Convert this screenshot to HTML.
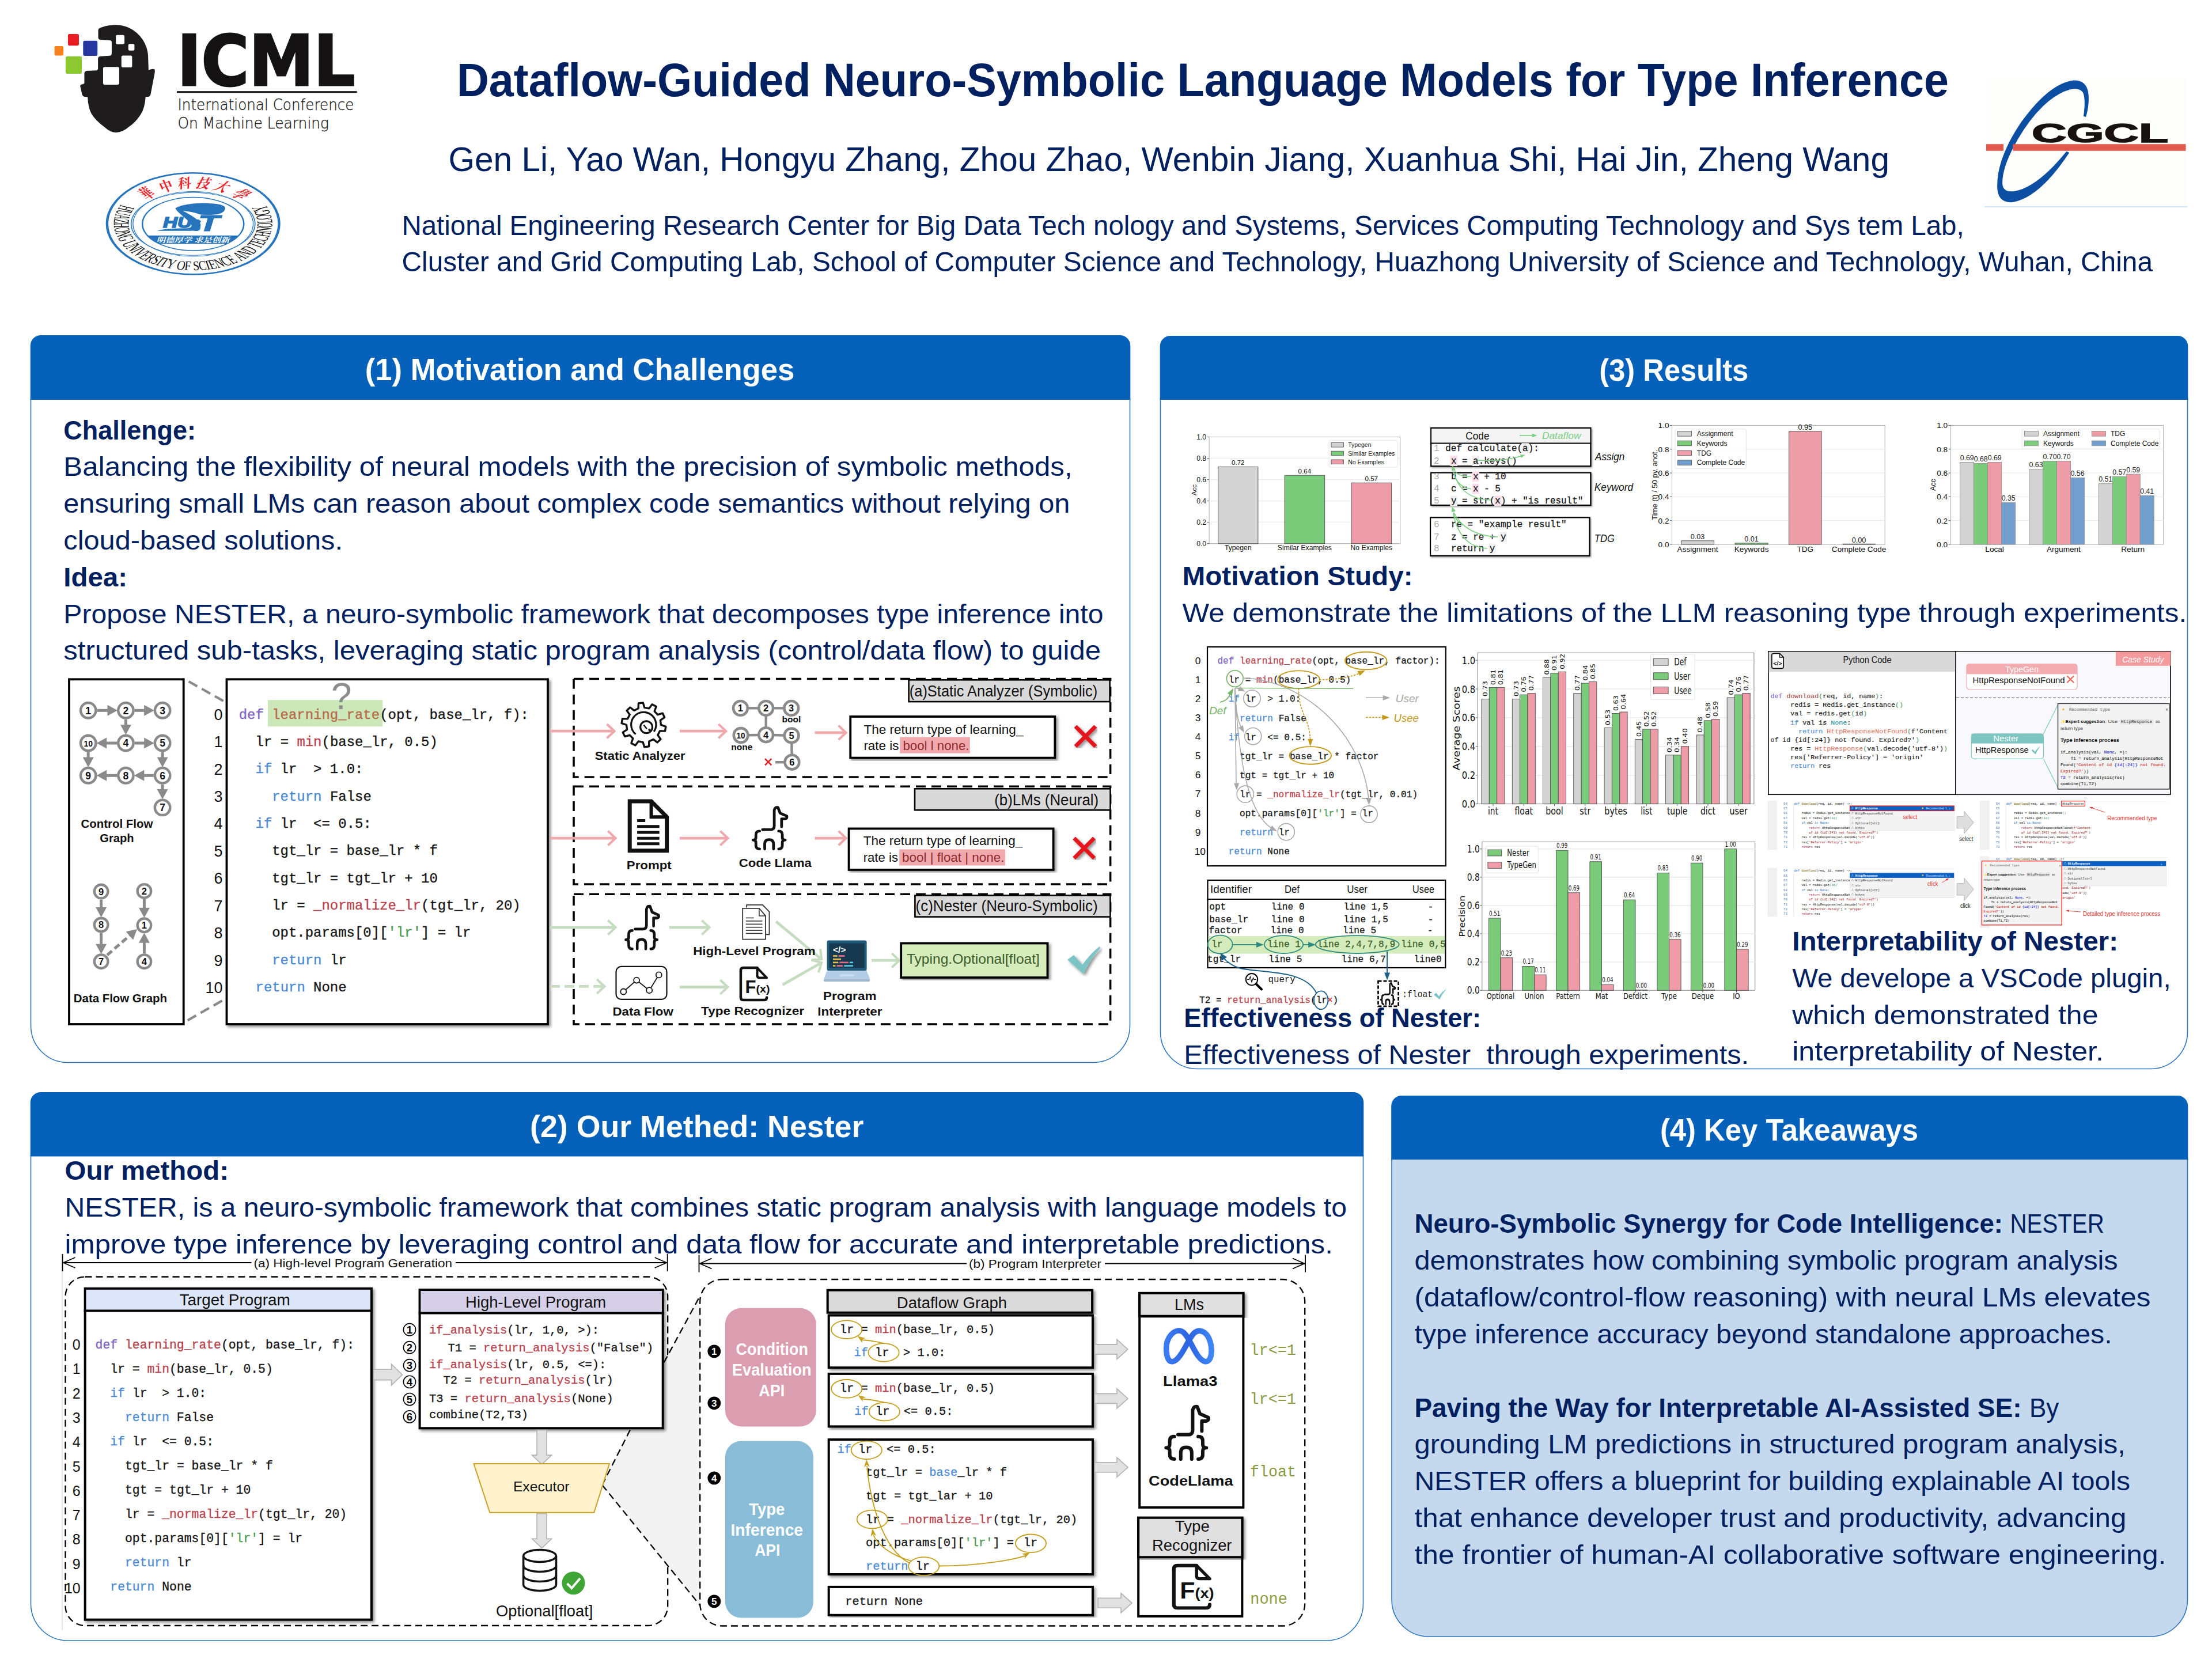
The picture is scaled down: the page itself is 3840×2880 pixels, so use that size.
<!DOCTYPE html>
<html lang="en">
<head>
<meta charset="utf-8">
<title>Dataflow-Guided Neuro-Symbolic Language Models for Type Inference</title>
<style>
html,body{margin:0;padding:0;background:#fff;}
body{width:3840px;height:2880px;overflow:hidden;}
svg{display:block;}
text{white-space:pre;}
.fs{font-family:"Liberation Sans",sans-serif;}
.fm{font-family:"Liberation Mono",monospace;}
.fr{font-family:"Liberation Serif","Noto Serif CJK SC",serif;}
.fd{font-family:"DejaVu Sans","Liberation Sans",sans-serif;}
.fdm{font-family:"DejaVu Sans Mono","Liberation Mono",monospace;}
</style>
</head>
<body>
<svg width="3840" height="2880" viewBox="0 0 3840 2880">
<defs>
<filter id="sh" x="-5%" y="-5%" width="112%" height="112%"><feDropShadow dx="3" dy="3" stdDeviation="2.5" flood-color="#000" flood-opacity="0.45"/></filter>
</defs>
<path d="M53.5,692 V1780.5 A64,64 0 0 0 117.5,1844.5 H1897.5 A64,64 0 0 0 1961.5,1780.5 V692 Z" fill="#fff" stroke="#2E75C0" stroke-width="1.6" />
<path d="M52.7,694 V600 A18,18 0 0 1 70.7,582 H1944.3 A18,18 0 0 1 1962.3,600 V694 Z" fill="#0561B9" />
<path d="M2014.5,692 V1791.5 A64,64 0 0 0 2078.5,1855.5 H3733.5 A64,64 0 0 0 3797.5,1791.5 V692 Z" fill="#fff" stroke="#2E75C0" stroke-width="1.6" />
<path d="M2013.7,694 V601 A18,18 0 0 1 2031.7,583 H3780.3 A18,18 0 0 1 3798.3,601 V694 Z" fill="#0561B9" />
<path d="M53.5,2005.5 V2784 A64,64 0 0 0 117.5,2848 H2302.5 A64,64 0 0 0 2366.5,2784 V2005.5 Z" fill="#fff" stroke="#2E75C0" stroke-width="1.6" />
<path d="M52.7,2007.5 V1914 A18,18 0 0 1 70.7,1896 H2349.3 A18,18 0 0 1 2367.3,1914 V2007.5 Z" fill="#0561B9" />
<path d="M2416,2011 V2777 A64,64 0 0 0 2480,2841 H3733.5 A64,64 0 0 0 3797.5,2777 V2011 Z" fill="#C4D9ED" stroke="#2E75C0" stroke-width="1.6" />
<path d="M2415.2,2013 V1920 A18,18 0 0 1 2433.2,1902 H3780.3 A18,18 0 0 1 3798.3,1920 V2013 Z" fill="#0561B9" />
<text class="fs" x="633.7" y="659.5" font-size="53" textLength="745.6" lengthAdjust="spacingAndGlyphs" font-weight="bold" fill="#fff">(1) Motivation and Challenges</text>
<text class="fs" x="2776.3" y="661.0" font-size="53" textLength="259.0" lengthAdjust="spacingAndGlyphs" font-weight="bold" fill="#fff">(3) Results</text>
<text class="fs" x="920.0" y="1974.4" font-size="53" textLength="579.4" lengthAdjust="spacingAndGlyphs" font-weight="bold" fill="#fff">(2) Our Methed: Nester</text>
<text class="fs" x="2881.9" y="1980.2" font-size="53" textLength="448.1" lengthAdjust="spacingAndGlyphs" font-weight="bold" fill="#fff">(4) Key Takeaways</text>
<text class="fs" x="793.0" y="166.8" font-size="82" textLength="2590.0" lengthAdjust="spacingAndGlyphs" font-weight="bold" fill="#002060">Dataflow-Guided Neuro-Symbolic Language Models for Type Inference</text>
<text class="fs" x="778.5" y="297.0" font-size="60" textLength="2501.5" lengthAdjust="spacingAndGlyphs" fill="#002060">Gen Li, Yao Wan, Hongyu Zhang, Zhou Zhao, Wenbin Jiang, Xuanhua Shi, Hai Jin, Zheng Wang</text>
<text class="fs" x="697.5" y="407.5" font-size="48.5" textLength="2712.1" lengthAdjust="spacingAndGlyphs" fill="#002060">National Engineering Research Center for Big Data Tech nology and Systems, Services Computing Technology and Sys tem Lab,</text>
<text class="fs" x="697.5" y="470.8" font-size="48.5" textLength="3039.5" lengthAdjust="spacingAndGlyphs" fill="#002060">Cluster and Grid Computing Lab, School of Computer Science and Technology, Huazhong University of Science and Technology, Wuhan, China</text>
<text class="fs" x="110.3" y="762.6" font-size="47" textLength="229.7" lengthAdjust="spacingAndGlyphs" font-weight="bold" fill="#002060">Challenge:</text>
<text class="fs" x="110.3" y="826.4" font-size="47" textLength="1751.5" lengthAdjust="spacingAndGlyphs" fill="#002060">Balancing the flexibility of neural models with the precision of symbolic methods,</text>
<text class="fs" x="110.3" y="890.2" font-size="47" textLength="1747.0" lengthAdjust="spacingAndGlyphs" fill="#002060">ensuring small LMs can reason about complex code semantics without relying on</text>
<text class="fs" x="110.3" y="954.0" font-size="47" textLength="484.7" lengthAdjust="spacingAndGlyphs" fill="#002060">cloud-based solutions.</text>
<text class="fs" x="110.3" y="1017.8" font-size="47" textLength="110.7" lengthAdjust="spacingAndGlyphs" font-weight="bold" fill="#002060">Idea:</text>
<text class="fs" x="110.3" y="1081.6" font-size="47" textLength="1805.2" lengthAdjust="spacingAndGlyphs" fill="#002060">Propose NESTER, a neuro-symbolic framework that decomposes type inference into</text>
<text class="fs" x="110.3" y="1145.4" font-size="47" textLength="1800.7" lengthAdjust="spacingAndGlyphs" fill="#002060">structured sub-tasks, leveraging static program analysis (control/data flow) to guide</text>
<text class="fs" x="2052.5" y="1015.5" font-size="47" textLength="400.1" lengthAdjust="spacingAndGlyphs" font-weight="bold" fill="#002060">Motivation Study:</text>
<text class="fs" x="2052.5" y="1080.3" font-size="47" textLength="1743.8" lengthAdjust="spacingAndGlyphs" fill="#002060">We demonstrate the limitations of the LLM reasoning type through experiments.</text>
<text class="fs" x="112.5" y="2048.1" font-size="47" textLength="284.5" lengthAdjust="spacingAndGlyphs" font-weight="bold" fill="#002060">Our method:</text>
<text class="fs" x="112.5" y="2111.9" font-size="47" textLength="2225.5" lengthAdjust="spacingAndGlyphs" fill="#002060">NESTER, is a neuro-symbolic framework that combines static program analysis with language models to</text>
<text class="fs" x="112.5" y="2175.9" font-size="47" textLength="2201.5" lengthAdjust="spacingAndGlyphs" fill="#002060">improve type inference by leveraging control and data flow for accurate and interpretable predictions.</text>
<text class="fs" x="2455.5" y="2140.0" font-size="47" textLength="1021.5" lengthAdjust="spacingAndGlyphs" font-weight="bold" fill="#002060">Neuro-Symbolic Synergy for Code Intelligence:</text>
<text class="fs" x="3489.5" y="2140.0" font-size="47" textLength="163.2" lengthAdjust="spacingAndGlyphs" fill="#002060">NESTER</text>
<text class="fs" x="2455.5" y="2204.2" font-size="47" textLength="1221.2" lengthAdjust="spacingAndGlyphs" fill="#002060">demonstrates how combining symbolic program analysis</text>
<text class="fs" x="2455.5" y="2268.0" font-size="47" textLength="1278.1" lengthAdjust="spacingAndGlyphs" fill="#002060">(dataflow/control-flow reasoning) with neural LMs elevates</text>
<text class="fs" x="2455.5" y="2331.8" font-size="47" textLength="1211.2" lengthAdjust="spacingAndGlyphs" fill="#002060">type inference accuracy beyond standalone approaches.</text>
<text class="fs" x="2455.5" y="2459.6" font-size="47" textLength="1054.0" lengthAdjust="spacingAndGlyphs" font-weight="bold" fill="#002060">Paving the Way for Interpretable AI-Assisted SE:</text>
<text class="fs" x="3523.0" y="2459.6" font-size="47" textLength="51.4" lengthAdjust="spacingAndGlyphs" fill="#002060">By</text>
<text class="fs" x="2455.5" y="2523.4" font-size="47" textLength="1234.5" lengthAdjust="spacingAndGlyphs" fill="#002060">grounding LM predictions in structured program analysis,</text>
<text class="fs" x="2455.5" y="2587.2" font-size="47" textLength="1242.5" lengthAdjust="spacingAndGlyphs" fill="#002060">NESTER offers a blueprint for building explainable AI tools</text>
<text class="fs" x="2455.5" y="2651.0" font-size="47" textLength="1236.0" lengthAdjust="spacingAndGlyphs" fill="#002060">that enhance developer trust and productivity, advancing</text>
<text class="fs" x="2455.5" y="2714.8" font-size="47" textLength="1304.9" lengthAdjust="spacingAndGlyphs" fill="#002060">the frontier of human-AI collaborative software engineering.</text>
<g transform="translate(80,30) scale(0.12658)">
<path d="M715,180 Q715,150 760,138 Q860,105 950,105 Q1150,105 1290,260 Q1400,390 1400,560 L1405,722 Q1460,705 1485,712 Q1495,720 1490,760 L1435,1050 Q1428,1088 1395,1090 L1365,1090 Q1355,1240 1300,1330 Q1230,1440 1140,1500 Q1050,1580 960,1580 Q880,1580 800,1505 Q680,1420 620,1320 Q575,1230 570,1092 L530,1090 Q500,1085 492,1050 L468,945 Q465,925 490,920 L515,915 Q525,912 525,895 L525,775 Q525,738 560,735 L690,728 Q712,726 712,700 L712,570 Q712,538 745,535 L870,528 Q900,525 900,495 L900,345 Q900,318 870,316 L745,308 Q715,305 715,275 Z" fill="#1E1C1C" />
<rect x="300.0" y="230.0" width="150.0" height="160.0" fill="#EC1C24" rx="22"/>
<rect x="115.0" y="395.0" width="123.0" height="130.0" fill="#F5821F" rx="20"/>
<rect x="508.0" y="322.0" width="197.0" height="208.0" fill="#2638A0" rx="24"/>
<rect x="268.0" y="535.0" width="222.0" height="240.0" fill="#8CC82F" rx="24"/>
<rect x="957.0" y="243.0" width="118.0" height="127.0" fill="#fff" rx="20"/>
<rect x="1128.0" y="365.0" width="84.0" height="92.0" fill="#fff" rx="18"/>
<rect x="1033.0" y="525.0" width="147.0" height="163.0" fill="#fff" rx="20"/>
<rect x="782.0" y="682.0" width="221.0" height="243.0" fill="#fff" rx="22"/>
</g>
<text class="fd" x="307.5" y="148.1" font-size="121" textLength="309.0" lengthAdjust="spacingAndGlyphs" font-weight="bold" fill="#141212" stroke="#141212" stroke-width="3">ICML</text>
<rect x="307.0" y="158.2" width="312.7" height="3.0" fill="#141212"/>
<text class="fd" x="308.5" y="190.7" font-size="26.5" textLength="306.0" lengthAdjust="spacingAndGlyphs" font-weight="200" fill="#1a1a1a" stroke="#1a1a1a" stroke-width="0.35">International Conference</text>
<text class="fd" x="308.5" y="222.5" font-size="26.5" textLength="262.5" lengthAdjust="spacingAndGlyphs" font-weight="200" fill="#1a1a1a" stroke="#1a1a1a" stroke-width="0.35">On Machine Learning</text>
<g transform="translate(335.2,388.3) scale(1.697,1)">
<circle cx="0.0" cy="0.0" r="88.0" fill="#fff" stroke="#2574BC" stroke-width="2.6" />
<ellipse cx="0.0" cy="0.5" rx="63.4" ry="54.5" fill="none" stroke="#2574BC" stroke-width="1.0" />
<ellipse cx="0.0" cy="0.5" rx="61.5" ry="56.3" fill="none" stroke="#2574BC" stroke-width="0.8" />
<ellipse cx="0.0" cy="0.5" rx="51.9" ry="46.2" fill="none" stroke="#2574BC" stroke-width="1.5" />
<clipPath id="hcl"><ellipse cx="0" cy="0.5" rx="51.9" ry="46.2"/></clipPath>
<rect x="-56.0" y="20.5" width="112.0" height="14.4" fill="#2574BC" clip-path="url(#hcl)"/>
<text class="fr" font-size="23" fill="#151515" text-anchor="middle" transform="translate(-75.62,-29.02) rotate(111.0) scale(0.512,1)">H</text>
<text class="fr" font-size="23" fill="#151515" text-anchor="middle" transform="translate(-78.25,-20.93) rotate(105.0) scale(0.512,1)">U</text>
<text class="fr" font-size="23" fill="#151515" text-anchor="middle" transform="translate(-80.01,-12.61) rotate(99.0) scale(0.512,1)">A</text>
<text class="fr" font-size="23" fill="#151515" text-anchor="middle" transform="translate(-80.86,-4.80) rotate(93.4) scale(0.512,1)">Z</text>
<text class="fr" font-size="23" fill="#151515" text-anchor="middle" transform="translate(-80.94,3.04) rotate(87.8) scale(0.512,1)">H</text>
<text class="fr" font-size="23" fill="#151515" text-anchor="middle" transform="translate(-80.18,11.51) rotate(81.8) scale(0.512,1)">O</text>
<text class="fr" font-size="23" fill="#151515" text-anchor="middle" transform="translate(-78.53,19.86) rotate(75.8) scale(0.512,1)">N</text>
<text class="fr" font-size="23" fill="#151515" text-anchor="middle" transform="translate(-76.01,27.98) rotate(69.8) scale(0.512,1)">G</text>
<text class="fr" font-size="23" fill="#151515" text-anchor="middle" transform="translate(-71.31,38.41) rotate(61.7) scale(0.512,1)">U</text>
<text class="fr" font-size="23" fill="#151515" text-anchor="middle" transform="translate(-66.89,45.68) rotate(55.7) scale(0.512,1)">N</text>
<text class="fr" font-size="23" fill="#151515" text-anchor="middle" transform="translate(-63.19,50.67) rotate(51.3) scale(0.512,1)">I</text>
<text class="fr" font-size="23" fill="#151515" text-anchor="middle" transform="translate(-59.12,55.37) rotate(46.9) scale(0.512,1)">V</text>
<text class="fr" font-size="23" fill="#151515" text-anchor="middle" transform="translate(-53.49,60.83) rotate(41.3) scale(0.512,1)">E</text>
<text class="fr" font-size="23" fill="#151515" text-anchor="middle" transform="translate(-47.61,65.53) rotate(36.0) scale(0.512,1)">R</text>
<text class="fr" font-size="23" fill="#151515" text-anchor="middle" transform="translate(-41.60,69.50) rotate(30.9) scale(0.512,1)">S</text>
<text class="fr" font-size="23" fill="#151515" text-anchor="middle" transform="translate(-37.02,72.04) rotate(27.2) scale(0.512,1)">I</text>
<text class="fr" font-size="23" fill="#151515" text-anchor="middle" transform="translate(-32.00,74.41) rotate(23.3) scale(0.512,1)">T</text>
<text class="fr" font-size="23" fill="#151515" text-anchor="middle" transform="translate(-24.64,77.16) rotate(17.7) scale(0.512,1)">Y</text>
<text class="fr" font-size="23" fill="#151515" text-anchor="middle" transform="translate(-13.52,79.86) rotate(9.6) scale(0.512,1)">O</text>
<text class="fr" font-size="23" fill="#151515" text-anchor="middle" transform="translate(-6.05,80.77) rotate(4.3) scale(0.512,1)">F</text>
<text class="fr" font-size="23" fill="#151515" text-anchor="middle" transform="translate(3.44,80.93) rotate(-2.4) scale(0.512,1)">S</text>
<text class="fr" font-size="23" fill="#151515" text-anchor="middle" transform="translate(10.61,80.30) rotate(-7.5) scale(0.512,1)">C</text>
<text class="fr" font-size="23" fill="#151515" text-anchor="middle" transform="translate(16.42,79.32) rotate(-11.7) scale(0.512,1)">I</text>
<text class="fr" font-size="23" fill="#151515" text-anchor="middle" transform="translate(21.82,78.01) rotate(-15.6) scale(0.512,1)">E</text>
<text class="fr" font-size="23" fill="#151515" text-anchor="middle" transform="translate(29.27,75.53) rotate(-21.2) scale(0.512,1)">N</text>
<text class="fr" font-size="23" fill="#151515" text-anchor="middle" transform="translate(36.74,72.19) rotate(-27.0) scale(0.512,1)">C</text>
<text class="fr" font-size="23" fill="#151515" text-anchor="middle" transform="translate(43.28,68.47) rotate(-32.3) scale(0.512,1)">E</text>
<text class="fr" font-size="23" fill="#151515" text-anchor="middle" transform="translate(51.99,62.11) rotate(-39.9) scale(0.512,1)">A</text>
<text class="fr" font-size="23" fill="#151515" text-anchor="middle" transform="translate(58.22,56.32) rotate(-46.0) scale(0.512,1)">N</text>
<text class="fr" font-size="23" fill="#151515" text-anchor="middle" transform="translate(63.80,49.90) rotate(-52.0) scale(0.512,1)">D</text>
<text class="fr" font-size="23" fill="#151515" text-anchor="middle" transform="translate(69.87,40.98) rotate(-59.6) scale(0.512,1)">T</text>
<text class="fr" font-size="23" fill="#151515" text-anchor="middle" transform="translate(73.23,34.62) rotate(-64.7) scale(0.512,1)">E</text>
<text class="fr" font-size="23" fill="#151515" text-anchor="middle" transform="translate(76.13,27.68) rotate(-70.0) scale(0.512,1)">C</text>
<text class="fr" font-size="23" fill="#151515" text-anchor="middle" transform="translate(78.53,19.86) rotate(-75.8) scale(0.512,1)">H</text>
<text class="fr" font-size="23" fill="#151515" text-anchor="middle" transform="translate(80.18,11.51) rotate(-81.8) scale(0.512,1)">N</text>
<text class="fr" font-size="23" fill="#151515" text-anchor="middle" transform="translate(80.94,3.04) rotate(-87.8) scale(0.512,1)">O</text>
<text class="fr" font-size="23" fill="#151515" text-anchor="middle" transform="translate(80.86,-4.80) rotate(-93.4) scale(0.512,1)">L</text>
<text class="fr" font-size="23" fill="#151515" text-anchor="middle" transform="translate(80.01,-12.61) rotate(-99.0) scale(0.512,1)">O</text>
<text class="fr" font-size="23" fill="#151515" text-anchor="middle" transform="translate(78.25,-20.93) rotate(-105.0) scale(0.512,1)">G</text>
<text class="fr" font-size="23" fill="#151515" text-anchor="middle" transform="translate(75.62,-29.02) rotate(-111.0) scale(0.512,1)">Y</text>
<text class="fr" font-size="23" font-weight="bold" font-style="italic" fill="#E8252B" text-anchor="middle" transform="translate(-42.62,-45.71) rotate(317.0) scale(0.6,1)">華</text>
<text class="fr" font-size="23" font-weight="bold" font-style="italic" fill="#E8252B" text-anchor="middle" transform="translate(-25.42,-57.10) rotate(336.0) scale(0.6,1)">中</text>
<text class="fr" font-size="23" font-weight="bold" font-style="italic" fill="#E8252B" text-anchor="middle" transform="translate(-8.70,-61.89) rotate(352.0) scale(0.6,1)">科</text>
<text class="fr" font-size="23" font-weight="bold" font-style="italic" fill="#E8252B" text-anchor="middle" transform="translate(8.70,-61.89) rotate(368.0) scale(0.6,1)">技</text>
<text class="fr" font-size="23" font-weight="bold" font-style="italic" fill="#E8252B" text-anchor="middle" transform="translate(25.42,-57.10) rotate(384.0) scale(0.6,1)">大</text>
<text class="fr" font-size="23" font-weight="bold" font-style="italic" fill="#E8252B" text-anchor="middle" transform="translate(42.62,-45.71) rotate(403.0) scale(0.6,1)">學</text>
</g>
<text class="fr" x="271.5" y="420.6" font-size="12.5" textLength="127.0" lengthAdjust="spacingAndGlyphs" font-weight="bold" fill="#fff" font-style="italic">明德厚学 求是创新</text>
<g transform="translate(170,285) scale(0.14919)">
<path d="M900,515 C960,470 1150,445 1300,455 C1420,460 1490,480 1480,520 C1470,570 1400,592 1290,590 L1200,588 C1120,560 1040,545 990,545 C1080,590 1180,650 1195,700 C1200,750 1150,774 1080,776 L690,776 C760,755 850,750 950,748 L1040,745 C1090,740 1100,715 1080,690 C1030,630 930,570 900,515 Z" fill="#2574BC" />
</g>
<text class="fs" x="283.0" y="395.3" font-size="25" textLength="50.0" lengthAdjust="spacingAndGlyphs" font-weight="bold" fill="#2574BC" font-style="italic" stroke="#2574BC" stroke-width="1.6">HU</text>
<text class="fs" x="333.0" y="400.6" font-size="30" textLength="16.0" lengthAdjust="spacingAndGlyphs" font-weight="bold" fill="#2574BC" font-style="italic">S</text>
<text class="fs" x="344.0" y="400.6" font-size="38.5" textLength="37.0" lengthAdjust="spacingAndGlyphs" font-weight="bold" fill="#2574BC" font-style="italic" stroke="#2574BC" stroke-width="1.2">T</text>
<rect x="3445.0" y="135.0" width="352.5" height="224.0" fill="#FEFEFC"/>
<line x1="3445.0" y1="359.0" x2="3797.5" y2="359.0" stroke="#BBD6F2" stroke-width="1.4" />
<g transform="translate(3440,100) scale(0.18083)">
<path d="M978,562 Q1000,420 978,345 Q950,285 850,305 Q620,370 400,700 Q195,1020 200,1210 Q205,1300 320,1282 Q540,1240 815,900 L842,912 Q560,1340 300,1388 Q148,1400 150,1230 Q150,960 380,620 Q650,245 885,218 Q1012,215 1026,350 Q1036,450 1002,570 Z" fill="#0B4EA2" />
</g>
<rect x="3448.0" y="250.2" width="30.0" height="11.6" fill="#E0584C"/>
<rect x="3494.5" y="250.2" width="300.0" height="11.6" fill="#E0584C"/>
<text class="fs" x="3527.0" y="247.4" font-size="46" textLength="237.0" lengthAdjust="spacingAndGlyphs" font-weight="bold" fill="#17110f" stroke="#17110f" stroke-width="1.5">CGCL</text>
<g id="fig1">
<rect x="120.0" y="1179.3" width="198.7" height="598.7" fill="#fff" stroke="#000" stroke-width="3.8"/>
<line x1="168.6" y1="1233.3" x2="187.5" y2="1233.3" stroke="#8a8a8a" stroke-width="5" />
<polygon points="204.0,1233.3 186.5,1242.8 186.5,1223.8" fill="#8a8a8a"/>
<line x1="233.8" y1="1233.3" x2="251.2" y2="1233.3" stroke="#8a8a8a" stroke-width="5" />
<polygon points="267.7,1233.3 250.2,1242.8 250.2,1223.8" fill="#8a8a8a"/>
<line x1="218.4" y1="1248.7" x2="218.4" y2="1259.1" stroke="#8a8a8a" stroke-width="5" />
<polygon points="218.4,1275.6 208.9,1258.1 227.9,1258.1" fill="#8a8a8a"/>
<line x1="203.0" y1="1290.0" x2="184.1" y2="1290.0" stroke="#8a8a8a" stroke-width="5" />
<polygon points="167.6,1290.0 185.1,1280.5 185.1,1299.5" fill="#8a8a8a"/>
<line x1="233.8" y1="1290.0" x2="251.2" y2="1290.0" stroke="#8a8a8a" stroke-width="5" />
<polygon points="267.7,1290.0 250.2,1299.5 250.2,1280.5" fill="#8a8a8a"/>
<line x1="153.2" y1="1305.4" x2="153.2" y2="1315.4" stroke="#8a8a8a" stroke-width="5" />
<polygon points="153.2,1331.9 143.7,1314.4 162.7,1314.4" fill="#8a8a8a"/>
<line x1="282.1" y1="1305.4" x2="282.1" y2="1315.4" stroke="#8a8a8a" stroke-width="5" />
<polygon points="282.1,1331.9 272.6,1314.4 291.6,1314.4" fill="#8a8a8a"/>
<line x1="266.7" y1="1346.3" x2="249.3" y2="1346.3" stroke="#8a8a8a" stroke-width="5" />
<polygon points="232.8,1346.3 250.3,1336.8 250.3,1355.8" fill="#8a8a8a"/>
<line x1="203.0" y1="1346.3" x2="184.1" y2="1346.3" stroke="#8a8a8a" stroke-width="5" />
<polygon points="167.6,1346.3 185.1,1336.8 185.1,1355.8" fill="#8a8a8a"/>
<line x1="282.1" y1="1361.7" x2="282.1" y2="1371.0" stroke="#8a8a8a" stroke-width="5" />
<polygon points="282.1,1387.5 272.6,1370.0 291.6,1370.0" fill="#8a8a8a"/>
<circle cx="153.2" cy="1233.3" r="13.2" fill="#fff" stroke="#8a8a8a" stroke-width="4.5" />
<text class="fs" x="153.2" y="1239.6" font-size="17.5" font-weight="bold" fill="#111" text-anchor="middle">1</text>
<circle cx="218.4" cy="1233.3" r="13.2" fill="#fff" stroke="#8a8a8a" stroke-width="4.5" />
<text class="fs" x="218.4" y="1239.6" font-size="17.5" font-weight="bold" fill="#111" text-anchor="middle">2</text>
<circle cx="282.1" cy="1233.3" r="13.2" fill="#fff" stroke="#8a8a8a" stroke-width="4.5" />
<text class="fs" x="282.1" y="1239.6" font-size="17.5" font-weight="bold" fill="#111" text-anchor="middle">3</text>
<circle cx="153.2" cy="1290.0" r="13.2" fill="#fff" stroke="#8a8a8a" stroke-width="4.5" />
<text class="fs" x="153.2" y="1295.6" font-size="15.5" font-weight="bold" fill="#111" text-anchor="middle" textLength="15.5" lengthAdjust="spacingAndGlyphs">10</text>
<circle cx="218.4" cy="1290.0" r="13.2" fill="#fff" stroke="#8a8a8a" stroke-width="4.5" />
<text class="fs" x="218.4" y="1296.3" font-size="17.5" font-weight="bold" fill="#111" text-anchor="middle">4</text>
<circle cx="282.1" cy="1290.0" r="13.2" fill="#fff" stroke="#8a8a8a" stroke-width="4.5" />
<text class="fs" x="282.1" y="1296.3" font-size="17.5" font-weight="bold" fill="#111" text-anchor="middle">5</text>
<circle cx="153.2" cy="1346.3" r="13.2" fill="#fff" stroke="#8a8a8a" stroke-width="4.5" />
<text class="fs" x="153.2" y="1352.6" font-size="17.5" font-weight="bold" fill="#111" text-anchor="middle">9</text>
<circle cx="218.4" cy="1346.3" r="13.2" fill="#fff" stroke="#8a8a8a" stroke-width="4.5" />
<text class="fs" x="218.4" y="1352.6" font-size="17.5" font-weight="bold" fill="#111" text-anchor="middle">8</text>
<circle cx="282.1" cy="1346.3" r="13.2" fill="#fff" stroke="#8a8a8a" stroke-width="4.5" />
<text class="fs" x="282.1" y="1352.6" font-size="17.5" font-weight="bold" fill="#111" text-anchor="middle">6</text>
<circle cx="282.1" cy="1401.9" r="13.2" fill="#fff" stroke="#8a8a8a" stroke-width="4.5" />
<text class="fs" x="282.1" y="1408.2" font-size="17.5" font-weight="bold" fill="#111" text-anchor="middle">7</text>
<text class="fs" x="140.5" y="1437.0" font-size="19.6" textLength="124.8" lengthAdjust="spacingAndGlyphs" font-weight="bold" fill="#111">Control Flow</text>
<text class="fs" x="173.3" y="1462.0" font-size="19.6" textLength="59.2" lengthAdjust="spacingAndGlyphs" font-weight="bold" fill="#111">Graph</text>
<line x1="175.6" y1="1561.6" x2="175.6" y2="1576.0" stroke="#8a8a8a" stroke-width="5" />
<polygon points="175.6,1592.5 166.1,1575.0 185.1,1575.0" fill="#8a8a8a"/>
<line x1="175.6" y1="1619.5" x2="175.6" y2="1639.7" stroke="#8a8a8a" stroke-width="5" />
<polygon points="175.6,1656.2 166.1,1638.7 185.1,1638.7" fill="#8a8a8a"/>
<line x1="250.4" y1="1560.9" x2="250.4" y2="1576.8" stroke="#8a8a8a" stroke-width="5" />
<polygon points="250.4,1593.3 240.9,1575.8 259.9,1575.8" fill="#8a8a8a"/>
<line x1="250.4" y1="1655.2" x2="250.4" y2="1635.8" stroke="#8a8a8a" stroke-width="5" />
<polygon points="250.4,1619.3 259.9,1636.8 240.9,1636.8" fill="#8a8a8a"/>
<line x1="186.0" y1="1658.0" x2="225.5" y2="1623.8" stroke="#8a8a8a" stroke-width="5" stroke-dasharray="11 6"/>
<polygon points="238.0,1613.0 231.0,1631.6 218.6,1617.3" fill="#8a8a8a"/>
<circle cx="175.6" cy="1547.6" r="11.8" fill="#fff" stroke="#8a8a8a" stroke-width="4.4" />
<text class="fs" x="175.6" y="1553.5" font-size="16.5" font-weight="bold" fill="#111" text-anchor="middle">9</text>
<circle cx="175.6" cy="1605.5" r="11.8" fill="#fff" stroke="#8a8a8a" stroke-width="4.4" />
<text class="fs" x="175.6" y="1611.4" font-size="16.5" font-weight="bold" fill="#111" text-anchor="middle">8</text>
<circle cx="175.6" cy="1669.2" r="11.8" fill="#fff" stroke="#8a8a8a" stroke-width="4.4" />
<text class="fs" x="175.6" y="1675.1" font-size="16.5" font-weight="bold" fill="#111" text-anchor="middle">7</text>
<circle cx="250.4" cy="1546.9" r="11.8" fill="#fff" stroke="#8a8a8a" stroke-width="4.4" />
<text class="fs" x="250.4" y="1552.8" font-size="16.5" font-weight="bold" fill="#111" text-anchor="middle">2</text>
<circle cx="250.4" cy="1606.3" r="11.8" fill="#fff" stroke="#8a8a8a" stroke-width="4.4" />
<text class="fs" x="250.4" y="1612.2" font-size="16.5" font-weight="bold" fill="#111" text-anchor="middle">1</text>
<circle cx="250.4" cy="1669.2" r="11.8" fill="#fff" stroke="#8a8a8a" stroke-width="4.4" />
<text class="fs" x="250.4" y="1675.1" font-size="16.5" font-weight="bold" fill="#111" text-anchor="middle">4</text>
<text class="fs" x="127.8" y="1739.8" font-size="19.6" textLength="162.2" lengthAdjust="spacingAndGlyphs" font-weight="bold" fill="#111">Data Flow Graph</text>
<line x1="327.6" y1="1183.0" x2="393.0" y2="1219.8" stroke="#8a8a8a" stroke-width="4.3" stroke-dasharray="17 9"/>
<line x1="325.7" y1="1771.4" x2="393.0" y2="1732.8" stroke="#8a8a8a" stroke-width="4.3" stroke-dasharray="17 9"/>
<rect x="393.5" y="1179.3" width="557.4" height="598.7" fill="#fff" stroke="#000" stroke-width="3.8" filter="url(#sh)"/>
<text class="fs" x="386.5" y="1249.5" font-size="27" fill="#111" text-anchor="end">0</text>
<text class="fs" x="386.5" y="1297.0" font-size="27" fill="#111" text-anchor="end">1</text>
<text class="fs" x="386.5" y="1344.5" font-size="27" fill="#111" text-anchor="end">2</text>
<text class="fs" x="386.5" y="1391.9" font-size="27" fill="#111" text-anchor="end">3</text>
<text class="fs" x="386.5" y="1439.4" font-size="27" fill="#111" text-anchor="end">4</text>
<text class="fs" x="386.5" y="1486.9" font-size="27" fill="#111" text-anchor="end">5</text>
<text class="fs" x="386.5" y="1534.4" font-size="27" fill="#111" text-anchor="end">6</text>
<text class="fs" x="386.5" y="1581.9" font-size="27" fill="#111" text-anchor="end">7</text>
<text class="fs" x="386.5" y="1629.3" font-size="27" fill="#111" text-anchor="end">8</text>
<text class="fs" x="386.5" y="1676.8" font-size="27" fill="#111" text-anchor="end">9</text>
<text class="fs" x="386.5" y="1724.3" font-size="27" fill="#111" text-anchor="end">10</text>
<rect x="464.9" y="1215.2" width="199.4" height="45.9" fill="#CCE8B8"/>
<text class="fs" x="592.9" y="1231.0" font-size="64" fill="#8c8c8c" text-anchor="middle">?</text>
<text class="fm" x="414.7" y="1247.8" font-size="24" textLength="43.1" lengthAdjust="spacingAndGlyphs" fill="#7E62C4" stroke="#7E62C4" stroke-width="0.38">def</text>
<text class="fm" x="472.2" y="1247.8" font-size="24" textLength="186.9" lengthAdjust="spacingAndGlyphs" fill="#B8694A" stroke="#B8694A" stroke-width="0.38">learning_rate</text>
<text class="fm" x="659.2" y="1247.8" font-size="24" textLength="258.8" lengthAdjust="spacingAndGlyphs" fill="#161616" stroke="#161616" stroke-width="0.38">(opt, base_lr, f):</text>
<text class="fm" x="443.5" y="1295.1" font-size="24" textLength="57.5" lengthAdjust="spacingAndGlyphs" fill="#161616" stroke="#161616" stroke-width="0.38">lr =</text>
<text class="fm" x="515.4" y="1295.1" font-size="24" textLength="43.1" lengthAdjust="spacingAndGlyphs" fill="#B8434E" stroke="#B8434E" stroke-width="0.38">min</text>
<text class="fm" x="558.5" y="1295.1" font-size="24" textLength="201.3" lengthAdjust="spacingAndGlyphs" fill="#161616" stroke="#161616" stroke-width="0.38">(base_lr, 0.5)</text>
<text class="fm" x="443.5" y="1342.4" font-size="24" textLength="28.8" lengthAdjust="spacingAndGlyphs" fill="#4B8BD4" stroke="#4B8BD4" stroke-width="0.38">if</text>
<text class="fm" x="486.6" y="1342.4" font-size="24" textLength="143.8" lengthAdjust="spacingAndGlyphs" fill="#161616" stroke="#161616" stroke-width="0.38">lr  &gt; 1.0:</text>
<text class="fm" x="472.2" y="1389.7" font-size="24" textLength="86.3" lengthAdjust="spacingAndGlyphs" fill="#4B8BD4" stroke="#4B8BD4" stroke-width="0.38">return</text>
<text class="fm" x="572.9" y="1389.7" font-size="24" textLength="71.9" lengthAdjust="spacingAndGlyphs" fill="#161616" stroke="#161616" stroke-width="0.38">False</text>
<text class="fm" x="443.5" y="1437.0" font-size="24" textLength="28.8" lengthAdjust="spacingAndGlyphs" fill="#4B8BD4" stroke="#4B8BD4" stroke-width="0.38">if</text>
<text class="fm" x="486.6" y="1437.0" font-size="24" textLength="158.2" lengthAdjust="spacingAndGlyphs" fill="#161616" stroke="#161616" stroke-width="0.38">lr  &lt;= 0.5:</text>
<text class="fm" x="472.2" y="1484.3" font-size="24" textLength="287.6" lengthAdjust="spacingAndGlyphs" fill="#161616" stroke="#161616" stroke-width="0.38">tgt_lr = base_lr * f</text>
<text class="fm" x="472.2" y="1531.6" font-size="24" textLength="287.6" lengthAdjust="spacingAndGlyphs" fill="#161616" stroke="#161616" stroke-width="0.38">tgt_lr = tgt_lr + 10</text>
<text class="fm" x="472.2" y="1578.9" font-size="24" textLength="57.5" lengthAdjust="spacingAndGlyphs" fill="#161616" stroke="#161616" stroke-width="0.38">lr =</text>
<text class="fm" x="544.1" y="1578.9" font-size="24" textLength="186.9" lengthAdjust="spacingAndGlyphs" fill="#B8434E" stroke="#B8434E" stroke-width="0.38">_normalize_lr</text>
<text class="fm" x="731.1" y="1578.9" font-size="24" textLength="172.6" lengthAdjust="spacingAndGlyphs" fill="#161616" stroke="#161616" stroke-width="0.38">(tgt_lr, 20)</text>
<text class="fm" x="472.2" y="1626.2" font-size="24" textLength="201.3" lengthAdjust="spacingAndGlyphs" fill="#161616" stroke="#161616" stroke-width="0.38">opt.params[0][</text>
<text class="fm" x="673.5" y="1626.2" font-size="24" textLength="57.5" lengthAdjust="spacingAndGlyphs" fill="#4A9A50" stroke="#4A9A50" stroke-width="0.38">'lr'</text>
<text class="fm" x="731.1" y="1626.2" font-size="24" textLength="86.3" lengthAdjust="spacingAndGlyphs" fill="#161616" stroke="#161616" stroke-width="0.38">] = lr</text>
<text class="fm" x="472.2" y="1673.5" font-size="24" textLength="86.3" lengthAdjust="spacingAndGlyphs" fill="#4B8BD4" stroke="#4B8BD4" stroke-width="0.38">return</text>
<text class="fm" x="572.9" y="1673.5" font-size="24" textLength="28.8" lengthAdjust="spacingAndGlyphs" fill="#161616" stroke="#161616" stroke-width="0.38">lr</text>
<text class="fm" x="443.5" y="1720.8" font-size="24" textLength="86.3" lengthAdjust="spacingAndGlyphs" fill="#4B8BD4" stroke="#4B8BD4" stroke-width="0.38">return</text>
<text class="fm" x="544.1" y="1720.8" font-size="24" textLength="57.5" lengthAdjust="spacingAndGlyphs" fill="#161616" stroke="#161616" stroke-width="0.38">None</text>
<rect x="996.0" y="1178.5" width="931.6" height="170.5" fill="none" stroke="#000" stroke-width="3.6" stroke-dasharray="17 10"/>
<rect x="996.0" y="1365.2" width="931.6" height="169.8" fill="none" stroke="#000" stroke-width="3.6" stroke-dasharray="17 10"/>
<rect x="996.0" y="1552.3" width="931.6" height="225.7" fill="none" stroke="#000" stroke-width="3.6" stroke-dasharray="17 10"/>
<line x1="955.0" y1="1269.2" x2="1063.7" y2="1269.2" stroke="#EFA9AC" stroke-width="4.8" />
<polyline points="1053.6,1281.5 1066.6,1269.2 1053.6,1256.9" fill="none" stroke="#EFA9AC" stroke-width="4.1" stroke-linejoin="miter"/>
<line x1="955.0" y1="1455.1" x2="1065.6" y2="1455.1" stroke="#EFA9AC" stroke-width="4.8" />
<polyline points="1055.5,1467.4 1068.5,1455.1 1055.5,1442.8" fill="none" stroke="#EFA9AC" stroke-width="4.1" stroke-linejoin="miter"/>
<line x1="955.0" y1="1610.1" x2="1065.6" y2="1610.1" stroke="#C6DCC0" stroke-width="4.8" />
<polyline points="1055.5,1622.4 1068.5,1610.1 1055.5,1597.8" fill="none" stroke="#C6DCC0" stroke-width="4.1" stroke-linejoin="miter"/>
<line x1="955.0" y1="1712.4" x2="1046.4" y2="1712.4" stroke="#C6DCC0" stroke-width="4.8" stroke-dasharray="17 8"/>
<polyline points="1036.3,1724.8 1049.3,1712.4 1036.3,1700.1" fill="none" stroke="#C6DCC0" stroke-width="4.1" stroke-linejoin="miter"/>
<line x1="1180.0" y1="1269.2" x2="1257.4" y2="1269.2" stroke="#EFA9AC" stroke-width="4.8" />
<polyline points="1247.3,1281.5 1260.3,1269.2 1247.3,1256.9" fill="none" stroke="#EFA9AC" stroke-width="4.1" stroke-linejoin="miter"/>
<line x1="1414.6" y1="1271.9" x2="1465.7" y2="1271.9" stroke="#EFA9AC" stroke-width="4.8" />
<polyline points="1455.6,1284.2 1468.6,1271.9 1455.6,1259.6" fill="none" stroke="#EFA9AC" stroke-width="4.1" stroke-linejoin="miter"/>
<line x1="1180.0" y1="1455.1" x2="1260.5" y2="1455.1" stroke="#EFA9AC" stroke-width="4.8" />
<polyline points="1250.4,1467.4 1263.4,1455.1 1250.4,1442.8" fill="none" stroke="#EFA9AC" stroke-width="4.1" stroke-linejoin="miter"/>
<line x1="1414.6" y1="1455.1" x2="1465.7" y2="1455.1" stroke="#EFA9AC" stroke-width="4.8" />
<polyline points="1455.6,1467.4 1468.6,1455.1 1455.6,1442.8" fill="none" stroke="#EFA9AC" stroke-width="4.1" stroke-linejoin="miter"/>
<line x1="1162.0" y1="1610.1" x2="1228.5" y2="1610.1" stroke="#C6DCC0" stroke-width="4.8" />
<polyline points="1218.4,1622.4 1231.4,1610.1 1218.4,1597.8" fill="none" stroke="#C6DCC0" stroke-width="4.1" stroke-linejoin="miter"/>
<line x1="1180.0" y1="1713.5" x2="1260.5" y2="1713.5" stroke="#C6DCC0" stroke-width="4.8" />
<polyline points="1250.4,1725.8 1263.4,1713.5 1250.4,1701.2" fill="none" stroke="#C6DCC0" stroke-width="4.1" stroke-linejoin="miter"/>
<line x1="1347.1" y1="1599.7" x2="1424.0" y2="1663.5" stroke="#C6DCC0" stroke-width="4.8" />
<polyline points="1408.3,1666.5 1426.2,1665.3 1424.1,1647.5" fill="none" stroke="#C6DCC0" stroke-width="4.1" stroke-linejoin="miter"/>
<line x1="1358.6" y1="1709.7" x2="1423.7" y2="1672.5" stroke="#C6DCC0" stroke-width="4.8" />
<polyline points="1421.0,1688.3 1426.2,1671.1 1408.8,1666.8" fill="none" stroke="#C6DCC0" stroke-width="4.1" stroke-linejoin="miter"/>
<line x1="1512.9" y1="1667.2" x2="1558.3" y2="1667.2" stroke="#C6DCC0" stroke-width="4.8" />
<polyline points="1548.2,1679.5 1561.2,1667.2 1548.2,1654.9" fill="none" stroke="#C6DCC0" stroke-width="4.1" stroke-linejoin="miter"/>
<rect x="1577.6" y="1180.3" width="349.0" height="37.8" fill="#D9D9D9" stroke="#000" stroke-width="2.6"/>
<text class="fs" x="1578.8" y="1209.4" font-size="27" textLength="326.4" lengthAdjust="spacingAndGlyphs" fill="#111">(a)Static Analyzer (Symbolic)</text>
<rect x="1588.0" y="1369.3" width="339.5" height="37.0" fill="#D9D9D9" stroke="#000" stroke-width="2.6"/>
<text class="fs" x="1726.2" y="1398.0" font-size="27" textLength="181.0" lengthAdjust="spacingAndGlyphs" fill="#111">(b)LMs (Neural)</text>
<rect x="1588.4" y="1554.4" width="339.0" height="37.2" fill="#D9D9D9" stroke="#000" stroke-width="2.6"/>
<text class="fs" x="1589.6" y="1582.4" font-size="27" textLength="316.0" lengthAdjust="spacingAndGlyphs" fill="#111">(c)Nester (Neuro-Symbolic)</text>
<polygon points="1147.5,1258.4 1155.9,1261.3 1154.5,1269.1 1145.6,1268.9 1141.8,1276.1 1146.9,1283.3 1141.1,1288.8 1134.1,1283.4 1126.8,1287.0 1126.6,1295.8 1118.7,1296.9 1116.2,1288.4 1108.2,1287.0 1102.9,1294.0 1095.9,1290.2 1098.8,1281.9 1093.2,1276.1 1084.7,1278.6 1081.3,1271.4 1088.6,1266.4 1087.5,1258.4 1079.1,1255.5 1080.5,1247.7 1089.4,1247.9 1093.2,1240.7 1088.1,1233.5 1093.9,1228.0 1100.9,1233.4 1108.2,1229.8 1108.4,1221.0 1116.3,1219.9 1118.8,1228.4 1126.8,1229.8 1132.1,1222.8 1139.1,1226.6 1136.2,1234.9 1141.8,1240.7 1150.3,1238.2 1153.7,1245.4 1146.4,1250.4" fill="#fff" stroke="#111" stroke-width="3.4" stroke-linejoin="round"/>
<path d="M1103.6,1274.6 A21.6,21.6 0 1 1 1135.2,1270.0" fill="none" stroke="#111" stroke-width="3.2" />
<circle cx="1122.1" cy="1262.2" r="10.4" fill="#fff" stroke="#111" stroke-width="3.2" />
<line x1="1117.5" y1="1258.4" x2="1122.9" y2="1265.3" stroke="#111" stroke-width="2.4" />
<circle cx="1127.5" cy="1266.9" r="2.2" fill="#111" />
<text class="fs" x="1032.7" y="1318.9" font-size="20" textLength="156.8" lengthAdjust="spacingAndGlyphs" font-weight="bold" fill="#111">Static Analyzer</text>
<line x1="1285.4" y1="1229.4" x2="1329.7" y2="1229.4" stroke="#8a8a8a" stroke-width="4.4" />
<line x1="1329.7" y1="1229.4" x2="1373.7" y2="1229.4" stroke="#8a8a8a" stroke-width="4.4" />
<line x1="1329.7" y1="1229.4" x2="1329.7" y2="1275.7" stroke="#8a8a8a" stroke-width="4.4" />
<line x1="1286.1" y1="1276.5" x2="1329.7" y2="1275.7" stroke="#8a8a8a" stroke-width="4.4" />
<line x1="1329.7" y1="1275.7" x2="1374.1" y2="1276.9" stroke="#8a8a8a" stroke-width="4.4" />
<line x1="1374.1" y1="1276.9" x2="1374.9" y2="1323.2" stroke="#8a8a8a" stroke-width="4.4" />
<line x1="1346.0" y1="1323.2" x2="1374.9" y2="1323.2" stroke="#8a8a8a" stroke-width="4.4" />
<circle cx="1285.4" cy="1229.4" r="12.4" fill="#fff" stroke="#8a8a8a" stroke-width="4.6" />
<text class="fs" x="1285.4" y="1235.3" font-size="16.5" font-weight="bold" fill="#111" text-anchor="middle">1</text>
<circle cx="1329.7" cy="1229.4" r="12.4" fill="#fff" stroke="#8a8a8a" stroke-width="4.6" />
<text class="fs" x="1329.7" y="1235.3" font-size="16.5" font-weight="bold" fill="#111" text-anchor="middle">2</text>
<circle cx="1373.7" cy="1229.4" r="12.4" fill="#fff" stroke="#8a8a8a" stroke-width="4.6" />
<text class="fs" x="1373.7" y="1235.3" font-size="16.5" font-weight="bold" fill="#111" text-anchor="middle">3</text>
<circle cx="1286.1" cy="1276.5" r="12.4" fill="#fff" stroke="#8a8a8a" stroke-width="4.6" />
<text class="fs" x="1286.1" y="1281.9" font-size="15" font-weight="bold" fill="#111" text-anchor="middle" textLength="15.0" lengthAdjust="spacingAndGlyphs">10</text>
<circle cx="1329.7" cy="1275.7" r="12.4" fill="#fff" stroke="#8a8a8a" stroke-width="4.6" />
<text class="fs" x="1329.7" y="1281.6" font-size="16.5" font-weight="bold" fill="#111" text-anchor="middle">4</text>
<circle cx="1374.1" cy="1276.9" r="12.4" fill="#fff" stroke="#8a8a8a" stroke-width="4.6" />
<text class="fs" x="1374.1" y="1282.8" font-size="16.5" font-weight="bold" fill="#111" text-anchor="middle">5</text>
<circle cx="1374.9" cy="1323.2" r="12.4" fill="#fff" stroke="#8a8a8a" stroke-width="4.6" />
<text class="fs" x="1374.9" y="1329.1" font-size="16.5" font-weight="bold" fill="#111" text-anchor="middle">6</text>
<text class="fs" x="1357.5" y="1253.7" font-size="14.5" textLength="32.8" lengthAdjust="spacingAndGlyphs" font-weight="bold" fill="#111">bool</text>
<text class="fs" x="1269.2" y="1302.0" font-size="14.5" textLength="37.4" lengthAdjust="spacingAndGlyphs" font-weight="bold" fill="#111">none</text>
<path d="M1328.0,1317.2 L1339.2,1328.4 M1339.2,1317.2 L1328.0,1328.4" fill="none" stroke="#E01B22" stroke-width="2.6" />
<rect x="1476.3" y="1244.0" width="355.0" height="71.6" fill="#fff" stroke="#000" stroke-width="3.8" filter="url(#sh)"/>
<text class="fs" x="1499.4" y="1273.8" font-size="21.6" textLength="277.0" lengthAdjust="spacingAndGlyphs" fill="#111">The return type of learning_</text>
<rect x="1562.3" y="1279.6" width="121.5" height="28.1" fill="#F2A9AE"/>
<text class="fs" x="1499.4" y="1301.6" font-size="21.6" textLength="61.1" lengthAdjust="spacingAndGlyphs" fill="#111">rate is</text>
<text class="fs" x="1567.5" y="1301.6" font-size="21.6" textLength="115.0" lengthAdjust="spacingAndGlyphs" fill="#8E2A2C">bool l none.</text>
<path d="M1866.9,1260.9 L1901.9,1295.9 M1901.9,1260.9 L1866.9,1295.9" fill="none" stroke="#E2191F" stroke-width="7" filter="url(#sh)"/>
<path d="M1093.2,1391.1 H1130.5520000000001 L1157.6000000000001,1418.148 V1476.6999999999998 H1093.2 Z" fill="#fff" stroke="#111" stroke-width="7" stroke-linejoin="miter"/>
<path d="M1130.5520000000001,1391.1 V1418.148 H1157.6000000000001" fill="none" stroke="#111" stroke-width="6" />
<line x1="1106.1" y1="1424.5" x2="1120.2" y2="1424.5" stroke="#111" stroke-width="5" />
<line x1="1106.1" y1="1434.8" x2="1144.7" y2="1434.8" stroke="#111" stroke-width="5" />
<line x1="1106.1" y1="1445.0" x2="1144.7" y2="1445.0" stroke="#111" stroke-width="5" />
<line x1="1106.1" y1="1455.3" x2="1144.7" y2="1455.3" stroke="#111" stroke-width="5" />
<line x1="1106.1" y1="1464.7" x2="1144.7" y2="1464.7" stroke="#111" stroke-width="5" />
<text class="fs" x="1087.8" y="1509.0" font-size="20" textLength="77.9" lengthAdjust="spacingAndGlyphs" font-weight="bold" fill="#111">Prompt</text>
<g transform="translate(1304.6,1399.2) scale(0.6370,0.6218)" fill="none" stroke="#111" stroke-width="7.5" stroke-linecap="round" stroke-linejoin="round">
<path d="M30,66 H52 Q62,66 62,56 V12 Q64,2 72,4 L78,20 L96,28 Q98,34 92,36 L82,36 V58"/>
<path d="M22,70 Q12,70 12,80 V88 Q12,95 4,95 Q12,95 12,102 V110 Q12,120 22,120"/>
<path d="M74,70 Q84,70 84,80 V88 Q84,95 92,95 Q84,95 84,102 V110 Q84,120 74,120"/>
<path d="M36,120 V106 Q36,94 48,94 Q60,94 60,106 V120"/>
</g>
<text class="fs" x="1282.7" y="1505.2" font-size="20" textLength="126.1" lengthAdjust="spacingAndGlyphs" font-weight="bold" fill="#111">Code Llama</text>
<rect x="1473.6" y="1438.5" width="355.0" height="71.4" fill="#fff" stroke="#000" stroke-width="3.8" filter="url(#sh)"/>
<text class="fs" x="1498.7" y="1467.4" font-size="21.6" textLength="276.5" lengthAdjust="spacingAndGlyphs" fill="#111">The return type of learning_</text>
<rect x="1561.2" y="1474.4" width="183.9" height="28.1" fill="#F2A9AE"/>
<text class="fs" x="1498.7" y="1495.6" font-size="21.6" textLength="60.3" lengthAdjust="spacingAndGlyphs" fill="#111">rate is</text>
<text class="fs" x="1566.0" y="1495.6" font-size="21.6" textLength="177.5" lengthAdjust="spacingAndGlyphs" fill="#8E2A2C">bool | float | none.</text>
<path d="M1864.6,1454.9 L1899.6,1489.9 M1899.6,1454.9 L1864.6,1489.9" fill="none" stroke="#E2191F" stroke-width="7" filter="url(#sh)"/>
<g transform="translate(1084.0,1570.8) scale(0.6170,0.6379)" fill="none" stroke="#111" stroke-width="7.5" stroke-linecap="round" stroke-linejoin="round">
<path d="M30,66 H52 Q62,66 62,56 V12 Q64,2 72,4 L78,20 L96,28 Q98,34 92,36 L82,36 V58"/>
<path d="M22,70 Q12,70 12,80 V88 Q12,95 4,95 Q12,95 12,102 V110 Q12,120 22,120"/>
<path d="M74,70 Q84,70 84,80 V88 Q84,95 92,95 Q84,95 84,102 V110 Q84,120 74,120"/>
<path d="M36,120 V106 Q36,94 48,94 Q60,94 60,106 V120"/>
</g>
<rect x="1069.5" y="1677.9" width="88.0" height="57.0" fill="#fff" stroke="#111" stroke-width="2.2" rx="9"/>
<line x1="1082.3" y1="1721.5" x2="1105.1" y2="1701.6" stroke="#111" stroke-width="1.8" />
<line x1="1105.1" y1="1701.6" x2="1127.2" y2="1719.2" stroke="#111" stroke-width="1.8" />
<line x1="1127.2" y1="1719.2" x2="1143.8" y2="1692.4" stroke="#111" stroke-width="1.8" />
<circle cx="1082.3" cy="1721.5" r="5.0" fill="#fff" stroke="#111" stroke-width="1.8" />
<circle cx="1105.1" cy="1701.6" r="5.0" fill="#fff" stroke="#111" stroke-width="1.8" />
<circle cx="1127.2" cy="1719.2" r="5.0" fill="#fff" stroke="#111" stroke-width="1.8" />
<circle cx="1143.8" cy="1692.4" r="5.0" fill="#fff" stroke="#111" stroke-width="1.8" />
<text class="fs" x="1063.5" y="1762.9" font-size="20" textLength="105.3" lengthAdjust="spacingAndGlyphs" font-weight="bold" fill="#111">Data Flow</text>
<path d="M1296.145,1575.584 V1570.8 H1323.925 L1335.5,1582.76 V1622.228 H1329.018" fill="#fff" stroke="#333" stroke-width="1.8" />
<path d="M1289.2,1576.78 H1317.906 L1329.018,1589.936 V1630.6 H1289.2 Z" fill="#fff" stroke="#333" stroke-width="1.8" />
<path d="M1317.906,1576.78 V1589.936 H1329.018" fill="none" stroke="#333" stroke-width="1.6" />
<line x1="1294.8" y1="1593.5" x2="1308.6" y2="1593.5" stroke="#333" stroke-width="1.6" />
<line x1="1294.8" y1="1598.9" x2="1323.5" y2="1598.9" stroke="#333" stroke-width="1.6" />
<line x1="1294.8" y1="1604.3" x2="1323.5" y2="1604.3" stroke="#333" stroke-width="1.6" />
<line x1="1294.8" y1="1609.7" x2="1323.5" y2="1609.7" stroke="#333" stroke-width="1.6" />
<line x1="1294.8" y1="1615.1" x2="1323.5" y2="1615.1" stroke="#333" stroke-width="1.6" />
<line x1="1294.8" y1="1620.4" x2="1323.5" y2="1620.4" stroke="#333" stroke-width="1.6" />
<text class="fs" x="1203.2" y="1658.4" font-size="20" textLength="212.5" lengthAdjust="spacingAndGlyphs" font-weight="bold" fill="#111">High-Level Program</text>
<g transform="translate(1283.4,1677.6) scale(0.5020,0.5000)">
<path d="M62,5 H14 Q5,5 5,14 V108 Q5,117 14,117 H86 Q95,117 95,108" fill="none" stroke="#111" stroke-width="9" stroke-linecap="round" stroke-linejoin="round"/>
<path d="M62,5 L95,40 H70 Q62,40 62,32 Z" fill="#fff" stroke="#111" stroke-width="8" stroke-linejoin="round"/>
<text class="fs" x="20" y="92" font-size="62" font-weight="bold" fill="#111">F</text>
<text class="fs" x="58" y="90" font-size="36" font-weight="bold" fill="#111" textLength="48" lengthAdjust="spacingAndGlyphs">(x)</text>
</g>
<text class="fs" x="1217.1" y="1761.7" font-size="20" textLength="179.0" lengthAdjust="spacingAndGlyphs" font-weight="bold" fill="#111">Type Recognizer</text>
<rect x="1435.6" y="1632.5" width="69.0" height="52.8" fill="#1F5A78" rx="3"/>
<rect x="1439.6" y="1637.5" width="61.0" height="42.8" fill="#16394F"/>
<path d="M1435.614,1685.336 H1504.586 L1510.2,1699.616 H1430 Z" fill="#B4CDE6" />
<rect x="1430.0" y="1699.6" width="80.2" height="4.3" fill="#9FB6CF" rx="2"/>
<rect x="1457.3" y="1691.0" width="25.7" height="4.3" fill="#C9DCEF" rx="2"/>
<text class="fs" x="1446.0" y="1653.9" font-size="14" textLength="22.5" lengthAdjust="spacingAndGlyphs" font-weight="bold" fill="#fff">&lt;/&gt;</text>
<rect x="1446.0" y="1658.2" width="7.6" height="2.6" fill="#F2C14E"/>
<rect x="1455.7" y="1658.2" width="10.8" height="2.6" fill="#EE6C8A"/>
<rect x="1446.0" y="1663.9" width="14.0" height="2.6" fill="#F2C14E"/>
<rect x="1446.0" y="1669.6" width="9.2" height="2.6" fill="#F2C14E"/>
<rect x="1457.3" y="1669.6" width="15.6" height="2.6" fill="#EE6C8A"/>
<rect x="1474.9" y="1669.6" width="6.0" height="2.6" fill="#5FD3E6"/>
<rect x="1446.0" y="1675.3" width="4.4" height="2.6" fill="#F2C14E"/>
<rect x="1452.5" y="1675.3" width="10.8" height="2.6" fill="#EE6C8A"/>
<rect x="1465.3" y="1675.3" width="15.6" height="2.6" fill="#5FD3E6"/>
<text class="fs" x="1428.9" y="1735.5" font-size="20" textLength="92.5" lengthAdjust="spacingAndGlyphs" font-weight="bold" fill="#111">Program</text>
<text class="fs" x="1419.2" y="1762.9" font-size="20" textLength="112.3" lengthAdjust="spacingAndGlyphs" font-weight="bold" fill="#111">Interpreter</text>
<rect x="1564.2" y="1637.5" width="254.3" height="59.5" fill="#D6EDBB" stroke="#000" stroke-width="3.8" filter="url(#sh)"/>
<text class="fs" x="1573.9" y="1673.0" font-size="24" textLength="231.0" lengthAdjust="spacingAndGlyphs" fill="#3A5C2C">Typing.Optional[float]</text>
<path d="M1853,1666 L1864,1658 L1879,1675 Q1893,1655 1909,1643 L1910,1646 Q1893,1664 1881,1691 Z" fill="#7DC4C6" filter="url(#sh)"/>
</g>
<filter id="sh2" x="-5%" y="-5%" width="112%" height="115%"><feDropShadow dx="1.6" dy="1.8" stdDeviation="1.4" flood-color="#000" flood-opacity="0.4"/></filter>
<g id="fig3">
<rect x="2099.1" y="758.6" width="331.6" height="185.1" fill="#fff" stroke="#b0b0b0" stroke-width="1.1"/>
<line x1="2099.1" y1="906.7" x2="2430.7" y2="906.7" stroke="#e8e8e8" stroke-width="1" />
<line x1="2099.1" y1="869.7" x2="2430.7" y2="869.7" stroke="#e8e8e8" stroke-width="1" />
<line x1="2099.1" y1="832.6" x2="2430.7" y2="832.6" stroke="#e8e8e8" stroke-width="1" />
<line x1="2099.1" y1="795.6" x2="2430.7" y2="795.6" stroke="#e8e8e8" stroke-width="1" />
<line x1="2095.6" y1="943.7" x2="2099.1" y2="943.7" stroke="#444" stroke-width="0.9" />
<text class="fs" x="2094.1" y="948.1" font-size="12.2" fill="#111" text-anchor="end">0.0</text>
<line x1="2095.6" y1="906.7" x2="2099.1" y2="906.7" stroke="#444" stroke-width="0.9" />
<text class="fs" x="2094.1" y="911.1" font-size="12.2" fill="#111" text-anchor="end">0.2</text>
<line x1="2095.6" y1="869.7" x2="2099.1" y2="869.7" stroke="#444" stroke-width="0.9" />
<text class="fs" x="2094.1" y="874.1" font-size="12.2" fill="#111" text-anchor="end">0.4</text>
<line x1="2095.6" y1="832.6" x2="2099.1" y2="832.6" stroke="#444" stroke-width="0.9" />
<text class="fs" x="2094.1" y="837.0" font-size="12.2" fill="#111" text-anchor="end">0.6</text>
<line x1="2095.6" y1="795.6" x2="2099.1" y2="795.6" stroke="#444" stroke-width="0.9" />
<text class="fs" x="2094.1" y="800.0" font-size="12.2" fill="#111" text-anchor="end">0.8</text>
<line x1="2095.6" y1="758.6" x2="2099.1" y2="758.6" stroke="#444" stroke-width="0.9" />
<text class="fs" x="2094.1" y="763.0" font-size="12.2" fill="#111" text-anchor="end">1.0</text>
<rect x="2114.7" y="810.4" width="69.2" height="133.3" fill="#D3D3D3" stroke="#4d4d4d" stroke-width="0.9"/>
<text class="fs" x="2149.3" y="806.8" font-size="11.6" fill="#111" text-anchor="middle">0.72</text>
<text class="fs" x="2149.3" y="954.6" font-size="12.2" fill="#111" text-anchor="middle">Typegen</text>
<rect x="2230.1" y="825.2" width="69.6" height="118.5" fill="#7ACC7A" stroke="#4d4d4d" stroke-width="0.9"/>
<text class="fs" x="2264.9" y="821.6" font-size="11.6" fill="#111" text-anchor="middle">0.64</text>
<text class="fs" x="2264.9" y="954.6" font-size="12.2" fill="#111" text-anchor="middle">Similar Examples</text>
<rect x="2346.0" y="838.2" width="69.6" height="105.5" fill="#EE9DA8" stroke="#4d4d4d" stroke-width="0.9"/>
<text class="fs" x="2380.8" y="834.6" font-size="11.6" fill="#111" text-anchor="middle">0.57</text>
<text class="fs" x="2380.8" y="954.6" font-size="12.2" fill="#111" text-anchor="middle">No Examples</text>
<text class="fs" x="2077.5" y="850.7" font-size="11.5" fill="#111" text-anchor="middle" transform="rotate(-90 2077.5 850.7)">Acc</text>
<rect x="2307.1" y="764.4" width="118.6" height="46.7" fill="#fff" stroke="#e3e3e3" stroke-width="1" rx="2.5" fill-opacity="0.85"/>
<rect x="2311.0" y="768.5" width="21.4" height="7.6" fill="#D3D3D3" stroke="#4d4d4d" stroke-width="0.8"/>
<text class="fs" x="2340.2" y="776.1" font-size="10.5" fill="#111">Typegen</text>
<rect x="2311.0" y="783.2" width="21.4" height="7.6" fill="#7ACC7A" stroke="#4d4d4d" stroke-width="0.8"/>
<text class="fs" x="2340.2" y="790.8" font-size="10.5" fill="#111">Similar Examples</text>
<rect x="2311.0" y="798.0" width="21.4" height="7.6" fill="#EE9DA8" stroke="#4d4d4d" stroke-width="0.8"/>
<text class="fs" x="2340.2" y="805.6" font-size="10.5" fill="#111">No Examples</text>
<rect x="2484.2" y="742.9" width="277.2" height="66.4" fill="#fff" stroke="#000" stroke-width="2.2" filter="url(#sh2)"/>
<rect x="2485.3" y="744.0" width="275.0" height="25.0" fill="#F4F4F4"/>
<line x1="2483.2" y1="769.5" x2="2762.4" y2="769.5" stroke="#000" stroke-width="2" />
<rect x="2484.2" y="820.6" width="277.2" height="56.4" fill="#fff" stroke="#000" stroke-width="2.2" filter="url(#sh2)"/>
<rect x="2483.1" y="898.4" width="276.4" height="66.4" fill="#fff" stroke="#000" stroke-width="2.2" filter="url(#sh2)"/>
<text class="fs" x="2544.3" y="762.5" font-size="17.5" textLength="41.2" lengthAdjust="spacingAndGlyphs" fill="#111">Code</text>
<line x1="2638.0" y1="755.9" x2="2660.7" y2="755.9" stroke="#7DCE82" stroke-width="1.6" />
<polygon points="2668.7,755.9 2659.7,759.1 2659.7,752.7" fill="#7DCE82"/>
<text class="fs" x="2676.9" y="761.7" font-size="16.5" textLength="67.6" lengthAdjust="spacingAndGlyphs" fill="#7DCE82" font-style="italic">Dataflow</text>
<rect x="2641.6" y="769.2" width="12.6" height="18.0" fill="#F1F1F1"/>
<rect x="2517.4" y="791.0" width="12.6" height="18.0" fill="#FBE0EC"/>
<rect x="2555.6" y="791.0" width="12.6" height="18.0" fill="#F1F1F1"/>
<rect x="2555.6" y="818.2" width="12.6" height="18.0" fill="#FBE0EC"/>
<rect x="2555.6" y="839.6" width="12.6" height="18.0" fill="#FBE0EC"/>
<rect x="2517.4" y="860.6" width="12.6" height="18.0" fill="#F1F1F1"/>
<rect x="2593.8" y="860.6" width="12.6" height="18.0" fill="#FBE0EC"/>
<rect x="2603.4" y="923.2" width="12.6" height="18.0" fill="#F1F1F1"/>
<rect x="2584.3" y="943.4" width="12.6" height="18.0" fill="#F1F1F1"/>
<text class="fm" x="2489.1" y="782.7" font-size="16" textLength="9.6" lengthAdjust="spacingAndGlyphs" fill="#ababab">1</text>
<text class="fm" x="2509.3" y="782.7" font-size="16" textLength="162.5" lengthAdjust="spacingAndGlyphs" fill="#151515" stroke="#151515" stroke-width="0.26">def calculate(a):</text>
<text class="fm" x="2489.1" y="804.5" font-size="16" textLength="9.6" lengthAdjust="spacingAndGlyphs" fill="#ababab">2</text>
<text class="fm" x="2518.9" y="804.5" font-size="16" textLength="114.7" lengthAdjust="spacingAndGlyphs" fill="#151515" stroke="#151515" stroke-width="0.26">x = a.keys()</text>
<text class="fm" x="2489.1" y="831.7" font-size="16" textLength="9.6" lengthAdjust="spacingAndGlyphs" fill="#ababab">3</text>
<text class="fm" x="2518.9" y="831.7" font-size="16" textLength="95.6" lengthAdjust="spacingAndGlyphs" fill="#151515" stroke="#151515" stroke-width="0.26">b = x + 10</text>
<text class="fm" x="2489.1" y="853.1" font-size="16" textLength="9.6" lengthAdjust="spacingAndGlyphs" fill="#ababab">4</text>
<text class="fm" x="2518.9" y="853.1" font-size="16" textLength="86.0" lengthAdjust="spacingAndGlyphs" fill="#151515" stroke="#151515" stroke-width="0.26">c = x - 5</text>
<text class="fm" x="2489.1" y="874.1" font-size="16" textLength="9.6" lengthAdjust="spacingAndGlyphs" fill="#ababab">5</text>
<text class="fm" x="2518.9" y="874.1" font-size="16" textLength="229.4" lengthAdjust="spacingAndGlyphs" fill="#151515" stroke="#151515" stroke-width="0.26">y = str(x) + "is result"</text>
<text class="fm" x="2489.1" y="915.3" font-size="16" textLength="9.6" lengthAdjust="spacingAndGlyphs" fill="#ababab">6</text>
<text class="fm" x="2518.9" y="915.3" font-size="16" textLength="200.8" lengthAdjust="spacingAndGlyphs" fill="#151515" stroke="#151515" stroke-width="0.26">re = "example result"</text>
<text class="fm" x="2489.1" y="936.7" font-size="16" textLength="9.6" lengthAdjust="spacingAndGlyphs" fill="#ababab">7</text>
<text class="fm" x="2518.9" y="936.7" font-size="16" textLength="95.6" lengthAdjust="spacingAndGlyphs" fill="#151515" stroke="#151515" stroke-width="0.26">z = re + y</text>
<text class="fm" x="2489.1" y="956.9" font-size="16" textLength="9.6" lengthAdjust="spacingAndGlyphs" fill="#ababab">8</text>
<text class="fm" x="2518.9" y="956.9" font-size="16" textLength="76.5" lengthAdjust="spacingAndGlyphs" fill="#151515" stroke="#151515" stroke-width="0.26">return y</text>
<text class="fs" x="2769.0" y="799.4" font-size="17.5" textLength="51.3" lengthAdjust="spacingAndGlyphs" fill="#111" font-style="italic">Assign</text>
<text class="fs" x="2767.8" y="851.9" font-size="17.5" textLength="67.3" lengthAdjust="spacingAndGlyphs" fill="#111" font-style="italic">Keyword</text>
<text class="fs" x="2767.8" y="941.3" font-size="17.5" textLength="35.0" lengthAdjust="spacingAndGlyphs" fill="#111" font-style="italic">TDG</text>
<path d="M2566,799 Q2605,802 2640,792" fill="none" stroke="#7DCE82" stroke-width="1.5" />
<polygon points="2648.0,789.5 2640.8,795.0 2639.0,789.3" fill="#7DCE82"/>
<path d="M2554,827 Q2530,828 2524,815" fill="none" stroke="#7DCE82" stroke-width="1.5" />
<polygon points="2521.5,808.0 2526.6,815.4 2520.8,817.0" fill="#7DCE82"/>
<path d="M2554,849 Q2528,845 2523,818" fill="none" stroke="#7DCE82" stroke-width="1.5" />
<polygon points="2521.5,808.0 2525.7,816.0 2519.7,816.8" fill="#7DCE82"/>
<path d="M2588,868 Q2535,866 2524,820" fill="none" stroke="#7DCE82" stroke-width="1.5" />
<polygon points="2521.5,808.0 2525.9,815.8 2520.0,816.9" fill="#7DCE82"/>
<path d="M2600,932 Q2545,930 2524,890" fill="none" stroke="#7DCE82" stroke-width="1.5" />
<polygon points="2521.0,880.0 2527.0,886.8 2521.4,889.0" fill="#7DCE82"/>
<path d="M2582,952 Q2535,950 2523,892" fill="none" stroke="#7DCE82" stroke-width="1.5" />
<polygon points="2521.0,880.0 2525.7,887.7 2519.8,888.9" fill="#7DCE82"/>
<path d="M2540,912 Q2527,905 2523,890" fill="none" stroke="#7DCE82" stroke-width="1.5" />
<polygon points="2521.0,880.0 2525.7,887.7 2519.8,888.9" fill="#7DCE82"/>
<rect x="2902.5" y="738.5" width="369.7" height="206.5" fill="#fff" stroke="#b0b0b0" stroke-width="1.1"/>
<line x1="2902.5" y1="903.7" x2="3272.2" y2="903.7" stroke="#e8e8e8" stroke-width="1" />
<line x1="2902.5" y1="862.4" x2="3272.2" y2="862.4" stroke="#e8e8e8" stroke-width="1" />
<line x1="2902.5" y1="821.1" x2="3272.2" y2="821.1" stroke="#e8e8e8" stroke-width="1" />
<line x1="2902.5" y1="779.8" x2="3272.2" y2="779.8" stroke="#e8e8e8" stroke-width="1" />
<line x1="2899.0" y1="945.0" x2="2902.5" y2="945.0" stroke="#444" stroke-width="0.9" />
<text class="fs" x="2897.5" y="949.9" font-size="13.6" fill="#111" text-anchor="end">0.0</text>
<line x1="2899.0" y1="903.7" x2="2902.5" y2="903.7" stroke="#444" stroke-width="0.9" />
<text class="fs" x="2897.5" y="908.6" font-size="13.6" fill="#111" text-anchor="end">0.2</text>
<line x1="2899.0" y1="862.4" x2="2902.5" y2="862.4" stroke="#444" stroke-width="0.9" />
<text class="fs" x="2897.5" y="867.3" font-size="13.6" fill="#111" text-anchor="end">0.4</text>
<line x1="2899.0" y1="821.1" x2="2902.5" y2="821.1" stroke="#444" stroke-width="0.9" />
<text class="fs" x="2897.5" y="826.0" font-size="13.6" fill="#111" text-anchor="end">0.6</text>
<line x1="2899.0" y1="779.8" x2="2902.5" y2="779.8" stroke="#444" stroke-width="0.9" />
<text class="fs" x="2897.5" y="784.7" font-size="13.6" fill="#111" text-anchor="end">0.8</text>
<line x1="2899.0" y1="738.5" x2="2902.5" y2="738.5" stroke="#444" stroke-width="0.9" />
<text class="fs" x="2897.5" y="743.4" font-size="13.6" fill="#111" text-anchor="end">1.0</text>
<rect x="2918.6" y="938.8" width="57.0" height="6.2" fill="#D3D3D3" stroke="#4d4d4d" stroke-width="0.9"/>
<text class="fs" x="2947.1" y="935.6" font-size="12.6" fill="#111" text-anchor="middle">0.03</text>
<text class="fs" x="2947.1" y="957.8" font-size="13.6" fill="#111" text-anchor="middle">Assignment</text>
<rect x="3012.1" y="942.9" width="57.0" height="2.1" fill="#7ACC7A" stroke="#4d4d4d" stroke-width="0.9"/>
<text class="fs" x="3040.6" y="939.7" font-size="12.6" fill="#111" text-anchor="middle">0.01</text>
<text class="fs" x="3040.6" y="957.8" font-size="13.6" fill="#111" text-anchor="middle">Keywords</text>
<rect x="3105.6" y="748.8" width="56.5" height="196.2" fill="#EE9DA8" stroke="#4d4d4d" stroke-width="0.9"/>
<text class="fs" x="3133.8" y="745.6" font-size="12.6" fill="#111" text-anchor="middle">0.95</text>
<text class="fs" x="3133.8" y="957.8" font-size="13.6" fill="#111" text-anchor="middle">TDG</text>
<rect x="3199.1" y="944.2" width="56.1" height="0.8" fill="#729ECE" stroke="#4d4d4d" stroke-width="0.9"/>
<text class="fs" x="3227.1" y="941.8" font-size="12.6" fill="#111" text-anchor="middle">0.00</text>
<text class="fs" x="3227.1" y="957.8" font-size="13.6" fill="#111" text-anchor="middle">Complete Code</text>
<text class="fs" x="2877.5" y="841.7" font-size="13" fill="#111" text-anchor="middle" transform="rotate(-90 2877.5 841.7)">Time (t) / 50 py. anot.</text>
<rect x="2908.0" y="744.8" width="123.3" height="68.5" fill="#fff" stroke="#e3e3e3" stroke-width="1" rx="2.5" fill-opacity="0.85"/>
<rect x="2912.3" y="748.6" width="24.2" height="8.6" fill="#D3D3D3" stroke="#4d4d4d" stroke-width="0.8"/>
<text class="fs" x="2945.8" y="757.2" font-size="12" fill="#111">Assignment</text>
<rect x="2912.3" y="765.2" width="24.2" height="8.6" fill="#7ACC7A" stroke="#4d4d4d" stroke-width="0.8"/>
<text class="fs" x="2945.8" y="773.8" font-size="12" fill="#111">Keywords</text>
<rect x="2912.3" y="782.2" width="24.2" height="8.6" fill="#EE9DA8" stroke="#4d4d4d" stroke-width="0.8"/>
<text class="fs" x="2945.8" y="790.8" font-size="12" fill="#111">TDG</text>
<rect x="2912.3" y="798.8" width="24.2" height="8.6" fill="#729ECE" stroke="#4d4d4d" stroke-width="0.8"/>
<text class="fs" x="2945.8" y="807.4" font-size="12" fill="#111">Complete Code</text>
<rect x="3386.1" y="738.5" width="369.7" height="206.5" fill="#fff" stroke="#b0b0b0" stroke-width="1.1"/>
<line x1="3386.1" y1="903.7" x2="3755.8" y2="903.7" stroke="#e8e8e8" stroke-width="1" />
<line x1="3386.1" y1="862.4" x2="3755.8" y2="862.4" stroke="#e8e8e8" stroke-width="1" />
<line x1="3386.1" y1="821.1" x2="3755.8" y2="821.1" stroke="#e8e8e8" stroke-width="1" />
<line x1="3386.1" y1="779.8" x2="3755.8" y2="779.8" stroke="#e8e8e8" stroke-width="1" />
<line x1="3382.6" y1="945.0" x2="3386.1" y2="945.0" stroke="#444" stroke-width="0.9" />
<text class="fs" x="3381.1" y="949.9" font-size="13.6" fill="#111" text-anchor="end">0.0</text>
<line x1="3382.6" y1="903.7" x2="3386.1" y2="903.7" stroke="#444" stroke-width="0.9" />
<text class="fs" x="3381.1" y="908.6" font-size="13.6" fill="#111" text-anchor="end">0.2</text>
<line x1="3382.6" y1="862.4" x2="3386.1" y2="862.4" stroke="#444" stroke-width="0.9" />
<text class="fs" x="3381.1" y="867.3" font-size="13.6" fill="#111" text-anchor="end">0.4</text>
<line x1="3382.6" y1="821.1" x2="3386.1" y2="821.1" stroke="#444" stroke-width="0.9" />
<text class="fs" x="3381.1" y="826.0" font-size="13.6" fill="#111" text-anchor="end">0.6</text>
<line x1="3382.6" y1="779.8" x2="3386.1" y2="779.8" stroke="#444" stroke-width="0.9" />
<text class="fs" x="3381.1" y="784.7" font-size="13.6" fill="#111" text-anchor="end">0.8</text>
<line x1="3382.6" y1="738.5" x2="3386.1" y2="738.5" stroke="#444" stroke-width="0.9" />
<text class="fs" x="3381.1" y="743.4" font-size="13.6" fill="#111" text-anchor="end">1.0</text>
<rect x="3402.7" y="802.5" width="24.0" height="142.5" fill="#D3D3D3" stroke="#8a8a8a" stroke-width="0.8"/>
<text class="fs" x="3414.7" y="799.0" font-size="12.4" fill="#222" text-anchor="middle">0.69</text>
<rect x="3426.7" y="804.6" width="24.0" height="140.4" fill="#7ACC7A" stroke="#8a8a8a" stroke-width="0.8"/>
<text class="fs" x="3438.7" y="801.1" font-size="12.4" fill="#222" text-anchor="middle">0.68</text>
<rect x="3450.7" y="802.5" width="24.0" height="142.5" fill="#EE9DA8" stroke="#8a8a8a" stroke-width="0.8"/>
<text class="fs" x="3462.7" y="799.0" font-size="12.4" fill="#222" text-anchor="middle">0.69</text>
<rect x="3474.7" y="872.7" width="24.0" height="72.3" fill="#729ECE" stroke="#8a8a8a" stroke-width="0.8"/>
<text class="fs" x="3486.7" y="869.2" font-size="12.4" fill="#222" text-anchor="middle">0.35</text>
<text class="fs" x="3462.6" y="957.8" font-size="13.6" fill="#111" text-anchor="middle">Local</text>
<rect x="3522.5" y="814.9" width="24.0" height="130.1" fill="#D3D3D3" stroke="#8a8a8a" stroke-width="0.8"/>
<text class="fs" x="3534.5" y="811.4" font-size="12.4" fill="#222" text-anchor="middle">0.63</text>
<rect x="3546.5" y="800.5" width="24.0" height="144.5" fill="#7ACC7A" stroke="#8a8a8a" stroke-width="0.8"/>
<text class="fs" x="3558.5" y="797.0" font-size="12.4" fill="#222" text-anchor="middle">0.70</text>
<rect x="3570.5" y="800.5" width="24.0" height="144.5" fill="#EE9DA8" stroke="#8a8a8a" stroke-width="0.8"/>
<text class="fs" x="3582.5" y="797.0" font-size="12.4" fill="#222" text-anchor="middle">0.70</text>
<rect x="3594.5" y="829.4" width="24.0" height="115.6" fill="#729ECE" stroke="#8a8a8a" stroke-width="0.8"/>
<text class="fs" x="3606.5" y="825.9" font-size="12.4" fill="#222" text-anchor="middle">0.56</text>
<text class="fs" x="3582.4" y="957.8" font-size="13.6" fill="#111" text-anchor="middle">Argument</text>
<rect x="3643.2" y="839.7" width="24.0" height="105.3" fill="#D3D3D3" stroke="#8a8a8a" stroke-width="0.8"/>
<text class="fs" x="3655.2" y="836.2" font-size="12.4" fill="#222" text-anchor="middle">0.51</text>
<rect x="3667.2" y="827.3" width="24.0" height="117.7" fill="#7ACC7A" stroke="#8a8a8a" stroke-width="0.8"/>
<text class="fs" x="3679.2" y="823.8" font-size="12.4" fill="#222" text-anchor="middle">0.57</text>
<rect x="3691.2" y="823.2" width="24.0" height="121.8" fill="#EE9DA8" stroke="#8a8a8a" stroke-width="0.8"/>
<text class="fs" x="3703.2" y="819.7" font-size="12.4" fill="#222" text-anchor="middle">0.59</text>
<rect x="3715.2" y="860.3" width="24.0" height="84.7" fill="#729ECE" stroke="#8a8a8a" stroke-width="0.8"/>
<text class="fs" x="3727.2" y="856.8" font-size="12.4" fill="#222" text-anchor="middle">0.41</text>
<text class="fs" x="3702.7" y="957.8" font-size="13.6" fill="#111" text-anchor="middle">Return</text>
<text class="fs" x="3360.0" y="841.7" font-size="12.5" fill="#111" text-anchor="middle" transform="rotate(-90 3360.0 841.7)">Acc</text>
<rect x="3510.2" y="744.8" width="238.8" height="34.5" fill="#fff" stroke="#e3e3e3" stroke-width="1" rx="2.5" fill-opacity="0.85"/>
<rect x="3514.4" y="748.6" width="24.2" height="8.6" fill="#D3D3D3" stroke="#8a8a8a" stroke-width="0.8"/>
<text class="fs" x="3547.1" y="757.3" font-size="12" fill="#111">Assignment</text>
<rect x="3514.4" y="765.2" width="24.2" height="8.6" fill="#7ACC7A" stroke="#8a8a8a" stroke-width="0.8"/>
<text class="fs" x="3547.1" y="773.9" font-size="12" fill="#111">Keywords</text>
<rect x="3631.3" y="748.6" width="24.2" height="8.6" fill="#EE9DA8" stroke="#8a8a8a" stroke-width="0.8"/>
<text class="fs" x="3664.0" y="757.3" font-size="12" fill="#111">TDG</text>
<rect x="3631.3" y="765.2" width="24.2" height="8.6" fill="#729ECE" stroke="#8a8a8a" stroke-width="0.8"/>
<text class="fs" x="3664.0" y="773.9" font-size="12" fill="#111">Complete Code</text>
<rect x="2096.0" y="1123.0" width="413.8" height="380.2" fill="#fff" stroke="#000" stroke-width="2.2"/>
<text class="fs" x="2084.5" y="1152.6" font-size="17.4" fill="#111" text-anchor="end">0</text>
<text class="fs" x="2084.5" y="1185.7" font-size="17.4" fill="#111" text-anchor="end">1</text>
<text class="fs" x="2084.5" y="1218.8" font-size="17.4" fill="#111" text-anchor="end">2</text>
<text class="fs" x="2084.5" y="1251.9" font-size="17.4" fill="#111" text-anchor="end">3</text>
<text class="fs" x="2084.5" y="1285.0" font-size="17.4" fill="#111" text-anchor="end">4</text>
<text class="fs" x="2084.5" y="1318.1" font-size="17.4" fill="#111" text-anchor="end">5</text>
<text class="fs" x="2084.5" y="1351.3" font-size="17.4" fill="#111" text-anchor="end">6</text>
<text class="fs" x="2084.5" y="1384.4" font-size="17.4" fill="#111" text-anchor="end">7</text>
<text class="fs" x="2084.5" y="1417.5" font-size="17.4" fill="#111" text-anchor="end">8</text>
<text class="fs" x="2084.5" y="1450.6" font-size="17.4" fill="#111" text-anchor="end">9</text>
<text class="fs" x="2093.0" y="1483.7" font-size="17.4" fill="#111" text-anchor="end">10</text>
<text class="fm" x="2113.4" y="1152.3" font-size="16.1" textLength="29.0" lengthAdjust="spacingAndGlyphs" fill="#7E62C4" stroke="#7E62C4" stroke-width="0.26">def</text>
<text class="fm" x="2152.0" y="1152.3" font-size="16.1" textLength="125.6" lengthAdjust="spacingAndGlyphs" fill="#B8434E" stroke="#B8434E" stroke-width="0.26">learning_rate</text>
<text class="fm" x="2277.6" y="1152.3" font-size="16.1" textLength="222.2" lengthAdjust="spacingAndGlyphs" fill="#161616" stroke="#161616" stroke-width="0.26">(opt, base_lr, factor):</text>
<text class="fm" x="2132.7" y="1185.4" font-size="16.1" textLength="38.6" lengthAdjust="spacingAndGlyphs" fill="#161616" stroke="#161616" stroke-width="0.26">lr =</text>
<text class="fm" x="2181.0" y="1185.4" font-size="16.1" textLength="29.0" lengthAdjust="spacingAndGlyphs" fill="#B8434E" stroke="#B8434E" stroke-width="0.26">min</text>
<text class="fm" x="2210.0" y="1185.4" font-size="16.1" textLength="135.2" lengthAdjust="spacingAndGlyphs" fill="#161616" stroke="#161616" stroke-width="0.26">(base_lr, 0.5)</text>
<text class="fm" x="2132.7" y="1218.4" font-size="16.1" textLength="19.3" lengthAdjust="spacingAndGlyphs" fill="#4B8BD4" stroke="#4B8BD4" stroke-width="0.26">if</text>
<text class="fm" x="2161.7" y="1218.4" font-size="16.1" textLength="96.6" lengthAdjust="spacingAndGlyphs" fill="#161616" stroke="#161616" stroke-width="0.26">lr  &gt; 1.0:</text>
<text class="fm" x="2152.0" y="1251.5" font-size="16.1" textLength="58.0" lengthAdjust="spacingAndGlyphs" fill="#4B8BD4" stroke="#4B8BD4" stroke-width="0.26">return</text>
<text class="fm" x="2219.7" y="1251.5" font-size="16.1" textLength="48.3" lengthAdjust="spacingAndGlyphs" fill="#161616" stroke="#161616" stroke-width="0.26">False</text>
<text class="fm" x="2132.7" y="1284.6" font-size="16.1" textLength="19.3" lengthAdjust="spacingAndGlyphs" fill="#4B8BD4" stroke="#4B8BD4" stroke-width="0.26">if</text>
<text class="fm" x="2161.7" y="1284.6" font-size="16.1" textLength="106.3" lengthAdjust="spacingAndGlyphs" fill="#161616" stroke="#161616" stroke-width="0.26">lr  &lt;= 0.5:</text>
<text class="fm" x="2152.0" y="1317.6" font-size="16.1" textLength="241.5" lengthAdjust="spacingAndGlyphs" fill="#161616" stroke="#161616" stroke-width="0.26">tgt_lr = base_lr * factor</text>
<text class="fm" x="2152.0" y="1350.7" font-size="16.1" textLength="164.2" lengthAdjust="spacingAndGlyphs" fill="#161616" stroke="#161616" stroke-width="0.26">tgt = tgt_lr + 10</text>
<text class="fm" x="2152.0" y="1383.8" font-size="16.1" textLength="38.6" lengthAdjust="spacingAndGlyphs" fill="#161616" stroke="#161616" stroke-width="0.26">lr =</text>
<text class="fm" x="2200.3" y="1383.8" font-size="16.1" textLength="125.6" lengthAdjust="spacingAndGlyphs" fill="#B8434E" stroke="#B8434E" stroke-width="0.26">_normalize_lr</text>
<text class="fm" x="2325.9" y="1383.8" font-size="16.1" textLength="135.2" lengthAdjust="spacingAndGlyphs" fill="#161616" stroke="#161616" stroke-width="0.26">(tgt_lr, 0.01)</text>
<text class="fm" x="2152.0" y="1416.9" font-size="16.1" textLength="135.2" lengthAdjust="spacingAndGlyphs" fill="#161616" stroke="#161616" stroke-width="0.26">opt.params[0][</text>
<text class="fm" x="2287.3" y="1416.9" font-size="16.1" textLength="38.6" lengthAdjust="spacingAndGlyphs" fill="#4A9A50" stroke="#4A9A50" stroke-width="0.26">'lr'</text>
<text class="fm" x="2325.9" y="1416.9" font-size="16.1" textLength="58.0" lengthAdjust="spacingAndGlyphs" fill="#161616" stroke="#161616" stroke-width="0.26">] = lr</text>
<text class="fm" x="2152.0" y="1449.9" font-size="16.1" textLength="58.0" lengthAdjust="spacingAndGlyphs" fill="#4B8BD4" stroke="#4B8BD4" stroke-width="0.26">return</text>
<text class="fm" x="2219.7" y="1449.9" font-size="16.1" textLength="19.3" lengthAdjust="spacingAndGlyphs" fill="#161616" stroke="#161616" stroke-width="0.26">lr</text>
<text class="fm" x="2132.7" y="1483.0" font-size="16.1" textLength="58.0" lengthAdjust="spacingAndGlyphs" fill="#4B8BD4" stroke="#4B8BD4" stroke-width="0.26">return</text>
<text class="fm" x="2200.3" y="1483.0" font-size="16.1" textLength="38.6" lengthAdjust="spacingAndGlyphs" fill="#161616" stroke="#161616" stroke-width="0.26">None</text>
<ellipse cx="2371.2" cy="1147.1" rx="36.3" ry="15.3" fill="none" stroke="#C4991A" stroke-width="1.9" />
<ellipse cx="2254.5" cy="1179.7" rx="36.3" ry="15.3" fill="none" stroke="#C4991A" stroke-width="1.9" />
<ellipse cx="2274.8" cy="1311.4" rx="36.3" ry="15.3" fill="none" stroke="#C4991A" stroke-width="1.9" />
<circle cx="2143.8" cy="1178.0" r="14.3" fill="none" stroke="#74B266" stroke-width="1.6" />
<line x1="2143.8" y1="1194.3" x2="2349.0" y2="1195.3" stroke="#74B266" stroke-width="1.3" />
<circle cx="2173.5" cy="1212.6" r="14.6" fill="none" stroke="#a9a9a9" stroke-width="1.6" />
<circle cx="2175.2" cy="1278.1" r="14.6" fill="none" stroke="#a9a9a9" stroke-width="1.6" />
<circle cx="2161.8" cy="1378.7" r="14.6" fill="none" stroke="#a9a9a9" stroke-width="1.6" />
<circle cx="2376.6" cy="1413.5" r="14.6" fill="none" stroke="#a9a9a9" stroke-width="1.6" />
<circle cx="2232.8" cy="1444.2" r="14.6" fill="none" stroke="#a9a9a9" stroke-width="1.6" />
<path d="M2371.2,1211.3 H2405" fill="none" stroke="#a9a9a9" stroke-width="1.6" />
<polygon points="2413.2,1211.3 2400.7,1215.9 2400.7,1206.7" fill="#a9a9a9"/>
<text class="fs" x="2422.6" y="1218.8" font-size="19" textLength="40.4" lengthAdjust="spacingAndGlyphs" fill="#a9a9a9" font-style="italic">User</text>
<path d="M2371.2,1245.4 H2404" fill="none" stroke="#C4991A" stroke-width="1.6" stroke-dasharray="3.5 2"/>
<polygon points="2412.0,1245.4 2399.5,1250.0 2399.5,1240.8" fill="#C4991A"/>
<text class="fs" x="2419.4" y="1252.9" font-size="19" textLength="43.6" lengthAdjust="spacingAndGlyphs" fill="#C4991A" font-style="italic">Usee</text>
<text class="fs" x="2099.3" y="1239.8" font-size="19" textLength="29.2" lengthAdjust="spacingAndGlyphs" fill="#74B266" font-style="italic">Def</text>
<path d="M2118,1219 Q2133,1216 2136,1202" fill="none" stroke="#74B266" stroke-width="1.6" />
<polygon points="2141.0,1195.0 2138.7,1208.1 2130.8,1203.5" fill="#74B266"/>
<path d="M2290,1180 Q2335,1180 2362,1168" fill="none" stroke="#C4991A" stroke-width="1.6" stroke-dasharray="3.5 2"/>
<polygon points="2370.0,1163.8 2360.6,1173.3 2356.7,1164.9" fill="#C4991A"/>
<path d="M2254.5,1195 C2254,1240 2274,1245 2274.5,1286" fill="none" stroke="#C4991A" stroke-width="1.6" stroke-dasharray="3.5 2"/>
<polygon points="2274.8,1295.5 2270.2,1283.0 2279.4,1283.0" fill="#C4991A"/>
<path d="M2145,1194 L2156,1198" fill="none" stroke="#a9a9a9" stroke-width="1.6" />
<polygon points="2162.0,1200.5 2148.7,1199.4 2152.6,1191.0" fill="#a9a9a9"/>
<path d="M2144,1195 C2144,1230 2150,1255 2155,1263" fill="none" stroke="#a9a9a9" stroke-width="1.6" />
<polygon points="2160.0,1272.0 2149.8,1263.5 2157.7,1258.9" fill="#a9a9a9"/>
<path d="M2144,1195 C2145,1260 2145,1320 2146,1362" fill="none" stroke="#a9a9a9" stroke-width="1.6" />
<polygon points="2147.0,1372.0 2142.0,1359.7 2151.2,1359.3" fill="#a9a9a9"/>
<path d="M2144,1195 C2150,1330 2170,1415 2208,1438" fill="none" stroke="#a9a9a9" stroke-width="1.6" />
<polygon points="2217.0,1443.0 2203.8,1441.2 2208.1,1433.1" fill="#a9a9a9"/>
<path d="M2158.5,1177 C2260,1180 2365,1270 2376,1388" fill="none" stroke="#a9a9a9" stroke-width="1.6" />
<polygon points="2376.6,1398.0 2371.6,1385.7 2380.8,1385.3" fill="#a9a9a9"/>
<rect x="2096.5" y="1528.0" width="412.8" height="152.0" fill="#fff" stroke="#000" stroke-width="2.2"/>
<line x1="2095.4" y1="1561.0" x2="2510.4" y2="1561.0" stroke="#000" stroke-width="2.2" />
<rect x="2097.6" y="1625.0" width="410.6" height="30.5" fill="#D4EBBB"/>
<text class="fs" x="2101.0" y="1550.0" font-size="18" textLength="72.0" lengthAdjust="spacingAndGlyphs" fill="#111">Identifier</text>
<text class="fs" x="2229.9" y="1550.0" font-size="18" textLength="26.1" lengthAdjust="spacingAndGlyphs" fill="#111">Def</text>
<text class="fs" x="2338.3" y="1550.0" font-size="18" textLength="35.7" lengthAdjust="spacingAndGlyphs" fill="#111">User</text>
<text class="fs" x="2452.1" y="1550.0" font-size="18" textLength="37.8" lengthAdjust="spacingAndGlyphs" fill="#111">Usee</text>
<text class="fm" x="2099.3" y="1578.9" font-size="16.1" textLength="29.0" lengthAdjust="spacingAndGlyphs" fill="#151515" stroke="#151515" stroke-width="0.26">opt</text>
<text class="fm" x="2206.5" y="1578.9" font-size="16.1" textLength="58.1" lengthAdjust="spacingAndGlyphs" fill="#151515" stroke="#151515" stroke-width="0.26">line 0</text>
<text class="fm" x="2332.5" y="1578.9" font-size="16.1" textLength="77.4" lengthAdjust="spacingAndGlyphs" fill="#151515" stroke="#151515" stroke-width="0.26">line 1,5</text>
<text class="fm" x="2478.7" y="1578.9" font-size="16.1" textLength="9.7" lengthAdjust="spacingAndGlyphs" fill="#151515" stroke="#151515" stroke-width="0.26">-</text>
<text class="fm" x="2099.3" y="1600.6" font-size="16.1" textLength="67.8" lengthAdjust="spacingAndGlyphs" fill="#151515" stroke="#151515" stroke-width="0.26">base_lr</text>
<text class="fm" x="2206.5" y="1600.6" font-size="16.1" textLength="58.1" lengthAdjust="spacingAndGlyphs" fill="#151515" stroke="#151515" stroke-width="0.26">line 0</text>
<text class="fm" x="2332.5" y="1600.6" font-size="16.1" textLength="77.4" lengthAdjust="spacingAndGlyphs" fill="#151515" stroke="#151515" stroke-width="0.26">line 1,5</text>
<text class="fm" x="2478.7" y="1600.6" font-size="16.1" textLength="9.7" lengthAdjust="spacingAndGlyphs" fill="#151515" stroke="#151515" stroke-width="0.26">-</text>
<text class="fm" x="2098.6" y="1619.6" font-size="16.1" textLength="58.1" lengthAdjust="spacingAndGlyphs" fill="#151515" stroke="#151515" stroke-width="0.26">factor</text>
<text class="fm" x="2205.5" y="1619.6" font-size="16.1" textLength="58.1" lengthAdjust="spacingAndGlyphs" fill="#151515" stroke="#151515" stroke-width="0.26">line 0</text>
<text class="fm" x="2331.0" y="1619.6" font-size="16.1" textLength="58.1" lengthAdjust="spacingAndGlyphs" fill="#151515" stroke="#151515" stroke-width="0.26">line 5</text>
<text class="fm" x="2477.7" y="1619.6" font-size="16.1" textLength="9.7" lengthAdjust="spacingAndGlyphs" fill="#151515" stroke="#151515" stroke-width="0.26">-</text>
<text class="fm" x="2103.0" y="1644.0" font-size="16.1" textLength="19.4" lengthAdjust="spacingAndGlyphs" fill="#3A5F2A" stroke="#3A5F2A" stroke-width="0.26">lr</text>
<text class="fm" x="2199.9" y="1644.0" font-size="16.1" textLength="58.1" lengthAdjust="spacingAndGlyphs" fill="#3A5F2A" stroke="#3A5F2A" stroke-width="0.26">line 1</text>
<text class="fm" x="2286.6" y="1644.0" font-size="16.1" textLength="135.5" lengthAdjust="spacingAndGlyphs" fill="#3A5F2A" stroke="#3A5F2A" stroke-width="0.26">line 2,4,7,8,9</text>
<text class="fm" x="2432.3" y="1644.0" font-size="16.1" textLength="77.4" lengthAdjust="spacingAndGlyphs" fill="#3A5F2A" stroke="#3A5F2A" stroke-width="0.26">line 0,5</text>
<text class="fm" x="2096.1" y="1670.4" font-size="16.1" textLength="58.1" lengthAdjust="spacingAndGlyphs" fill="#151515" stroke="#151515" stroke-width="0.26">tgt_lr</text>
<text class="fm" x="2202.3" y="1670.4" font-size="16.1" textLength="58.1" lengthAdjust="spacingAndGlyphs" fill="#151515" stroke="#151515" stroke-width="0.26">line 5</text>
<text class="fm" x="2328.6" y="1670.4" font-size="16.1" textLength="77.4" lengthAdjust="spacingAndGlyphs" fill="#151515" stroke="#151515" stroke-width="0.26">line 6,7</text>
<text class="fm" x="2454.3" y="1670.4" font-size="16.1" textLength="48.4" lengthAdjust="spacingAndGlyphs" fill="#151515" stroke="#151515" stroke-width="0.26">line0</text>
<ellipse cx="2118.1" cy="1639.6" rx="21.5" ry="15.9" fill="none" stroke="#2E8B7D" stroke-width="1.8" />
<ellipse cx="2228.5" cy="1639.6" rx="33.7" ry="15.4" fill="none" stroke="#2E8B7D" stroke-width="1.8" />
<ellipse cx="2356.1" cy="1639.6" rx="72.5" ry="15.4" fill="none" stroke="#2E8B7D" stroke-width="1.8" />
<line x1="2140.1" y1="1639.9" x2="2181.8" y2="1639.9" stroke="#2E8B7D" stroke-width="1.8" />
<polygon points="2193.8,1639.9 2180.8,1644.9 2180.8,1634.9" fill="#2E8B7D"/>
<line x1="2262.6" y1="1639.9" x2="2272.1" y2="1639.9" stroke="#2E8B7D" stroke-width="1.8" />
<polygon points="2284.1,1639.9 2271.1,1644.9 2271.1,1634.9" fill="#2E8B7D"/>
<line x1="2408.1" y1="1651.4" x2="2408.1" y2="1689.4" stroke="#1A6088" stroke-width="1.9" />
<polygon points="2408.1,1701.4 2403.1,1688.4 2413.1,1688.4" fill="#1A6088"/>
<rect x="2392.5" y="1703.1" width="35.1" height="43.7" fill="#fff" stroke="#000" stroke-width="2.7" stroke-dasharray="6 3"/>
<g transform="translate(2396.0,1705.5) scale(0.2700,0.3145)" fill="none" stroke="#111" stroke-width="9.6" stroke-linecap="round" stroke-linejoin="round">
<path d="M30,66 H52 Q62,66 62,56 V12 Q64,2 72,4 L78,20 L96,28 Q98,34 92,36 L82,36 V58"/>
<path d="M22,70 Q12,70 12,80 V88 Q12,95 4,95 Q12,95 12,102 V110 Q12,120 22,120"/>
<path d="M74,70 Q84,70 84,80 V88 Q84,95 92,95 Q84,95 84,102 V110 Q84,120 74,120"/>
<path d="M36,120 V106 Q36,94 48,94 Q60,94 60,106 V120"/>
</g>
<text class="fm" x="2434.3" y="1730.7" font-size="16.1" textLength="52.7" lengthAdjust="spacingAndGlyphs" fill="#151515">:float</text>
<path d="M2489,1727 L2493,1723.5 L2498,1729.5 Q2504,1721 2511,1716.5 Q2504,1725 2499,1735 Z" fill="#7DC4C6" />
<circle cx="2173.0" cy="1700.2" r="10.2" fill="#fff" stroke="#000" stroke-width="2" />
<line x1="2180.5" y1="1708.0" x2="2190.0" y2="1717.5" stroke="#000" stroke-width="4" stroke-linecap="round"/>
<path d="M2165,1700.5 H2168.5 L2170.5,1695.5 L2173,1705 L2175.5,1697.5 L2177,1700.5 H2181" fill="none" stroke="#000" stroke-width="1.1" />
<text class="fm" x="2201.6" y="1705.1" font-size="16.1" textLength="47.1" lengthAdjust="spacingAndGlyphs" fill="#151515">query</text>
<text class="fm" x="2082.0" y="1740.5" font-size="16.1" textLength="38.6" lengthAdjust="spacingAndGlyphs" fill="#151515" stroke="#151515" stroke-width="0.26">T2 =</text>
<text class="fm" x="2130.2" y="1740.5" font-size="16.1" textLength="144.8" lengthAdjust="spacingAndGlyphs" fill="#B5424C" stroke="#B5424C" stroke-width="0.26">return_analysis</text>
<text class="fm" x="2275.0" y="1740.5" font-size="16.1" textLength="29.0" lengthAdjust="spacingAndGlyphs" fill="#151515" stroke="#151515" stroke-width="0.26">(lr</text>
<text class="fm" x="2303.9" y="1740.5" font-size="16.1" textLength="9.7" lengthAdjust="spacingAndGlyphs" fill="#E2191F" stroke="#E2191F" stroke-width="0.26">×</text>
<text class="fm" x="2313.6" y="1740.5" font-size="16.1" textLength="9.7" lengthAdjust="spacingAndGlyphs" fill="#151515" stroke="#151515" stroke-width="0.26">)</text>
<ellipse cx="2293.2" cy="1736.3" rx="12.2" ry="15.9" fill="none" stroke="#1A6088" stroke-width="1.8" />
<path d="M2285.5,1724.5 C2265,1680 2180,1690 2150,1680 C2135,1675 2125,1665 2122,1660" fill="none" stroke="#1A6088" stroke-width="1.9" />
<polygon points="2118.5,1654 2130,1661.5 2120.5,1668" fill="#1A6088"/>
<rect x="2565.2" y="1133.3" width="479.7" height="262.3" fill="#fff" stroke="#8c8c8c" stroke-width="1.1"/>
<line x1="2565.2" y1="1345.7" x2="3044.9" y2="1345.7" stroke="#e2e2e2" stroke-width="1" />
<line x1="2565.2" y1="1295.8" x2="3044.9" y2="1295.8" stroke="#e2e2e2" stroke-width="1" />
<line x1="2565.2" y1="1246.0" x2="3044.9" y2="1246.0" stroke="#e2e2e2" stroke-width="1" />
<line x1="2565.2" y1="1196.1" x2="3044.9" y2="1196.1" stroke="#e2e2e2" stroke-width="1" />
<line x1="2565.2" y1="1146.2" x2="3044.9" y2="1146.2" stroke="#e2e2e2" stroke-width="1" />
<line x1="2561.7" y1="1395.6" x2="2565.2" y2="1395.6" stroke="#444" stroke-width="0.9" />
<text class="fd" x="2537.7" y="1402.1" font-size="18" textLength="23.5" lengthAdjust="spacingAndGlyphs" fill="#111">0.0</text>
<line x1="2561.7" y1="1345.7" x2="2565.2" y2="1345.7" stroke="#444" stroke-width="0.9" />
<text class="fd" x="2537.7" y="1352.2" font-size="18" textLength="23.5" lengthAdjust="spacingAndGlyphs" fill="#111">0.2</text>
<line x1="2561.7" y1="1295.8" x2="2565.2" y2="1295.8" stroke="#444" stroke-width="0.9" />
<text class="fd" x="2537.7" y="1302.3" font-size="18" textLength="23.5" lengthAdjust="spacingAndGlyphs" fill="#111">0.4</text>
<line x1="2561.7" y1="1246.0" x2="2565.2" y2="1246.0" stroke="#444" stroke-width="0.9" />
<text class="fd" x="2537.7" y="1252.4" font-size="18" textLength="23.5" lengthAdjust="spacingAndGlyphs" fill="#111">0.6</text>
<line x1="2561.7" y1="1196.1" x2="2565.2" y2="1196.1" stroke="#444" stroke-width="0.9" />
<text class="fd" x="2537.7" y="1202.6" font-size="18" textLength="23.5" lengthAdjust="spacingAndGlyphs" fill="#111">0.8</text>
<line x1="2561.7" y1="1146.2" x2="2565.2" y2="1146.2" stroke="#444" stroke-width="0.9" />
<text class="fd" x="2537.7" y="1152.7" font-size="18" textLength="23.5" lengthAdjust="spacingAndGlyphs" fill="#111">1.0</text>
<rect x="2572.0" y="1213.5" width="13.3" height="182.1" fill="#D3D3D3" stroke="#4d4d4d" stroke-width="0.9"/>
<text class="fd" x="2582.4" y="1209.0" font-size="10.4" fill="#111" text-anchor="start" transform="rotate(-90 2582.4 1209.0)" textLength="27.0" lengthAdjust="spacingAndGlyphs">0.73</text>
<rect x="2585.3" y="1193.6" width="13.3" height="202.0" fill="#7ACC7A" stroke="#4d4d4d" stroke-width="0.9"/>
<text class="fd" x="2595.8" y="1189.1" font-size="10.4" fill="#111" text-anchor="start" transform="rotate(-90 2595.8 1189.1)" textLength="27.0" lengthAdjust="spacingAndGlyphs">0.81</text>
<rect x="2598.7" y="1193.6" width="13.3" height="202.0" fill="#EE9DA8" stroke="#4d4d4d" stroke-width="0.9"/>
<text class="fd" x="2609.1" y="1189.1" font-size="10.4" fill="#111" text-anchor="start" transform="rotate(-90 2609.1 1189.1)" textLength="27.0" lengthAdjust="spacingAndGlyphs">0.81</text>
<line x1="2592.0" y1="1395.6" x2="2592.0" y2="1399.1" stroke="#444" stroke-width="0.9" />
<text class="fd" x="2583.0" y="1413.8" font-size="18.5" textLength="18.0" lengthAdjust="spacingAndGlyphs" fill="#111">int</text>
<rect x="2625.3" y="1213.5" width="13.3" height="182.1" fill="#D3D3D3" stroke="#4d4d4d" stroke-width="0.9"/>
<text class="fd" x="2635.7" y="1209.0" font-size="10.4" fill="#111" text-anchor="start" transform="rotate(-90 2635.7 1209.0)" textLength="27.0" lengthAdjust="spacingAndGlyphs">0.73</text>
<rect x="2638.6" y="1206.1" width="13.3" height="189.5" fill="#7ACC7A" stroke="#4d4d4d" stroke-width="0.9"/>
<text class="fd" x="2649.0" y="1201.6" font-size="10.4" fill="#111" text-anchor="start" transform="rotate(-90 2649.0 1201.6)" textLength="27.0" lengthAdjust="spacingAndGlyphs">0.76</text>
<rect x="2652.0" y="1203.6" width="13.3" height="192.0" fill="#EE9DA8" stroke="#4d4d4d" stroke-width="0.9"/>
<text class="fd" x="2662.4" y="1199.1" font-size="10.4" fill="#111" text-anchor="start" transform="rotate(-90 2662.4 1199.1)" textLength="27.0" lengthAdjust="spacingAndGlyphs">0.77</text>
<line x1="2645.3" y1="1395.6" x2="2645.3" y2="1399.1" stroke="#444" stroke-width="0.9" />
<text class="fd" x="2629.5" y="1413.8" font-size="18.5" textLength="31.5" lengthAdjust="spacingAndGlyphs" fill="#111">float</text>
<rect x="2678.5" y="1176.1" width="13.3" height="219.5" fill="#D3D3D3" stroke="#4d4d4d" stroke-width="0.9"/>
<text class="fd" x="2688.9" y="1171.6" font-size="10.4" fill="#111" text-anchor="start" transform="rotate(-90 2688.9 1171.6)" textLength="27.0" lengthAdjust="spacingAndGlyphs">0.88</text>
<rect x="2691.9" y="1168.6" width="13.3" height="227.0" fill="#7ACC7A" stroke="#4d4d4d" stroke-width="0.9"/>
<text class="fd" x="2702.3" y="1164.1" font-size="10.4" fill="#111" text-anchor="start" transform="rotate(-90 2702.3 1164.1)" textLength="27.0" lengthAdjust="spacingAndGlyphs">0.91</text>
<rect x="2705.2" y="1166.2" width="13.3" height="229.4" fill="#EE9DA8" stroke="#4d4d4d" stroke-width="0.9"/>
<text class="fd" x="2715.6" y="1161.7" font-size="10.4" fill="#111" text-anchor="start" transform="rotate(-90 2715.6 1161.7)" textLength="27.0" lengthAdjust="spacingAndGlyphs">0.92</text>
<line x1="2698.5" y1="1395.6" x2="2698.5" y2="1399.1" stroke="#444" stroke-width="0.9" />
<text class="fd" x="2683.3" y="1413.8" font-size="18.5" textLength="30.5" lengthAdjust="spacingAndGlyphs" fill="#111">bool</text>
<rect x="2731.8" y="1203.6" width="13.3" height="192.0" fill="#D3D3D3" stroke="#4d4d4d" stroke-width="0.9"/>
<text class="fd" x="2742.2" y="1199.1" font-size="10.4" fill="#111" text-anchor="start" transform="rotate(-90 2742.2 1199.1)" textLength="27.0" lengthAdjust="spacingAndGlyphs">0.77</text>
<rect x="2745.2" y="1186.1" width="13.3" height="209.5" fill="#7ACC7A" stroke="#4d4d4d" stroke-width="0.9"/>
<text class="fd" x="2755.6" y="1181.6" font-size="10.4" fill="#111" text-anchor="start" transform="rotate(-90 2755.6 1181.6)" textLength="27.0" lengthAdjust="spacingAndGlyphs">0.84</text>
<rect x="2758.5" y="1183.6" width="13.3" height="212.0" fill="#EE9DA8" stroke="#4d4d4d" stroke-width="0.9"/>
<text class="fd" x="2768.9" y="1179.1" font-size="10.4" fill="#111" text-anchor="start" transform="rotate(-90 2768.9 1179.1)" textLength="27.0" lengthAdjust="spacingAndGlyphs">0.85</text>
<line x1="2751.8" y1="1395.6" x2="2751.8" y2="1399.1" stroke="#444" stroke-width="0.9" />
<text class="fd" x="2742.3" y="1413.8" font-size="18.5" textLength="19.0" lengthAdjust="spacingAndGlyphs" fill="#111">str</text>
<rect x="2785.1" y="1263.4" width="13.3" height="132.2" fill="#D3D3D3" stroke="#4d4d4d" stroke-width="0.9"/>
<text class="fd" x="2795.5" y="1258.9" font-size="10.4" fill="#111" text-anchor="start" transform="rotate(-90 2795.5 1258.9)" textLength="27.0" lengthAdjust="spacingAndGlyphs">0.53</text>
<rect x="2798.4" y="1238.5" width="13.3" height="157.1" fill="#7ACC7A" stroke="#4d4d4d" stroke-width="0.9"/>
<text class="fd" x="2808.8" y="1234.0" font-size="10.4" fill="#111" text-anchor="start" transform="rotate(-90 2808.8 1234.0)" textLength="27.0" lengthAdjust="spacingAndGlyphs">0.63</text>
<rect x="2811.8" y="1236.0" width="13.3" height="159.6" fill="#EE9DA8" stroke="#4d4d4d" stroke-width="0.9"/>
<text class="fd" x="2822.2" y="1231.5" font-size="10.4" fill="#111" text-anchor="start" transform="rotate(-90 2822.2 1231.5)" textLength="27.0" lengthAdjust="spacingAndGlyphs">0.64</text>
<line x1="2805.1" y1="1395.6" x2="2805.1" y2="1399.1" stroke="#444" stroke-width="0.9" />
<text class="fd" x="2785.3" y="1413.8" font-size="18.5" textLength="39.5" lengthAdjust="spacingAndGlyphs" fill="#111">bytes</text>
<rect x="2838.3" y="1283.4" width="13.3" height="112.2" fill="#D3D3D3" stroke="#4d4d4d" stroke-width="0.9"/>
<text class="fd" x="2848.8" y="1278.9" font-size="10.4" fill="#111" text-anchor="start" transform="rotate(-90 2848.8 1278.9)" textLength="27.0" lengthAdjust="spacingAndGlyphs">0.45</text>
<rect x="2851.7" y="1265.9" width="13.3" height="129.7" fill="#7ACC7A" stroke="#4d4d4d" stroke-width="0.9"/>
<text class="fd" x="2862.1" y="1261.4" font-size="10.4" fill="#111" text-anchor="start" transform="rotate(-90 2862.1 1261.4)" textLength="27.0" lengthAdjust="spacingAndGlyphs">0.52</text>
<rect x="2865.0" y="1265.9" width="13.3" height="129.7" fill="#EE9DA8" stroke="#4d4d4d" stroke-width="0.9"/>
<text class="fd" x="2875.4" y="1261.4" font-size="10.4" fill="#111" text-anchor="start" transform="rotate(-90 2875.4 1261.4)" textLength="27.0" lengthAdjust="spacingAndGlyphs">0.52</text>
<line x1="2858.3" y1="1395.6" x2="2858.3" y2="1399.1" stroke="#444" stroke-width="0.9" />
<text class="fd" x="2848.3" y="1413.8" font-size="18.5" textLength="20.0" lengthAdjust="spacingAndGlyphs" fill="#111">list</text>
<rect x="2891.6" y="1310.8" width="13.3" height="84.8" fill="#D3D3D3" stroke="#4d4d4d" stroke-width="0.9"/>
<text class="fd" x="2902.0" y="1306.3" font-size="10.4" fill="#111" text-anchor="start" transform="rotate(-90 2902.0 1306.3)" textLength="27.0" lengthAdjust="spacingAndGlyphs">0.34</text>
<rect x="2905.0" y="1310.8" width="13.3" height="84.8" fill="#7ACC7A" stroke="#4d4d4d" stroke-width="0.9"/>
<text class="fd" x="2915.4" y="1306.3" font-size="10.4" fill="#111" text-anchor="start" transform="rotate(-90 2915.4 1306.3)" textLength="27.0" lengthAdjust="spacingAndGlyphs">0.34</text>
<rect x="2918.3" y="1295.8" width="13.3" height="99.8" fill="#EE9DA8" stroke="#4d4d4d" stroke-width="0.9"/>
<text class="fd" x="2928.7" y="1291.3" font-size="10.4" fill="#111" text-anchor="start" transform="rotate(-90 2928.7 1291.3)" textLength="27.0" lengthAdjust="spacingAndGlyphs">0.40</text>
<line x1="2911.6" y1="1395.6" x2="2911.6" y2="1399.1" stroke="#444" stroke-width="0.9" />
<text class="fd" x="2893.9" y="1413.8" font-size="18.5" textLength="35.5" lengthAdjust="spacingAndGlyphs" fill="#111">tuple</text>
<rect x="2944.9" y="1275.9" width="13.3" height="119.7" fill="#D3D3D3" stroke="#4d4d4d" stroke-width="0.9"/>
<text class="fd" x="2955.3" y="1271.4" font-size="10.4" fill="#111" text-anchor="start" transform="rotate(-90 2955.3 1271.4)" textLength="27.0" lengthAdjust="spacingAndGlyphs">0.48</text>
<rect x="2958.2" y="1250.9" width="13.3" height="144.7" fill="#7ACC7A" stroke="#4d4d4d" stroke-width="0.9"/>
<text class="fd" x="2968.6" y="1246.4" font-size="10.4" fill="#111" text-anchor="start" transform="rotate(-90 2968.6 1246.4)" textLength="27.0" lengthAdjust="spacingAndGlyphs">0.58</text>
<rect x="2971.6" y="1248.5" width="13.3" height="147.1" fill="#EE9DA8" stroke="#4d4d4d" stroke-width="0.9"/>
<text class="fd" x="2982.0" y="1244.0" font-size="10.4" fill="#111" text-anchor="start" transform="rotate(-90 2982.0 1244.0)" textLength="27.0" lengthAdjust="spacingAndGlyphs">0.59</text>
<line x1="2964.9" y1="1395.6" x2="2964.9" y2="1399.1" stroke="#444" stroke-width="0.9" />
<text class="fd" x="2951.9" y="1413.8" font-size="18.5" textLength="26.0" lengthAdjust="spacingAndGlyphs" fill="#111">dict</text>
<rect x="2998.2" y="1211.0" width="13.3" height="184.6" fill="#D3D3D3" stroke="#4d4d4d" stroke-width="0.9"/>
<text class="fd" x="3008.6" y="1206.5" font-size="10.4" fill="#111" text-anchor="start" transform="rotate(-90 3008.6 1206.5)" textLength="27.0" lengthAdjust="spacingAndGlyphs">0.74</text>
<rect x="3011.5" y="1206.1" width="13.3" height="189.5" fill="#7ACC7A" stroke="#4d4d4d" stroke-width="0.9"/>
<text class="fd" x="3021.9" y="1201.6" font-size="10.4" fill="#111" text-anchor="start" transform="rotate(-90 3021.9 1201.6)" textLength="27.0" lengthAdjust="spacingAndGlyphs">0.76</text>
<rect x="3024.9" y="1203.6" width="13.3" height="192.0" fill="#EE9DA8" stroke="#4d4d4d" stroke-width="0.9"/>
<text class="fd" x="3035.3" y="1199.1" font-size="10.4" fill="#111" text-anchor="start" transform="rotate(-90 3035.3 1199.1)" textLength="27.0" lengthAdjust="spacingAndGlyphs">0.77</text>
<line x1="3018.2" y1="1395.6" x2="3018.2" y2="1399.1" stroke="#444" stroke-width="0.9" />
<text class="fd" x="3002.4" y="1413.8" font-size="18.5" textLength="31.5" lengthAdjust="spacingAndGlyphs" fill="#111">user</text>
<text class="fd" x="2534.5" y="1264.4" font-size="15.5" fill="#111" text-anchor="middle" transform="rotate(-90 2534.5 1264.4)" textLength="146.0" lengthAdjust="spacingAndGlyphs">Average Scores</text>
<rect x="2865.7" y="1135.8" width="76.5" height="78.5" fill="#fff" stroke="#e3e3e3" stroke-width="1" rx="2.5" fill-opacity="0.85"/>
<rect x="2870.3" y="1143.2" width="25.8" height="12.0" fill="#D3D3D3" stroke="#4d4d4d" stroke-width="0.9"/>
<text class="fd" x="2906.2" y="1155.2" font-size="17.5" textLength="21.5" lengthAdjust="spacingAndGlyphs" fill="#111">Def</text>
<rect x="2870.3" y="1167.8" width="25.8" height="12.0" fill="#7ACC7A" stroke="#4d4d4d" stroke-width="0.9"/>
<text class="fd" x="2906.2" y="1179.8" font-size="17.5" textLength="28.5" lengthAdjust="spacingAndGlyphs" fill="#111">User</text>
<rect x="2870.3" y="1192.6" width="25.8" height="12.0" fill="#EE9DA8" stroke="#4d4d4d" stroke-width="0.9"/>
<text class="fd" x="2906.2" y="1204.6" font-size="17.5" textLength="30.5" lengthAdjust="spacingAndGlyphs" fill="#111">Usee</text>
<rect x="2572.8" y="1461.5" width="473.9" height="257.7" fill="#fff" stroke="#8c8c8c" stroke-width="1.1"/>
<line x1="2572.8" y1="1670.1" x2="3046.7" y2="1670.1" stroke="#e2e2e2" stroke-width="1" />
<line x1="2572.8" y1="1621.0" x2="3046.7" y2="1621.0" stroke="#e2e2e2" stroke-width="1" />
<line x1="2572.8" y1="1571.9" x2="3046.7" y2="1571.9" stroke="#e2e2e2" stroke-width="1" />
<line x1="2572.8" y1="1522.8" x2="3046.7" y2="1522.8" stroke="#e2e2e2" stroke-width="1" />
<line x1="2572.8" y1="1473.7" x2="3046.7" y2="1473.7" stroke="#e2e2e2" stroke-width="1" />
<line x1="2569.3" y1="1719.2" x2="2572.8" y2="1719.2" stroke="#444" stroke-width="0.9" />
<text class="fd" x="2546.8" y="1725.3" font-size="17" textLength="22.0" lengthAdjust="spacingAndGlyphs" fill="#111">0.0</text>
<line x1="2569.3" y1="1670.1" x2="2572.8" y2="1670.1" stroke="#444" stroke-width="0.9" />
<text class="fd" x="2546.8" y="1676.2" font-size="17" textLength="22.0" lengthAdjust="spacingAndGlyphs" fill="#111">0.2</text>
<line x1="2569.3" y1="1621.0" x2="2572.8" y2="1621.0" stroke="#444" stroke-width="0.9" />
<text class="fd" x="2546.8" y="1627.1" font-size="17" textLength="22.0" lengthAdjust="spacingAndGlyphs" fill="#111">0.4</text>
<line x1="2569.3" y1="1571.9" x2="2572.8" y2="1571.9" stroke="#444" stroke-width="0.9" />
<text class="fd" x="2546.8" y="1578.0" font-size="17" textLength="22.0" lengthAdjust="spacingAndGlyphs" fill="#111">0.6</text>
<line x1="2569.3" y1="1522.8" x2="2572.8" y2="1522.8" stroke="#444" stroke-width="0.9" />
<text class="fd" x="2546.8" y="1528.9" font-size="17" textLength="22.0" lengthAdjust="spacingAndGlyphs" fill="#111">0.8</text>
<line x1="2569.3" y1="1473.7" x2="2572.8" y2="1473.7" stroke="#444" stroke-width="0.9" />
<text class="fd" x="2546.8" y="1479.8" font-size="17" textLength="22.0" lengthAdjust="spacingAndGlyphs" fill="#111">1.0</text>
<rect x="2584.4" y="1594.0" width="20.6" height="125.2" fill="#7ACC7A" stroke="#4d4d4d" stroke-width="0.9"/>
<text class="fd" x="2585.1" y="1589.8" font-size="11.5" textLength="19.2" lengthAdjust="spacingAndGlyphs" fill="#111">0.51</text>
<rect x="2605.0" y="1662.7" width="20.6" height="56.5" fill="#EE9DA8" stroke="#4d4d4d" stroke-width="0.9"/>
<text class="fd" x="2605.7" y="1658.5" font-size="11.5" textLength="19.2" lengthAdjust="spacingAndGlyphs" fill="#111">0.23</text>
<line x1="2605.0" y1="1719.2" x2="2605.0" y2="1722.7" stroke="#444" stroke-width="0.9" />
<text class="fd" x="2580.8" y="1734.4" font-size="14.8" textLength="48.5" lengthAdjust="spacingAndGlyphs" fill="#111">Optional</text>
<rect x="2642.9" y="1677.5" width="20.6" height="41.7" fill="#7ACC7A" stroke="#4d4d4d" stroke-width="0.9"/>
<text class="fd" x="2643.6" y="1673.3" font-size="11.5" textLength="19.2" lengthAdjust="spacingAndGlyphs" fill="#111">0.17</text>
<rect x="2663.5" y="1692.2" width="20.6" height="27.0" fill="#EE9DA8" stroke="#4d4d4d" stroke-width="0.9"/>
<text class="fd" x="2664.2" y="1688.0" font-size="11.5" textLength="19.2" lengthAdjust="spacingAndGlyphs" fill="#111">0.11</text>
<line x1="2663.5" y1="1719.2" x2="2663.5" y2="1722.7" stroke="#444" stroke-width="0.9" />
<text class="fd" x="2646.5" y="1734.4" font-size="14.8" textLength="34.0" lengthAdjust="spacingAndGlyphs" fill="#111">Union</text>
<rect x="2701.4" y="1476.2" width="20.6" height="243.0" fill="#7ACC7A" stroke="#4d4d4d" stroke-width="0.9"/>
<text class="fd" x="2702.1" y="1472.0" font-size="11.5" textLength="19.2" lengthAdjust="spacingAndGlyphs" fill="#111">0.99</text>
<rect x="2722.0" y="1549.8" width="20.6" height="169.4" fill="#EE9DA8" stroke="#4d4d4d" stroke-width="0.9"/>
<text class="fd" x="2722.7" y="1545.6" font-size="11.5" textLength="19.2" lengthAdjust="spacingAndGlyphs" fill="#111">0.69</text>
<line x1="2722.0" y1="1719.2" x2="2722.0" y2="1722.7" stroke="#444" stroke-width="0.9" />
<text class="fd" x="2701.2" y="1734.4" font-size="14.8" textLength="41.5" lengthAdjust="spacingAndGlyphs" fill="#111">Pattern</text>
<rect x="2759.9" y="1495.8" width="20.6" height="223.4" fill="#7ACC7A" stroke="#4d4d4d" stroke-width="0.9"/>
<text class="fd" x="2760.6" y="1491.6" font-size="11.5" textLength="19.2" lengthAdjust="spacingAndGlyphs" fill="#111">0.91</text>
<rect x="2780.5" y="1709.4" width="20.6" height="9.8" fill="#EE9DA8" stroke="#4d4d4d" stroke-width="0.9"/>
<text class="fd" x="2781.2" y="1705.2" font-size="11.5" textLength="19.2" lengthAdjust="spacingAndGlyphs" fill="#111">0.04</text>
<line x1="2780.5" y1="1719.2" x2="2780.5" y2="1722.7" stroke="#444" stroke-width="0.9" />
<text class="fd" x="2769.8" y="1734.4" font-size="14.8" textLength="21.5" lengthAdjust="spacingAndGlyphs" fill="#111">Mat</text>
<rect x="2818.4" y="1562.1" width="20.6" height="157.1" fill="#7ACC7A" stroke="#4d4d4d" stroke-width="0.9"/>
<text class="fd" x="2819.1" y="1557.9" font-size="11.5" textLength="19.2" lengthAdjust="spacingAndGlyphs" fill="#111">0.64</text>
<rect x="2839.0" y="1718.4" width="20.6" height="0.8" fill="#EE9DA8" stroke="#4d4d4d" stroke-width="0.9"/>
<text class="fd" x="2839.7" y="1715.0" font-size="11.5" textLength="19.2" lengthAdjust="spacingAndGlyphs" fill="#111">0.00</text>
<line x1="2839.0" y1="1719.2" x2="2839.0" y2="1722.7" stroke="#444" stroke-width="0.9" />
<text class="fd" x="2818.0" y="1734.4" font-size="14.8" textLength="42.0" lengthAdjust="spacingAndGlyphs" fill="#111">Defdict</text>
<rect x="2876.9" y="1515.4" width="20.6" height="203.8" fill="#7ACC7A" stroke="#4d4d4d" stroke-width="0.9"/>
<text class="fd" x="2877.6" y="1511.2" font-size="11.5" textLength="19.2" lengthAdjust="spacingAndGlyphs" fill="#111">0.83</text>
<rect x="2897.5" y="1630.8" width="20.6" height="88.4" fill="#EE9DA8" stroke="#4d4d4d" stroke-width="0.9"/>
<text class="fd" x="2898.2" y="1626.6" font-size="11.5" textLength="19.2" lengthAdjust="spacingAndGlyphs" fill="#111">0.36</text>
<line x1="2897.5" y1="1719.2" x2="2897.5" y2="1722.7" stroke="#444" stroke-width="0.9" />
<text class="fd" x="2884.0" y="1734.4" font-size="14.8" textLength="27.0" lengthAdjust="spacingAndGlyphs" fill="#111">Type</text>
<rect x="2935.4" y="1498.2" width="20.6" height="221.0" fill="#7ACC7A" stroke="#4d4d4d" stroke-width="0.9"/>
<text class="fd" x="2936.1" y="1494.0" font-size="11.5" textLength="19.2" lengthAdjust="spacingAndGlyphs" fill="#111">0.90</text>
<rect x="2956.0" y="1718.4" width="20.6" height="0.8" fill="#EE9DA8" stroke="#4d4d4d" stroke-width="0.9"/>
<text class="fd" x="2956.7" y="1715.0" font-size="11.5" textLength="19.2" lengthAdjust="spacingAndGlyphs" fill="#111">0.00</text>
<line x1="2956.0" y1="1719.2" x2="2956.0" y2="1722.7" stroke="#444" stroke-width="0.9" />
<text class="fd" x="2936.8" y="1734.4" font-size="14.8" textLength="38.5" lengthAdjust="spacingAndGlyphs" fill="#111">Deque</text>
<rect x="2993.9" y="1473.7" width="20.6" height="245.5" fill="#7ACC7A" stroke="#4d4d4d" stroke-width="0.9"/>
<text class="fd" x="2994.6" y="1469.5" font-size="11.5" textLength="19.2" lengthAdjust="spacingAndGlyphs" fill="#111">1.00</text>
<rect x="3014.5" y="1648.0" width="20.6" height="71.2" fill="#EE9DA8" stroke="#4d4d4d" stroke-width="0.9"/>
<text class="fd" x="3015.2" y="1643.8" font-size="11.5" textLength="19.2" lengthAdjust="spacingAndGlyphs" fill="#111">0.29</text>
<line x1="3014.5" y1="1719.2" x2="3014.5" y2="1722.7" stroke="#444" stroke-width="0.9" />
<text class="fd" x="3008.2" y="1734.4" font-size="14.8" textLength="12.5" lengthAdjust="spacingAndGlyphs" fill="#111">IO</text>
<text class="fd" x="2543.5" y="1590.6" font-size="14.5" fill="#111" text-anchor="middle" transform="rotate(-90 2543.5 1590.6)" textLength="72.0" lengthAdjust="spacingAndGlyphs">Precision</text>
<rect x="2578.9" y="1469.1" width="91.9" height="46.3" fill="#fff" stroke="#e3e3e3" stroke-width="1" rx="2.5" fill-opacity="0.85"/>
<rect x="2582.9" y="1475.1" width="23.8" height="10.8" fill="#7ACC7A" stroke="#4d4d4d" stroke-width="0.9"/>
<text class="fd" x="2616.3" y="1485.7" font-size="15.5" textLength="38.5" lengthAdjust="spacingAndGlyphs" fill="#111">Nester</text>
<rect x="2582.9" y="1496.6" width="23.8" height="10.8" fill="#EE9DA8" stroke="#4d4d4d" stroke-width="0.9"/>
<text class="fd" x="2616.3" y="1507.2" font-size="15.5" textLength="50.5" lengthAdjust="spacingAndGlyphs" fill="#111">TypeGen</text>
<rect x="3069.8" y="1130.8" width="698.0" height="248.5" fill="#fff" stroke="#000" stroke-width="1.6"/>
<rect x="3395.0" y="1131.6" width="372.0" height="247.0" fill="#F8F8FD"/>
<line x1="3394.9" y1="1130.1" x2="3394.9" y2="1380.0" stroke="#000" stroke-width="1.6" />
<rect x="3070.6" y="1131.6" width="323.5" height="34.6" fill="#D9D9D9"/>
<text class="fs" x="3199.5" y="1150.8" font-size="16" textLength="84.0" lengthAdjust="spacingAndGlyphs" fill="#111">Python Code</text>
<path d="M3080,1134.4 H3089.5 L3096.2,1141 V1157 Q3096.2,1160.4 3093,1160.4 H3079 Q3075.8,1160.4 3075.8,1157 V1137.6 Q3075.8,1134.4 3080,1134.4 Z" fill="#fff" stroke="#111" stroke-width="1.7" />
<path d="M3089.5,1134.4 V1141 H3096.2" fill="none" stroke="#111" stroke-width="1.4" />
<text class="fs" x="3078.3" y="1154.5" font-size="8.4" textLength="15.6" lengthAdjust="spacingAndGlyphs" font-weight="bold" fill="#111">&lt;/&gt;</text>
<text class="fm" x="3073.4" y="1212.0" font-size="11.65" textLength="21.0" lengthAdjust="spacingAndGlyphs" fill="#7E62C4" stroke="#7E62C4" stroke-width="0.19">def</text>
<text class="fm" x="3101.4" y="1212.0" font-size="11.65" textLength="55.9" lengthAdjust="spacingAndGlyphs" fill="#A8504E" stroke="#A8504E" stroke-width="0.19">download</text>
<text class="fm" x="3157.3" y="1212.0" font-size="11.65" textLength="7.0" lengthAdjust="spacingAndGlyphs" fill="#5DA37A" stroke="#5DA37A" stroke-width="0.19">(</text>
<text class="fm" x="3164.3" y="1212.0" font-size="11.65" textLength="90.9" lengthAdjust="spacingAndGlyphs" fill="#1a1a1a" stroke="#1a1a1a" stroke-width="0.19">req, id, name</text>
<text class="fm" x="3255.1" y="1212.0" font-size="11.65" textLength="7.0" lengthAdjust="spacingAndGlyphs" fill="#5DA37A" stroke="#5DA37A" stroke-width="0.19">)</text>
<text class="fm" x="3262.1" y="1212.0" font-size="11.65" textLength="7.0" lengthAdjust="spacingAndGlyphs" fill="#1a1a1a" stroke="#1a1a1a" stroke-width="0.19">:</text>
<text class="fm" x="3108.3" y="1227.1" font-size="11.65" textLength="181.7" lengthAdjust="spacingAndGlyphs" fill="#1a1a1a" stroke="#1a1a1a" stroke-width="0.19">redis = Redis.get_instance</text>
<text class="fm" x="3290.1" y="1227.1" font-size="11.65" textLength="14.0" lengthAdjust="spacingAndGlyphs" fill="#5DA37A" stroke="#5DA37A" stroke-width="0.19">()</text>
<text class="fm" x="3108.3" y="1242.1" font-size="11.65" textLength="104.9" lengthAdjust="spacingAndGlyphs" fill="#1a1a1a" stroke="#1a1a1a" stroke-width="0.19">val = redis.get</text>
<text class="fm" x="3213.2" y="1242.1" font-size="11.65" textLength="7.0" lengthAdjust="spacingAndGlyphs" fill="#5DA37A" stroke="#5DA37A" stroke-width="0.19">(</text>
<text class="fm" x="3220.2" y="1242.1" font-size="11.65" textLength="14.0" lengthAdjust="spacingAndGlyphs" fill="#1a1a1a" stroke="#1a1a1a" stroke-width="0.19">id</text>
<text class="fm" x="3234.2" y="1242.1" font-size="11.65" textLength="7.0" lengthAdjust="spacingAndGlyphs" fill="#5DA37A" stroke="#5DA37A" stroke-width="0.19">)</text>
<text class="fm" x="3108.3" y="1257.5" font-size="11.65" textLength="14.0" lengthAdjust="spacingAndGlyphs" fill="#4B8BD4" stroke="#4B8BD4" stroke-width="0.19">if</text>
<text class="fm" x="3129.3" y="1257.5" font-size="11.65" textLength="41.9" lengthAdjust="spacingAndGlyphs" fill="#1a1a1a" stroke="#1a1a1a" stroke-width="0.19">val is</text>
<text class="fm" x="3178.2" y="1257.5" font-size="11.65" textLength="28.0" lengthAdjust="spacingAndGlyphs" fill="#2E9BB0" stroke="#2E9BB0" stroke-width="0.19">None</text>
<text class="fm" x="3206.2" y="1257.5" font-size="11.65" textLength="7.0" lengthAdjust="spacingAndGlyphs" fill="#1a1a1a" stroke="#1a1a1a" stroke-width="0.19">:</text>
<text class="fm" x="3122.3" y="1272.9" font-size="11.65" textLength="41.9" lengthAdjust="spacingAndGlyphs" fill="#4B8BD4" stroke="#4B8BD4" stroke-width="0.19">return</text>
<text class="fm" x="3171.3" y="1272.9" font-size="11.65" textLength="139.8" lengthAdjust="spacingAndGlyphs" fill="#E07A6A" stroke="#E07A6A" stroke-width="0.19">HttpResponseNotFound</text>
<text class="fm" x="3311.1" y="1272.9" font-size="11.65" textLength="7.0" lengthAdjust="spacingAndGlyphs" fill="#5DA37A" stroke="#5DA37A" stroke-width="0.19">(</text>
<text class="fm" x="3318.1" y="1272.9" font-size="11.65" textLength="62.9" lengthAdjust="spacingAndGlyphs" fill="#1a1a1a" stroke="#1a1a1a" stroke-width="0.19">f'Content</text>
<text class="fm" x="3073.4" y="1288.0" font-size="11.65" textLength="251.6" lengthAdjust="spacingAndGlyphs" fill="#1a1a1a" stroke="#1a1a1a" stroke-width="0.19">of id {id[:24]} not found. Expired?'</text>
<text class="fm" x="3325.0" y="1288.0" font-size="11.65" textLength="7.0" lengthAdjust="spacingAndGlyphs" fill="#5DA37A" stroke="#5DA37A" stroke-width="0.19">)</text>
<text class="fm" x="3108.3" y="1303.0" font-size="11.65" textLength="35.0" lengthAdjust="spacingAndGlyphs" fill="#1a1a1a" stroke="#1a1a1a" stroke-width="0.19">res =</text>
<text class="fm" x="3150.3" y="1303.0" font-size="11.65" textLength="83.9" lengthAdjust="spacingAndGlyphs" fill="#E07A6A" stroke="#E07A6A" stroke-width="0.19">HttpResponse</text>
<text class="fm" x="3234.2" y="1303.0" font-size="11.65" textLength="7.0" lengthAdjust="spacingAndGlyphs" fill="#5DA37A" stroke="#5DA37A" stroke-width="0.19">(</text>
<text class="fm" x="3241.2" y="1303.0" font-size="11.65" textLength="132.8" lengthAdjust="spacingAndGlyphs" fill="#1a1a1a" stroke="#1a1a1a" stroke-width="0.19">val.decode('utf-8')</text>
<text class="fm" x="3374.0" y="1303.0" font-size="11.65" textLength="7.0" lengthAdjust="spacingAndGlyphs" fill="#5DA37A" stroke="#5DA37A" stroke-width="0.19">)</text>
<text class="fm" x="3108.3" y="1318.1" font-size="11.65" textLength="230.7" lengthAdjust="spacingAndGlyphs" fill="#1a1a1a" stroke="#1a1a1a" stroke-width="0.19">res['Referrer-Policy'] = 'origin'</text>
<text class="fm" x="3108.3" y="1333.1" font-size="11.65" textLength="41.9" lengthAdjust="spacingAndGlyphs" fill="#4B8BD4" stroke="#4B8BD4" stroke-width="0.19">return</text>
<text class="fm" x="3157.3" y="1333.1" font-size="11.65" textLength="21.0" lengthAdjust="spacingAndGlyphs" fill="#1a1a1a" stroke="#1a1a1a" stroke-width="0.19">res</text>
<rect x="3672.9" y="1131.1" width="95.3" height="24.7" fill="#F4999C"/>
<text class="fs" x="3684.2" y="1149.5" font-size="15" textLength="72.3" lengthAdjust="spacingAndGlyphs" fill="#fff" font-style="italic">Case Study</text>
<rect x="3413.9" y="1152.5" width="192.1" height="44.5" fill="#fff" stroke="#F2ABAE" stroke-width="1.2" rx="5"/>
<path d="M3413.9,1170.2 V1156 Q3413.9,1152.5 3417.4,1152.5 H3602.5 Q3606,1152.5 3606,1156 V1170.2 Z" fill="#F2ABAE" />
<text class="fs" x="3510.0" y="1166.9" font-size="15" fill="#fff" text-anchor="middle" textLength="58" lengthAdjust="spacingAndGlyphs">TypeGen</text>
<text class="fs" x="3424.6" y="1186.3" font-size="15.5" textLength="160.0" lengthAdjust="spacingAndGlyphs" fill="#111">HttpResponseNotFound</text>
<path d="M3588.5,1173.5 L3600,1185 M3600,1173.5 L3588.5,1185" fill="none" stroke="#EC6B5E" stroke-width="2.4" />
<line x1="3396.0" y1="1211.4" x2="3767.5" y2="1211.4" stroke="#777" stroke-width="1.2" stroke-dasharray="5 3"/>
<line x1="3547.4" y1="1273.9" x2="3572.5" y2="1223.5" stroke="#7CC5C0" stroke-width="1.2" />
<line x1="3547.4" y1="1317.4" x2="3572.5" y2="1367.5" stroke="#7CC5C0" stroke-width="1.2" />
<rect x="3422.3" y="1273.9" width="125.1" height="43.5" fill="#fff" stroke="#7CC5C0" stroke-width="1.2" rx="5"/>
<rect x="3422.3" y="1273.9" width="125.1" height="16.7" fill="#7CC5C0"/>
<text class="fs" x="3482.2" y="1287.3" font-size="15" fill="#fff" text-anchor="middle" textLength="44" lengthAdjust="spacingAndGlyphs">Nester</text>
<text class="fs" x="3429.0" y="1306.7" font-size="15.5" textLength="92.7" lengthAdjust="spacingAndGlyphs" fill="#111">HttpResponse</text>
<path d="M3526.5,1303 L3529,1300.8 L3532.5,1305 Q3537,1298.5 3542,1295.5 Q3537,1302 3533.5,1309.5 Z" fill="#7CC5C0" />
<rect x="3572.5" y="1221.4" width="193.4" height="148.5" fill="#F3F3F3" stroke="#333" stroke-width="1.5"/>
<circle cx="3582.0" cy="1231.5" r="1.7" fill="#E8B83A" />
<text class="fm" x="3591.9" y="1233.8" font-size="6.6" textLength="71.4" lengthAdjust="spacingAndGlyphs" fill="#666">Recommended type</text>
<text class="fs" x="3759.0" y="1234.5" font-size="8.58" fill="#444">×</text>
<text class="fs" x="3576.9" y="1254.9" font-size="6.6" fill="#E8B83A">✨</text>
<text class="fs" x="3585.5" y="1254.9" font-size="7.128" textLength="68.5" lengthAdjust="spacingAndGlyphs" font-weight="bold" fill="#111">Expert suggestion</text>
<text class="fs" x="3654.5" y="1254.9" font-size="7.128" textLength="21.5" lengthAdjust="spacingAndGlyphs" fill="#444">: Use</text>
<rect x="3680.0" y="1248.0" width="58.0" height="9.5" fill="#E6E6E6"/>
<text class="fm" x="3682.0" y="1254.9" font-size="6.6" textLength="54.0" lengthAdjust="spacingAndGlyphs" fill="#333">HttpResponse</text>
<text class="fs" x="3742.0" y="1254.9" font-size="7.128" fill="#444">as</text>
<text class="fs" x="3576.9" y="1266.6" font-size="7.128" textLength="39.1" lengthAdjust="spacingAndGlyphs" fill="#444">return type</text>
<text class="fs" x="3576.9" y="1288.3" font-size="9.239999999999998" textLength="102.1" lengthAdjust="spacingAndGlyphs" font-weight="bold" fill="#111">Type inference process</text>
<text class="fm" x="3576.9" y="1308.0" font-size="6.6" textLength="71.4" lengthAdjust="spacingAndGlyphs" fill="#222" stroke="#222" stroke-width="0.11">if_analysis(val,</text>
<text class="fm" x="3652.8" y="1308.0" font-size="6.6" textLength="17.9" lengthAdjust="spacingAndGlyphs" fill="#2A2AE0" stroke="#2A2AE0" stroke-width="0.11">None</text>
<text class="fm" x="3670.6" y="1308.0" font-size="6.6" textLength="22.3" lengthAdjust="spacingAndGlyphs" fill="#222" stroke="#222" stroke-width="0.11">, =):</text>
<text class="fm" x="3594.8" y="1319.1" font-size="6.6" textLength="160.7" lengthAdjust="spacingAndGlyphs" fill="#222" stroke="#222" stroke-width="0.11">T1 = return_analysis(HttpResponseNot</text>
<text class="fm" x="3576.9" y="1330.1" font-size="6.6" textLength="26.8" lengthAdjust="spacingAndGlyphs" fill="#222" stroke="#222" stroke-width="0.11">Found(</text>
<text class="fm" x="3603.7" y="1330.1" font-size="6.6" textLength="62.5" lengthAdjust="spacingAndGlyphs" fill="#C8302C" stroke="#C8302C" stroke-width="0.11">'Content of id</text>
<text class="fm" x="3670.6" y="1330.1" font-size="6.6" textLength="40.2" lengthAdjust="spacingAndGlyphs" fill="#2A2AE0" stroke="#2A2AE0" stroke-width="0.11">{id[:24]}</text>
<text class="fm" x="3715.3" y="1330.1" font-size="6.6" textLength="44.6" lengthAdjust="spacingAndGlyphs" fill="#C8302C" stroke="#C8302C" stroke-width="0.11">not found.</text>
<text class="fm" x="3576.9" y="1340.8" font-size="6.6" textLength="40.2" lengthAdjust="spacingAndGlyphs" fill="#C8302C" stroke="#C8302C" stroke-width="0.11">Expired?'</text>
<text class="fm" x="3617.1" y="1340.8" font-size="6.6" textLength="8.9" lengthAdjust="spacingAndGlyphs" fill="#222" stroke="#222" stroke-width="0.11">))</text>
<text class="fm" x="3576.9" y="1351.9" font-size="6.6" textLength="8.9" lengthAdjust="spacingAndGlyphs" fill="#2A2AE0" stroke="#2A2AE0" stroke-width="0.11">T2</text>
<text class="fm" x="3590.3" y="1351.9" font-size="6.6" textLength="98.2" lengthAdjust="spacingAndGlyphs" fill="#222" stroke="#222" stroke-width="0.11">= return_analysis(res)</text>
<text class="fm" x="3576.9" y="1362.6" font-size="6.6" textLength="62.5" lengthAdjust="spacingAndGlyphs" fill="#222" stroke="#222" stroke-width="0.11">combine(T1,T2)</text>
<rect x="3068.4" y="1390.0" width="325.5" height="85.3" fill="#fff"/>
<rect x="3068.4" y="1390.0" width="16.7" height="85.3" fill="#F0F0F0"/>
<line x1="3113.8" y1="1398.5" x2="3113.8" y2="1475.3" stroke="#d8d8d8" stroke-width="0.7" />
<line x1="3113.8" y1="1392.0" x2="3393.9" y2="1392.0" stroke="#ececec" stroke-width="0.7" />
<text class="fm" x="3096.1" y="1396.7" font-size="5.6" textLength="6.8" lengthAdjust="spacingAndGlyphs" fill="#4E78A8">64</text>
<text class="fm" x="3114.2" y="1396.7" font-size="5.6" textLength="9.8" lengthAdjust="spacingAndGlyphs" fill="#4B8BD4" stroke="#4B8BD4" stroke-width="0.09">def</text>
<text class="fm" x="3127.2" y="1396.7" font-size="5.6" textLength="26.0" lengthAdjust="spacingAndGlyphs" fill="#8A7B2E" stroke="#8A7B2E" stroke-width="0.09">download</text>
<text class="fm" x="3153.2" y="1396.7" font-size="5.6" textLength="61.8" lengthAdjust="spacingAndGlyphs" fill="#333" stroke="#333" stroke-width="0.09">(req, id, name) -&gt;:</text>
<text class="fm" x="3096.1" y="1405.1" font-size="5.6" textLength="6.8" lengthAdjust="spacingAndGlyphs" fill="#4E78A8">65</text>
<text class="fm" x="3096.1" y="1413.4" font-size="5.6" textLength="6.8" lengthAdjust="spacingAndGlyphs" fill="#4E78A8">66</text>
<text class="fm" x="3127.2" y="1413.4" font-size="5.6" textLength="84.5" lengthAdjust="spacingAndGlyphs" fill="#333" stroke="#333" stroke-width="0.09">redis = Redis.get_instance</text>
<text class="fm" x="3211.7" y="1413.4" font-size="5.6" textLength="6.5" lengthAdjust="spacingAndGlyphs" fill="#5DA37A" stroke="#5DA37A" stroke-width="0.09">()</text>
<text class="fm" x="3096.1" y="1421.8" font-size="5.6" textLength="6.8" lengthAdjust="spacingAndGlyphs" fill="#4E78A8">67</text>
<text class="fm" x="3127.2" y="1421.8" font-size="5.6" textLength="48.8" lengthAdjust="spacingAndGlyphs" fill="#333" stroke="#333" stroke-width="0.09">val = redis.get</text>
<text class="fm" x="3176.0" y="1421.8" font-size="5.6" textLength="13.0" lengthAdjust="spacingAndGlyphs" fill="#5DA37A" stroke="#5DA37A" stroke-width="0.09">(id)</text>
<text class="fm" x="3096.1" y="1430.1" font-size="5.6" textLength="6.8" lengthAdjust="spacingAndGlyphs" fill="#4E78A8">68</text>
<text class="fm" x="3127.2" y="1430.1" font-size="5.6" textLength="6.5" lengthAdjust="spacingAndGlyphs" fill="#4B8BD4" stroke="#4B8BD4" stroke-width="0.09">if</text>
<text class="fm" x="3137.0" y="1430.1" font-size="5.6" textLength="9.8" lengthAdjust="spacingAndGlyphs" fill="#333" stroke="#333" stroke-width="0.09">val</text>
<text class="fm" x="3150.0" y="1430.1" font-size="5.6" textLength="22.8" lengthAdjust="spacingAndGlyphs" fill="#4B8BD4" stroke="#4B8BD4" stroke-width="0.09">is None</text>
<text class="fm" x="3172.7" y="1430.1" font-size="5.6" textLength="3.2" lengthAdjust="spacingAndGlyphs" fill="#333" stroke="#333" stroke-width="0.09">:</text>
<text class="fm" x="3096.1" y="1438.5" font-size="5.6" textLength="6.8" lengthAdjust="spacingAndGlyphs" fill="#4E78A8">69</text>
<text class="fm" x="3140.2" y="1438.5" font-size="5.6" textLength="19.5" lengthAdjust="spacingAndGlyphs" fill="#B0476B" stroke="#B0476B" stroke-width="0.09">return</text>
<text class="fm" x="3163.0" y="1438.5" font-size="5.6" textLength="65.0" lengthAdjust="spacingAndGlyphs" fill="#333" stroke="#333" stroke-width="0.09">HttpResponseNotFound</text>
<text class="fm" x="3228.0" y="1438.5" font-size="5.6" textLength="32.5" lengthAdjust="spacingAndGlyphs" fill="#A03030" stroke="#A03030" stroke-width="0.09">(f'Content</text>
<text class="fm" x="3096.1" y="1446.9" font-size="5.6" textLength="6.8" lengthAdjust="spacingAndGlyphs" fill="#4E78A8">70</text>
<text class="fm" x="3140.2" y="1446.9" font-size="5.6" textLength="120.2" lengthAdjust="spacingAndGlyphs" fill="#A03030" stroke="#A03030" stroke-width="0.09">of id {id[:24]} not found. Expired?')</text>
<text class="fm" x="3096.1" y="1455.2" font-size="5.6" textLength="6.8" lengthAdjust="spacingAndGlyphs" fill="#4E78A8">71</text>
<text class="fm" x="3127.2" y="1455.2" font-size="5.6" textLength="97.5" lengthAdjust="spacingAndGlyphs" fill="#333" stroke="#333" stroke-width="0.09">res = HttpResponse(val.decode(</text>
<text class="fm" x="3224.7" y="1455.2" font-size="5.6" textLength="22.8" lengthAdjust="spacingAndGlyphs" fill="#A03030" stroke="#A03030" stroke-width="0.09">'utf-8'</text>
<text class="fm" x="3247.5" y="1455.2" font-size="5.6" textLength="6.5" lengthAdjust="spacingAndGlyphs" fill="#333" stroke="#333" stroke-width="0.09">))</text>
<text class="fm" x="3096.1" y="1463.6" font-size="5.6" textLength="6.8" lengthAdjust="spacingAndGlyphs" fill="#4E78A8">72</text>
<text class="fm" x="3127.2" y="1463.6" font-size="5.6" textLength="13.0" lengthAdjust="spacingAndGlyphs" fill="#333" stroke="#333" stroke-width="0.09">res[</text>
<text class="fm" x="3140.2" y="1463.6" font-size="5.6" textLength="55.2" lengthAdjust="spacingAndGlyphs" fill="#A03030" stroke="#A03030" stroke-width="0.09">'Referrer-Policy'</text>
<text class="fm" x="3195.5" y="1463.6" font-size="5.6" textLength="9.8" lengthAdjust="spacingAndGlyphs" fill="#333" stroke="#333" stroke-width="0.09">] =</text>
<text class="fm" x="3208.5" y="1463.6" font-size="5.6" textLength="26.0" lengthAdjust="spacingAndGlyphs" fill="#A03030" stroke="#A03030" stroke-width="0.09">'origin'</text>
<text class="fm" x="3096.1" y="1471.9" font-size="5.6" textLength="6.8" lengthAdjust="spacingAndGlyphs" fill="#4E78A8">73</text>
<text class="fm" x="3127.2" y="1471.9" font-size="5.6" textLength="19.5" lengthAdjust="spacingAndGlyphs" fill="#B0476B" stroke="#B0476B" stroke-width="0.09">return</text>
<text class="fm" x="3150.0" y="1471.9" font-size="5.6" textLength="9.8" lengthAdjust="spacingAndGlyphs" fill="#333" stroke="#333" stroke-width="0.09">res</text>
<rect x="3211.5" y="1398.4" width="180.7" height="43.5" fill="#F3F3F3" stroke="#dcdcdc" stroke-width="0.7"/>
<rect x="3211.5" y="1399.1" width="180.7" height="8.4" fill="#0A5FC5" stroke="#E02020" stroke-width="1.3"/>
<text class="fm" x="3213.0" y="1405.4" font-size="4.8" textLength="6.0" lengthAdjust="spacingAndGlyphs" fill="#fff">‹T›</text>
<text class="fm" x="3220.7" y="1405.4" font-size="5.6" textLength="39.0" lengthAdjust="spacingAndGlyphs" font-weight="bold" fill="#fff">HttpResponse</text>
<text class="fm" x="3213.0" y="1413.8" font-size="4.8" textLength="6.0" lengthAdjust="spacingAndGlyphs" fill="#777">‹T›</text>
<text class="fm" x="3220.7" y="1413.8" font-size="5.6" textLength="65.0" lengthAdjust="spacingAndGlyphs" fill="#333">HttpResponseNotFound</text>
<text class="fm" x="3213.0" y="1422.1" font-size="4.8" textLength="6.0" lengthAdjust="spacingAndGlyphs" fill="#777">‹T›</text>
<text class="fm" x="3220.7" y="1422.1" font-size="5.6" textLength="9.8" lengthAdjust="spacingAndGlyphs" fill="#333">str</text>
<text class="fm" x="3213.0" y="1430.5" font-size="4.8" textLength="6.0" lengthAdjust="spacingAndGlyphs" fill="#777">‹T›</text>
<text class="fm" x="3220.7" y="1430.5" font-size="5.6" textLength="42.2" lengthAdjust="spacingAndGlyphs" fill="#333">Optional[str]</text>
<text class="fm" x="3213.0" y="1438.8" font-size="4.8" textLength="6.0" lengthAdjust="spacingAndGlyphs" fill="#777">‹T›</text>
<text class="fm" x="3220.7" y="1438.8" font-size="5.6" textLength="16.2" lengthAdjust="spacingAndGlyphs" fill="#333">bytes</text>
<circle cx="3337.7" cy="1403.0" r="1.4" fill="#F2C94C" />
<text class="fm" x="3343.7" y="1405.4" font-size="4.8" textLength="42.0" lengthAdjust="spacingAndGlyphs" fill="#cfe0ff">Recommended t…›</text>
<text class="fs" x="3303.5" y="1422.2" font-size="10.5" textLength="24.8" lengthAdjust="spacingAndGlyphs" fill="#E0302A">select</text>
<polygon points="3397.2,1417.6 3409.8,1417.6 3409.8,1408.4 3426.3,1427.7 3409.8,1446.9 3409.8,1437.7 3397.2,1437.7" fill="#dedede" stroke="#b3b3b3" stroke-width="1"/>
<text class="fs" x="3401.2" y="1459.6" font-size="10.5" textLength="24.1" lengthAdjust="spacingAndGlyphs" fill="#111">select</text>
<rect x="3437.0" y="1390.0" width="327.2" height="85.3" fill="#fff"/>
<rect x="3437.0" y="1390.0" width="16.7" height="85.3" fill="#F0F0F0"/>
<line x1="3482.4" y1="1398.5" x2="3482.4" y2="1475.3" stroke="#d8d8d8" stroke-width="0.7" />
<line x1="3482.4" y1="1392.0" x2="3764.2" y2="1392.0" stroke="#ececec" stroke-width="0.7" />
<text class="fm" x="3464.7" y="1396.7" font-size="5.6" textLength="6.8" lengthAdjust="spacingAndGlyphs" fill="#4E78A8">64</text>
<text class="fm" x="3482.8" y="1396.7" font-size="5.6" textLength="9.8" lengthAdjust="spacingAndGlyphs" fill="#4B8BD4" stroke="#4B8BD4" stroke-width="0.09">def</text>
<text class="fm" x="3495.8" y="1396.7" font-size="5.6" textLength="26.0" lengthAdjust="spacingAndGlyphs" fill="#8A7B2E" stroke="#8A7B2E" stroke-width="0.09">download</text>
<text class="fm" x="3521.8" y="1396.7" font-size="5.6" textLength="55.2" lengthAdjust="spacingAndGlyphs" fill="#333" stroke="#333" stroke-width="0.09">(req, id, name) -</text>
<text class="fm" x="3464.7" y="1405.1" font-size="5.6" textLength="6.8" lengthAdjust="spacingAndGlyphs" fill="#4E78A8">65</text>
<text class="fm" x="3464.7" y="1413.4" font-size="5.6" textLength="6.8" lengthAdjust="spacingAndGlyphs" fill="#4E78A8">66</text>
<text class="fm" x="3495.8" y="1413.4" font-size="5.6" textLength="84.5" lengthAdjust="spacingAndGlyphs" fill="#333" stroke="#333" stroke-width="0.09">redis = Redis.get_instance</text>
<text class="fm" x="3580.3" y="1413.4" font-size="5.6" textLength="6.5" lengthAdjust="spacingAndGlyphs" fill="#5DA37A" stroke="#5DA37A" stroke-width="0.09">()</text>
<text class="fm" x="3464.7" y="1421.8" font-size="5.6" textLength="6.8" lengthAdjust="spacingAndGlyphs" fill="#4E78A8">67</text>
<text class="fm" x="3495.8" y="1421.8" font-size="5.6" textLength="48.8" lengthAdjust="spacingAndGlyphs" fill="#333" stroke="#333" stroke-width="0.09">val = redis.get</text>
<text class="fm" x="3544.6" y="1421.8" font-size="5.6" textLength="13.0" lengthAdjust="spacingAndGlyphs" fill="#5DA37A" stroke="#5DA37A" stroke-width="0.09">(id)</text>
<text class="fm" x="3464.7" y="1430.1" font-size="5.6" textLength="6.8" lengthAdjust="spacingAndGlyphs" fill="#4E78A8">68</text>
<text class="fm" x="3495.8" y="1430.1" font-size="5.6" textLength="6.5" lengthAdjust="spacingAndGlyphs" fill="#4B8BD4" stroke="#4B8BD4" stroke-width="0.09">if</text>
<text class="fm" x="3505.6" y="1430.1" font-size="5.6" textLength="9.8" lengthAdjust="spacingAndGlyphs" fill="#333" stroke="#333" stroke-width="0.09">val</text>
<text class="fm" x="3518.6" y="1430.1" font-size="5.6" textLength="22.8" lengthAdjust="spacingAndGlyphs" fill="#4B8BD4" stroke="#4B8BD4" stroke-width="0.09">is None</text>
<text class="fm" x="3541.3" y="1430.1" font-size="5.6" textLength="3.2" lengthAdjust="spacingAndGlyphs" fill="#333" stroke="#333" stroke-width="0.09">:</text>
<text class="fm" x="3464.7" y="1438.5" font-size="5.6" textLength="6.8" lengthAdjust="spacingAndGlyphs" fill="#4E78A8">69</text>
<text class="fm" x="3508.8" y="1438.5" font-size="5.6" textLength="19.5" lengthAdjust="spacingAndGlyphs" fill="#B0476B" stroke="#B0476B" stroke-width="0.09">return</text>
<text class="fm" x="3531.6" y="1438.5" font-size="5.6" textLength="65.0" lengthAdjust="spacingAndGlyphs" fill="#333" stroke="#333" stroke-width="0.09">HttpResponseNotFound</text>
<text class="fm" x="3596.6" y="1438.5" font-size="5.6" textLength="32.5" lengthAdjust="spacingAndGlyphs" fill="#A03030" stroke="#A03030" stroke-width="0.09">(f'Content</text>
<text class="fm" x="3464.7" y="1446.9" font-size="5.6" textLength="6.8" lengthAdjust="spacingAndGlyphs" fill="#4E78A8">70</text>
<text class="fm" x="3508.8" y="1446.9" font-size="5.6" textLength="120.2" lengthAdjust="spacingAndGlyphs" fill="#A03030" stroke="#A03030" stroke-width="0.09">of id {id[:24]} not found. Expired?')</text>
<text class="fm" x="3464.7" y="1455.2" font-size="5.6" textLength="6.8" lengthAdjust="spacingAndGlyphs" fill="#4E78A8">71</text>
<text class="fm" x="3495.8" y="1455.2" font-size="5.6" textLength="97.5" lengthAdjust="spacingAndGlyphs" fill="#333" stroke="#333" stroke-width="0.09">res = HttpResponse(val.decode(</text>
<text class="fm" x="3593.3" y="1455.2" font-size="5.6" textLength="22.8" lengthAdjust="spacingAndGlyphs" fill="#A03030" stroke="#A03030" stroke-width="0.09">'utf-8'</text>
<text class="fm" x="3616.1" y="1455.2" font-size="5.6" textLength="6.5" lengthAdjust="spacingAndGlyphs" fill="#333" stroke="#333" stroke-width="0.09">))</text>
<text class="fm" x="3464.7" y="1463.6" font-size="5.6" textLength="6.8" lengthAdjust="spacingAndGlyphs" fill="#4E78A8">72</text>
<text class="fm" x="3495.8" y="1463.6" font-size="5.6" textLength="13.0" lengthAdjust="spacingAndGlyphs" fill="#333" stroke="#333" stroke-width="0.09">res[</text>
<text class="fm" x="3508.8" y="1463.6" font-size="5.6" textLength="55.2" lengthAdjust="spacingAndGlyphs" fill="#A03030" stroke="#A03030" stroke-width="0.09">'Referrer-Policy'</text>
<text class="fm" x="3564.1" y="1463.6" font-size="5.6" textLength="9.8" lengthAdjust="spacingAndGlyphs" fill="#333" stroke="#333" stroke-width="0.09">] =</text>
<text class="fm" x="3577.1" y="1463.6" font-size="5.6" textLength="26.0" lengthAdjust="spacingAndGlyphs" fill="#A03030" stroke="#A03030" stroke-width="0.09">'origin'</text>
<text class="fm" x="3464.7" y="1471.9" font-size="5.6" textLength="6.8" lengthAdjust="spacingAndGlyphs" fill="#4E78A8">73</text>
<text class="fm" x="3495.8" y="1471.9" font-size="5.6" textLength="19.5" lengthAdjust="spacingAndGlyphs" fill="#B0476B" stroke="#B0476B" stroke-width="0.09">return</text>
<text class="fm" x="3518.6" y="1471.9" font-size="5.6" textLength="9.8" lengthAdjust="spacingAndGlyphs" fill="#333" stroke="#333" stroke-width="0.09">res</text>
<rect x="3578.5" y="1390.7" width="40.9" height="8.7" fill="#fff" stroke="#E0302A" stroke-width="1.2"/>
<text class="fm" x="3580.2" y="1397.2" font-size="5.6" textLength="37.5" lengthAdjust="spacingAndGlyphs" fill="#222">HttpResponse</text>
<line x1="3653.8" y1="1410.1" x2="3631.7" y2="1402.4" stroke="#E0302A" stroke-width="0.9" />
<polygon points="3627.0,1400.7 3633.3,1401.0 3632.1,1404.4" fill="#E0302A"/>
<text class="fs" x="3658.2" y="1424.2" font-size="10.5" textLength="86.3" lengthAdjust="spacingAndGlyphs" fill="#E0302A">Recommended type</text>
<rect x="3068.4" y="1506.5" width="325.5" height="84.9" fill="#fff"/>
<rect x="3068.4" y="1506.5" width="16.7" height="84.9" fill="#F0F0F0"/>
<line x1="3113.8" y1="1515.0" x2="3113.8" y2="1591.4" stroke="#d8d8d8" stroke-width="0.7" />
<line x1="3113.8" y1="1508.5" x2="3393.9" y2="1508.5" stroke="#ececec" stroke-width="0.7" />
<text class="fm" x="3096.1" y="1513.2" font-size="5.6" textLength="6.8" lengthAdjust="spacingAndGlyphs" fill="#4E78A8">64</text>
<text class="fm" x="3114.2" y="1513.2" font-size="5.6" textLength="9.8" lengthAdjust="spacingAndGlyphs" fill="#4B8BD4" stroke="#4B8BD4" stroke-width="0.09">def</text>
<text class="fm" x="3127.2" y="1513.2" font-size="5.6" textLength="26.0" lengthAdjust="spacingAndGlyphs" fill="#8A7B2E" stroke="#8A7B2E" stroke-width="0.09">download</text>
<text class="fm" x="3153.2" y="1513.2" font-size="5.6" textLength="61.8" lengthAdjust="spacingAndGlyphs" fill="#333" stroke="#333" stroke-width="0.09">(req, id, name) -&gt;:</text>
<text class="fm" x="3096.1" y="1521.6" font-size="5.6" textLength="6.8" lengthAdjust="spacingAndGlyphs" fill="#4E78A8">65</text>
<text class="fm" x="3096.1" y="1529.9" font-size="5.6" textLength="6.8" lengthAdjust="spacingAndGlyphs" fill="#4E78A8">66</text>
<text class="fm" x="3127.2" y="1529.9" font-size="5.6" textLength="84.5" lengthAdjust="spacingAndGlyphs" fill="#333" stroke="#333" stroke-width="0.09">redis = Redis.get_instance</text>
<text class="fm" x="3211.7" y="1529.9" font-size="5.6" textLength="6.5" lengthAdjust="spacingAndGlyphs" fill="#5DA37A" stroke="#5DA37A" stroke-width="0.09">()</text>
<text class="fm" x="3096.1" y="1538.3" font-size="5.6" textLength="6.8" lengthAdjust="spacingAndGlyphs" fill="#4E78A8">67</text>
<text class="fm" x="3127.2" y="1538.3" font-size="5.6" textLength="48.8" lengthAdjust="spacingAndGlyphs" fill="#333" stroke="#333" stroke-width="0.09">val = redis.get</text>
<text class="fm" x="3176.0" y="1538.3" font-size="5.6" textLength="13.0" lengthAdjust="spacingAndGlyphs" fill="#5DA37A" stroke="#5DA37A" stroke-width="0.09">(id)</text>
<text class="fm" x="3096.1" y="1546.6" font-size="5.6" textLength="6.8" lengthAdjust="spacingAndGlyphs" fill="#4E78A8">68</text>
<text class="fm" x="3127.2" y="1546.6" font-size="5.6" textLength="6.5" lengthAdjust="spacingAndGlyphs" fill="#4B8BD4" stroke="#4B8BD4" stroke-width="0.09">if</text>
<text class="fm" x="3137.0" y="1546.6" font-size="5.6" textLength="9.8" lengthAdjust="spacingAndGlyphs" fill="#333" stroke="#333" stroke-width="0.09">val</text>
<text class="fm" x="3150.0" y="1546.6" font-size="5.6" textLength="22.8" lengthAdjust="spacingAndGlyphs" fill="#4B8BD4" stroke="#4B8BD4" stroke-width="0.09">is None</text>
<text class="fm" x="3172.7" y="1546.6" font-size="5.6" textLength="3.2" lengthAdjust="spacingAndGlyphs" fill="#333" stroke="#333" stroke-width="0.09">:</text>
<text class="fm" x="3096.1" y="1555.0" font-size="5.6" textLength="6.8" lengthAdjust="spacingAndGlyphs" fill="#4E78A8">69</text>
<text class="fm" x="3140.2" y="1555.0" font-size="5.6" textLength="19.5" lengthAdjust="spacingAndGlyphs" fill="#B0476B" stroke="#B0476B" stroke-width="0.09">return</text>
<text class="fm" x="3163.0" y="1555.0" font-size="5.6" textLength="65.0" lengthAdjust="spacingAndGlyphs" fill="#333" stroke="#333" stroke-width="0.09">HttpResponseNotFound</text>
<text class="fm" x="3228.0" y="1555.0" font-size="5.6" textLength="32.5" lengthAdjust="spacingAndGlyphs" fill="#A03030" stroke="#A03030" stroke-width="0.09">(f'Content</text>
<text class="fm" x="3096.1" y="1563.4" font-size="5.6" textLength="6.8" lengthAdjust="spacingAndGlyphs" fill="#4E78A8">70</text>
<text class="fm" x="3140.2" y="1563.4" font-size="5.6" textLength="120.2" lengthAdjust="spacingAndGlyphs" fill="#A03030" stroke="#A03030" stroke-width="0.09">of id {id[:24]} not found. Expired?')</text>
<text class="fm" x="3096.1" y="1571.7" font-size="5.6" textLength="6.8" lengthAdjust="spacingAndGlyphs" fill="#4E78A8">71</text>
<text class="fm" x="3127.2" y="1571.7" font-size="5.6" textLength="97.5" lengthAdjust="spacingAndGlyphs" fill="#333" stroke="#333" stroke-width="0.09">res = HttpResponse(val.decode(</text>
<text class="fm" x="3224.7" y="1571.7" font-size="5.6" textLength="22.8" lengthAdjust="spacingAndGlyphs" fill="#A03030" stroke="#A03030" stroke-width="0.09">'utf-8'</text>
<text class="fm" x="3247.5" y="1571.7" font-size="5.6" textLength="6.5" lengthAdjust="spacingAndGlyphs" fill="#333" stroke="#333" stroke-width="0.09">))</text>
<text class="fm" x="3096.1" y="1580.1" font-size="5.6" textLength="6.8" lengthAdjust="spacingAndGlyphs" fill="#4E78A8">72</text>
<text class="fm" x="3127.2" y="1580.1" font-size="5.6" textLength="13.0" lengthAdjust="spacingAndGlyphs" fill="#333" stroke="#333" stroke-width="0.09">res[</text>
<text class="fm" x="3140.2" y="1580.1" font-size="5.6" textLength="55.2" lengthAdjust="spacingAndGlyphs" fill="#A03030" stroke="#A03030" stroke-width="0.09">'Referrer-Policy'</text>
<text class="fm" x="3195.5" y="1580.1" font-size="5.6" textLength="9.8" lengthAdjust="spacingAndGlyphs" fill="#333" stroke="#333" stroke-width="0.09">] =</text>
<text class="fm" x="3208.5" y="1580.1" font-size="5.6" textLength="26.0" lengthAdjust="spacingAndGlyphs" fill="#A03030" stroke="#A03030" stroke-width="0.09">'origin'</text>
<text class="fm" x="3096.1" y="1588.4" font-size="5.6" textLength="6.8" lengthAdjust="spacingAndGlyphs" fill="#4E78A8">73</text>
<text class="fm" x="3127.2" y="1588.4" font-size="5.6" textLength="19.5" lengthAdjust="spacingAndGlyphs" fill="#B0476B" stroke="#B0476B" stroke-width="0.09">return</text>
<text class="fm" x="3150.0" y="1588.4" font-size="5.6" textLength="9.8" lengthAdjust="spacingAndGlyphs" fill="#333" stroke="#333" stroke-width="0.09">res</text>
<rect x="3211.5" y="1514.8" width="180.7" height="43.5" fill="#F3F3F3" stroke="#dcdcdc" stroke-width="0.7"/>
<rect x="3211.5" y="1515.5" width="180.7" height="8.4" fill="#0A5FC5"/>
<text class="fm" x="3213.0" y="1521.8" font-size="4.8" textLength="6.0" lengthAdjust="spacingAndGlyphs" fill="#fff">‹T›</text>
<text class="fm" x="3220.7" y="1521.8" font-size="5.6" textLength="39.0" lengthAdjust="spacingAndGlyphs" font-weight="bold" fill="#fff">HttpResponse</text>
<text class="fm" x="3213.0" y="1530.2" font-size="4.8" textLength="6.0" lengthAdjust="spacingAndGlyphs" fill="#777">‹T›</text>
<text class="fm" x="3220.7" y="1530.2" font-size="5.6" textLength="65.0" lengthAdjust="spacingAndGlyphs" fill="#333">HttpResponseNotFound</text>
<text class="fm" x="3213.0" y="1538.5" font-size="4.8" textLength="6.0" lengthAdjust="spacingAndGlyphs" fill="#777">‹T›</text>
<text class="fm" x="3220.7" y="1538.5" font-size="5.6" textLength="9.8" lengthAdjust="spacingAndGlyphs" fill="#333">str</text>
<text class="fm" x="3213.0" y="1546.9" font-size="4.8" textLength="6.0" lengthAdjust="spacingAndGlyphs" fill="#777">‹T›</text>
<text class="fm" x="3220.7" y="1546.9" font-size="5.6" textLength="42.2" lengthAdjust="spacingAndGlyphs" fill="#333">Optional[str]</text>
<text class="fm" x="3213.0" y="1555.2" font-size="4.8" textLength="6.0" lengthAdjust="spacingAndGlyphs" fill="#777">‹T›</text>
<text class="fm" x="3220.7" y="1555.2" font-size="5.6" textLength="16.2" lengthAdjust="spacingAndGlyphs" fill="#333">bytes</text>
<circle cx="3337.7" cy="1519.4" r="1.4" fill="#F2C94C" />
<text class="fm" x="3343.7" y="1521.8" font-size="4.8" textLength="42.0" lengthAdjust="spacingAndGlyphs" fill="#cfe0ff">Recommended t…›</text>
<text class="fs" x="3346.0" y="1537.9" font-size="10.5" textLength="18.4" lengthAdjust="spacingAndGlyphs" fill="#E0302A">click</text>
<line x1="3371.1" y1="1532.2" x2="3379.5" y2="1527.1" stroke="#E0302A" stroke-width="0.9" />
<polygon points="3383.8,1524.5 3379.6,1529.1 3377.7,1526.1" fill="#E0302A"/>
<polygon points="3397.2,1533.8 3409.8,1533.8 3409.8,1524.5 3426.3,1543.9 3409.8,1563.3 3409.8,1554.0 3397.2,1554.0" fill="#dedede" stroke="#b3b3b3" stroke-width="1"/>
<text class="fs" x="3403.0" y="1575.7" font-size="10.5" textLength="17.6" lengthAdjust="spacingAndGlyphs" fill="#111">click</text>
<rect x="3437.0" y="1486.4" width="325.5" height="124.4" fill="#fff"/>
<rect x="3437.0" y="1486.4" width="16.7" height="124.4" fill="#F0F0F0"/>
<line x1="3482.4" y1="1494.9" x2="3482.4" y2="1610.8" stroke="#d8d8d8" stroke-width="0.7" />
<line x1="3482.4" y1="1488.4" x2="3762.5" y2="1488.4" stroke="#ececec" stroke-width="0.7" />
<text class="fm" x="3464.7" y="1493.1" font-size="5.6" textLength="6.8" lengthAdjust="spacingAndGlyphs" fill="#4E78A8">64</text>
<text class="fm" x="3482.8" y="1493.1" font-size="5.6" textLength="9.8" lengthAdjust="spacingAndGlyphs" fill="#4B8BD4" stroke="#4B8BD4" stroke-width="0.09">def</text>
<text class="fm" x="3495.8" y="1493.1" font-size="5.6" textLength="26.0" lengthAdjust="spacingAndGlyphs" fill="#8A7B2E" stroke="#8A7B2E" stroke-width="0.09">download</text>
<text class="fm" x="3521.8" y="1493.1" font-size="5.6" textLength="61.8" lengthAdjust="spacingAndGlyphs" fill="#333" stroke="#333" stroke-width="0.09">(req, id, name) -&gt;:</text>
<text class="fm" x="3464.7" y="1501.5" font-size="5.6" textLength="6.8" lengthAdjust="spacingAndGlyphs" fill="#4E78A8">65</text>
<text class="fm" x="3464.7" y="1509.8" font-size="5.6" textLength="6.8" lengthAdjust="spacingAndGlyphs" fill="#4E78A8">66</text>
<text class="fm" x="3495.8" y="1509.8" font-size="5.6" textLength="84.5" lengthAdjust="spacingAndGlyphs" fill="#333" stroke="#333" stroke-width="0.09">redis = Redis.get_instance</text>
<text class="fm" x="3580.3" y="1509.8" font-size="5.6" textLength="6.5" lengthAdjust="spacingAndGlyphs" fill="#5DA37A" stroke="#5DA37A" stroke-width="0.09">()</text>
<text class="fm" x="3464.7" y="1518.2" font-size="5.6" textLength="6.8" lengthAdjust="spacingAndGlyphs" fill="#4E78A8">67</text>
<text class="fm" x="3495.8" y="1518.2" font-size="5.6" textLength="48.8" lengthAdjust="spacingAndGlyphs" fill="#333" stroke="#333" stroke-width="0.09">val = redis.get</text>
<text class="fm" x="3544.6" y="1518.2" font-size="5.6" textLength="13.0" lengthAdjust="spacingAndGlyphs" fill="#5DA37A" stroke="#5DA37A" stroke-width="0.09">(id)</text>
<text class="fm" x="3464.7" y="1526.5" font-size="5.6" textLength="6.8" lengthAdjust="spacingAndGlyphs" fill="#4E78A8">68</text>
<text class="fm" x="3495.8" y="1526.5" font-size="5.6" textLength="6.5" lengthAdjust="spacingAndGlyphs" fill="#4B8BD4" stroke="#4B8BD4" stroke-width="0.09">if</text>
<text class="fm" x="3505.6" y="1526.5" font-size="5.6" textLength="9.8" lengthAdjust="spacingAndGlyphs" fill="#333" stroke="#333" stroke-width="0.09">val</text>
<text class="fm" x="3518.6" y="1526.5" font-size="5.6" textLength="22.8" lengthAdjust="spacingAndGlyphs" fill="#4B8BD4" stroke="#4B8BD4" stroke-width="0.09">is None</text>
<text class="fm" x="3541.3" y="1526.5" font-size="5.6" textLength="3.2" lengthAdjust="spacingAndGlyphs" fill="#333" stroke="#333" stroke-width="0.09">:</text>
<text class="fm" x="3464.7" y="1534.9" font-size="5.6" textLength="6.8" lengthAdjust="spacingAndGlyphs" fill="#4E78A8">69</text>
<text class="fm" x="3508.8" y="1534.9" font-size="5.6" textLength="19.5" lengthAdjust="spacingAndGlyphs" fill="#B0476B" stroke="#B0476B" stroke-width="0.09">return</text>
<text class="fm" x="3531.6" y="1534.9" font-size="5.6" textLength="65.0" lengthAdjust="spacingAndGlyphs" fill="#333" stroke="#333" stroke-width="0.09">HttpResponseNotFound</text>
<text class="fm" x="3596.6" y="1534.9" font-size="5.6" textLength="32.5" lengthAdjust="spacingAndGlyphs" fill="#A03030" stroke="#A03030" stroke-width="0.09">(f'Content</text>
<text class="fm" x="3464.7" y="1543.3" font-size="5.6" textLength="6.8" lengthAdjust="spacingAndGlyphs" fill="#4E78A8">70</text>
<text class="fm" x="3508.8" y="1543.3" font-size="5.6" textLength="120.2" lengthAdjust="spacingAndGlyphs" fill="#A03030" stroke="#A03030" stroke-width="0.09">of id {id[:24]} not found. Expired?')</text>
<text class="fm" x="3464.7" y="1551.6" font-size="5.6" textLength="6.8" lengthAdjust="spacingAndGlyphs" fill="#4E78A8">71</text>
<text class="fm" x="3495.8" y="1551.6" font-size="5.6" textLength="97.5" lengthAdjust="spacingAndGlyphs" fill="#333" stroke="#333" stroke-width="0.09">res = HttpResponse(val.decode(</text>
<text class="fm" x="3593.3" y="1551.6" font-size="5.6" textLength="22.8" lengthAdjust="spacingAndGlyphs" fill="#A03030" stroke="#A03030" stroke-width="0.09">'utf-8'</text>
<text class="fm" x="3616.1" y="1551.6" font-size="5.6" textLength="6.5" lengthAdjust="spacingAndGlyphs" fill="#333" stroke="#333" stroke-width="0.09">))</text>
<text class="fm" x="3464.7" y="1560.0" font-size="5.6" textLength="6.8" lengthAdjust="spacingAndGlyphs" fill="#4E78A8">72</text>
<text class="fm" x="3495.8" y="1560.0" font-size="5.6" textLength="13.0" lengthAdjust="spacingAndGlyphs" fill="#333" stroke="#333" stroke-width="0.09">res[</text>
<text class="fm" x="3508.8" y="1560.0" font-size="5.6" textLength="55.2" lengthAdjust="spacingAndGlyphs" fill="#A03030" stroke="#A03030" stroke-width="0.09">'Referrer-Policy'</text>
<text class="fm" x="3564.1" y="1560.0" font-size="5.6" textLength="9.8" lengthAdjust="spacingAndGlyphs" fill="#333" stroke="#333" stroke-width="0.09">] =</text>
<text class="fm" x="3577.1" y="1560.0" font-size="5.6" textLength="26.0" lengthAdjust="spacingAndGlyphs" fill="#A03030" stroke="#A03030" stroke-width="0.09">'origin'</text>
<text class="fm" x="3464.7" y="1568.3" font-size="5.6" textLength="6.8" lengthAdjust="spacingAndGlyphs" fill="#4E78A8">73</text>
<text class="fm" x="3495.8" y="1568.3" font-size="5.6" textLength="19.5" lengthAdjust="spacingAndGlyphs" fill="#B0476B" stroke="#B0476B" stroke-width="0.09">return</text>
<text class="fm" x="3518.6" y="1568.3" font-size="5.6" textLength="9.8" lengthAdjust="spacingAndGlyphs" fill="#333" stroke="#333" stroke-width="0.09">res</text>
<rect x="3579.0" y="1494.4" width="181.2" height="42.2" fill="#F3F3F3"/>
<rect x="3580.2" y="1494.4" width="180.0" height="43.5" fill="#F3F3F3" stroke="#dcdcdc" stroke-width="0.7"/>
<rect x="3580.2" y="1495.1" width="180.0" height="8.4" fill="#0A5FC5"/>
<text class="fm" x="3581.7" y="1501.4" font-size="4.8" textLength="6.0" lengthAdjust="spacingAndGlyphs" fill="#fff">‹T›</text>
<text class="fm" x="3589.4" y="1501.4" font-size="5.6" textLength="39.0" lengthAdjust="spacingAndGlyphs" font-weight="bold" fill="#fff">HttpResponse</text>
<text class="fm" x="3581.7" y="1509.8" font-size="4.8" textLength="6.0" lengthAdjust="spacingAndGlyphs" fill="#777">‹T›</text>
<text class="fm" x="3589.4" y="1509.8" font-size="5.6" textLength="65.0" lengthAdjust="spacingAndGlyphs" fill="#333">HttpResponseNotFound</text>
<text class="fm" x="3581.7" y="1518.1" font-size="4.8" textLength="6.0" lengthAdjust="spacingAndGlyphs" fill="#777">‹T›</text>
<text class="fm" x="3589.4" y="1518.1" font-size="5.6" textLength="9.8" lengthAdjust="spacingAndGlyphs" fill="#333">str</text>
<text class="fm" x="3581.7" y="1526.5" font-size="4.8" textLength="6.0" lengthAdjust="spacingAndGlyphs" fill="#777">‹T›</text>
<text class="fm" x="3589.4" y="1526.5" font-size="5.6" textLength="42.2" lengthAdjust="spacingAndGlyphs" fill="#333">Optional[str]</text>
<text class="fm" x="3581.7" y="1534.8" font-size="4.8" textLength="6.0" lengthAdjust="spacingAndGlyphs" fill="#777">‹T›</text>
<text class="fm" x="3589.4" y="1534.8" font-size="5.6" textLength="16.2" lengthAdjust="spacingAndGlyphs" fill="#333">bytes</text>
<text class="fs" x="3751.2" y="1501.6" font-size="6" fill="#fff">›</text>
<rect x="3440.4" y="1494.7" width="138.8" height="111.1" fill="#F3F3F3" stroke="#E0302A" stroke-width="1.4"/>
<circle cx="3447.2" cy="1502.3" r="1.2" fill="#E8B83A" />
<text class="fm" x="3454.3" y="1504.0" font-size="4.736711478800414" textLength="51.3" lengthAdjust="spacingAndGlyphs" fill="#666">Recommended type</text>
<text class="fs" x="3574.2" y="1504.5" font-size="6.157724922440538" fill="#444">×</text>
<text class="fs" x="3443.6" y="1519.8" font-size="4.736711478800414" fill="#E8B83A">✨</text>
<text class="fs" x="3449.7" y="1519.8" font-size="5.115648397104447" textLength="49.2" lengthAdjust="spacingAndGlyphs" font-weight="bold" fill="#111">Expert suggestion</text>
<text class="fs" x="3499.3" y="1519.8" font-size="5.115648397104447" textLength="15.4" lengthAdjust="spacingAndGlyphs" fill="#444">: Use</text>
<rect x="3517.6" y="1514.6" width="41.6" height="7.1" fill="#E6E6E6"/>
<text class="fm" x="3519.0" y="1519.8" font-size="4.736711478800414" textLength="38.8" lengthAdjust="spacingAndGlyphs" fill="#333">HttpResponse</text>
<text class="fs" x="3562.0" y="1519.8" font-size="5.115648397104447" fill="#444">as</text>
<text class="fs" x="3443.6" y="1528.5" font-size="5.115648397104447" textLength="28.1" lengthAdjust="spacingAndGlyphs" fill="#444">return type</text>
<text class="fs" x="3443.6" y="1544.8" font-size="6.631396070320579" textLength="73.3" lengthAdjust="spacingAndGlyphs" font-weight="bold" fill="#111">Type inference process</text>
<text class="fm" x="3443.6" y="1559.5" font-size="4.736711478800414" textLength="51.3" lengthAdjust="spacingAndGlyphs" fill="#222" stroke="#222" stroke-width="0.08">if_analysis(val,</text>
<text class="fm" x="3498.0" y="1559.5" font-size="4.736711478800414" textLength="12.8" lengthAdjust="spacingAndGlyphs" fill="#2A2AE0" stroke="#2A2AE0" stroke-width="0.08">None</text>
<text class="fm" x="3510.8" y="1559.5" font-size="4.736711478800414" textLength="16.0" lengthAdjust="spacingAndGlyphs" fill="#222" stroke="#222" stroke-width="0.08">, =):</text>
<text class="fm" x="3456.4" y="1567.8" font-size="4.736711478800414" textLength="115.3" lengthAdjust="spacingAndGlyphs" fill="#222" stroke="#222" stroke-width="0.08">T1 = return_analysis(HttpResponseNot</text>
<text class="fm" x="3443.6" y="1576.0" font-size="4.736711478800414" textLength="19.2" lengthAdjust="spacingAndGlyphs" fill="#222" stroke="#222" stroke-width="0.08">Found(</text>
<text class="fm" x="3462.8" y="1576.0" font-size="4.736711478800414" textLength="44.9" lengthAdjust="spacingAndGlyphs" fill="#C8302C" stroke="#C8302C" stroke-width="0.08">'Content of id</text>
<text class="fm" x="3510.8" y="1576.0" font-size="4.736711478800414" textLength="28.8" lengthAdjust="spacingAndGlyphs" fill="#2A2AE0" stroke="#2A2AE0" stroke-width="0.08">{id[:24]}</text>
<text class="fm" x="3542.9" y="1576.0" font-size="4.736711478800414" textLength="32.0" lengthAdjust="spacingAndGlyphs" fill="#C8302C" stroke="#C8302C" stroke-width="0.08">not found.</text>
<text class="fm" x="3443.6" y="1584.0" font-size="4.736711478800414" textLength="28.8" lengthAdjust="spacingAndGlyphs" fill="#C8302C" stroke="#C8302C" stroke-width="0.08">Expired?'</text>
<text class="fm" x="3472.4" y="1584.0" font-size="4.736711478800414" textLength="6.4" lengthAdjust="spacingAndGlyphs" fill="#222" stroke="#222" stroke-width="0.08">))</text>
<text class="fm" x="3443.6" y="1592.3" font-size="4.736711478800414" textLength="6.4" lengthAdjust="spacingAndGlyphs" fill="#2A2AE0" stroke="#2A2AE0" stroke-width="0.08">T2</text>
<text class="fm" x="3453.2" y="1592.3" font-size="4.736711478800414" textLength="70.5" lengthAdjust="spacingAndGlyphs" fill="#222" stroke="#222" stroke-width="0.08">= return_analysis(res)</text>
<text class="fm" x="3443.6" y="1600.3" font-size="4.736711478800414" textLength="44.9" lengthAdjust="spacingAndGlyphs" fill="#222" stroke="#222" stroke-width="0.08">combine(T1,T2)</text>
<line x1="3612.0" y1="1583.1" x2="3591.0" y2="1581.2" stroke="#E0302A" stroke-width="0.9" />
<polygon points="3586.0,1580.7 3592.1,1579.5 3591.8,1583.0" fill="#E0302A"/>
<text class="fs" x="3616.0" y="1589.8" font-size="10.5" textLength="134.2" lengthAdjust="spacingAndGlyphs" fill="#E0302A">Detailed type inference process</text>
</g>
<g id="fig2">
<line x1="107.9" y1="2190.0" x2="107.9" y2="2830.0" stroke="#d0d0d0" stroke-width="1" />
<line x1="108.5" y1="2192.0" x2="436.5" y2="2192.0" stroke="#000" stroke-width="1.8" />
<line x1="791.0" y1="2192.0" x2="1158.7" y2="2192.0" stroke="#000" stroke-width="1.8" />
<line x1="108.5" y1="2177.0" x2="108.5" y2="2207.0" stroke="#000" stroke-width="1.8" />
<path d="M130.5,2183 L110.0,2192 L130.5,2201" fill="none" stroke="#000" stroke-width="1.8" />
<line x1="1158.7" y1="2177.0" x2="1158.7" y2="2207.0" stroke="#000" stroke-width="1.8" />
<path d="M1136.7,2183 L1157.2,2192 L1136.7,2201" fill="none" stroke="#000" stroke-width="1.8" />
<text class="fs" x="440.5" y="2199.5" font-size="20.5" textLength="344.5" lengthAdjust="spacingAndGlyphs" fill="#111">(a) High-level Program Generation</text>
<line x1="1213.5" y1="2193.5" x2="1678.0" y2="2193.5" stroke="#000" stroke-width="1.8" />
<line x1="1918.0" y1="2193.5" x2="2266.0" y2="2193.5" stroke="#000" stroke-width="1.8" />
<line x1="1213.5" y1="2178.5" x2="1213.5" y2="2208.5" stroke="#000" stroke-width="1.8" />
<path d="M1235.5,2184.5 L1215.0,2193.5 L1235.5,2202.5" fill="none" stroke="#000" stroke-width="1.8" />
<line x1="2266.0" y1="2178.5" x2="2266.0" y2="2208.5" stroke="#000" stroke-width="1.8" />
<path d="M2244,2184.5 L2264.5,2193.5 L2244,2202.5" fill="none" stroke="#000" stroke-width="1.8" />
<text class="fs" x="1682.0" y="2201.0" font-size="20.5" textLength="230.0" lengthAdjust="spacingAndGlyphs" fill="#111">(b) Program Interpreter</text>
<rect x="113.5" y="2216.5" width="1045.7" height="605.5" fill="none" stroke="#000" stroke-width="2.3" rx="34" stroke-dasharray="12 7"/>
<path d="M1152.7,2365.1 L1215.2,2249.7 V2786.8 L1045.4,2577.9 L1093.8,2482.5 H1152.7 Z" fill="#F3F3F3" />
<rect x="1215.2" y="2221.0" width="1050.0" height="601.5" fill="#fff" stroke="#000" stroke-width="2.3" rx="38" stroke-dasharray="12 7"/>
<line x1="1152.7" y1="2365.1" x2="1215.2" y2="2249.7" stroke="#000" stroke-width="2.3" stroke-dasharray="12 7"/>
<line x1="1093.8" y1="2482.5" x2="1045.4" y2="2577.9" stroke="#000" stroke-width="2.3" stroke-dasharray="12 7"/>
<line x1="1045.4" y1="2577.9" x2="1215.2" y2="2786.8" stroke="#000" stroke-width="2.3" stroke-dasharray="12 7"/>
<rect x="147.7" y="2236.9" width="497.2" height="574.8" fill="#fff" stroke="#000" stroke-width="4" filter="url(#sh)"/>
<rect x="149.7" y="2238.9" width="493.2" height="35.0" fill="#DCE6F8"/>
<line x1="145.7" y1="2275.5" x2="646.9" y2="2275.5" stroke="#000" stroke-width="4" />
<text class="fs" x="311.6" y="2265.6" font-size="27.8" textLength="192.1" lengthAdjust="spacingAndGlyphs" fill="#111">Target Program</text>
<text class="fs" x="139.7" y="2343.1" font-size="25" fill="#111" text-anchor="end">0</text>
<text class="fs" x="139.7" y="2385.4" font-size="25" fill="#111" text-anchor="end">1</text>
<text class="fs" x="139.7" y="2427.7" font-size="25" fill="#111" text-anchor="end">2</text>
<text class="fs" x="139.7" y="2470.0" font-size="25" fill="#111" text-anchor="end">3</text>
<text class="fs" x="139.7" y="2512.3" font-size="25" fill="#111" text-anchor="end">4</text>
<text class="fs" x="139.7" y="2554.5" font-size="25" fill="#111" text-anchor="end">5</text>
<text class="fs" x="139.7" y="2596.8" font-size="25" fill="#111" text-anchor="end">6</text>
<text class="fs" x="139.7" y="2639.1" font-size="25" fill="#111" text-anchor="end">7</text>
<text class="fs" x="139.7" y="2681.4" font-size="25" fill="#111" text-anchor="end">8</text>
<text class="fs" x="139.7" y="2723.7" font-size="25" fill="#111" text-anchor="end">9</text>
<text class="fs" x="139.7" y="2766.0" font-size="25" fill="#111" text-anchor="end">10</text>
<text class="fm" x="165.6" y="2340.7" font-size="21.4" textLength="38.5" lengthAdjust="spacingAndGlyphs" fill="#7E62C4" stroke="#7E62C4" stroke-width="0.34">def</text>
<text class="fm" x="217.0" y="2340.7" font-size="21.4" textLength="166.9" lengthAdjust="spacingAndGlyphs" fill="#B8434E" stroke="#B8434E" stroke-width="0.34">learning_rate</text>
<text class="fm" x="383.9" y="2340.7" font-size="21.4" textLength="231.1" lengthAdjust="spacingAndGlyphs" fill="#161616" stroke="#161616" stroke-width="0.34">(opt, base_lr, f):</text>
<text class="fm" x="191.3" y="2382.8" font-size="21.4" textLength="51.4" lengthAdjust="spacingAndGlyphs" fill="#161616" stroke="#161616" stroke-width="0.34">lr =</text>
<text class="fm" x="255.5" y="2382.8" font-size="21.4" textLength="38.5" lengthAdjust="spacingAndGlyphs" fill="#B8434E" stroke="#B8434E" stroke-width="0.34">min</text>
<text class="fm" x="294.0" y="2382.8" font-size="21.4" textLength="179.8" lengthAdjust="spacingAndGlyphs" fill="#161616" stroke="#161616" stroke-width="0.34">(base_lr, 0.5)</text>
<text class="fm" x="191.3" y="2424.8" font-size="21.4" textLength="25.7" lengthAdjust="spacingAndGlyphs" fill="#4B8BD4" stroke="#4B8BD4" stroke-width="0.34">if</text>
<text class="fm" x="229.8" y="2424.8" font-size="21.4" textLength="128.4" lengthAdjust="spacingAndGlyphs" fill="#161616" stroke="#161616" stroke-width="0.34">lr  &gt; 1.0:</text>
<text class="fm" x="217.0" y="2466.8" font-size="21.4" textLength="77.0" lengthAdjust="spacingAndGlyphs" fill="#4B8BD4" stroke="#4B8BD4" stroke-width="0.34">return</text>
<text class="fm" x="306.8" y="2466.8" font-size="21.4" textLength="64.2" lengthAdjust="spacingAndGlyphs" fill="#161616" stroke="#161616" stroke-width="0.34">False</text>
<text class="fm" x="191.3" y="2508.9" font-size="21.4" textLength="25.7" lengthAdjust="spacingAndGlyphs" fill="#4B8BD4" stroke="#4B8BD4" stroke-width="0.34">if</text>
<text class="fm" x="229.8" y="2508.9" font-size="21.4" textLength="141.2" lengthAdjust="spacingAndGlyphs" fill="#161616" stroke="#161616" stroke-width="0.34">lr  &lt;= 0.5:</text>
<text class="fm" x="217.0" y="2550.9" font-size="21.4" textLength="256.8" lengthAdjust="spacingAndGlyphs" fill="#161616" stroke="#161616" stroke-width="0.34">tgt_lr = base_lr * f</text>
<text class="fm" x="217.0" y="2593.0" font-size="21.4" textLength="218.3" lengthAdjust="spacingAndGlyphs" fill="#161616" stroke="#161616" stroke-width="0.34">tgt = tgt_lr + 10</text>
<text class="fm" x="217.0" y="2635.0" font-size="21.4" textLength="51.4" lengthAdjust="spacingAndGlyphs" fill="#161616" stroke="#161616" stroke-width="0.34">lr =</text>
<text class="fm" x="281.2" y="2635.0" font-size="21.4" textLength="166.9" lengthAdjust="spacingAndGlyphs" fill="#B8434E" stroke="#B8434E" stroke-width="0.34">_normalize_lr</text>
<text class="fm" x="448.1" y="2635.0" font-size="21.4" textLength="154.1" lengthAdjust="spacingAndGlyphs" fill="#161616" stroke="#161616" stroke-width="0.34">(tgt_lr, 20)</text>
<text class="fm" x="217.0" y="2677.1" font-size="21.4" textLength="179.8" lengthAdjust="spacingAndGlyphs" fill="#161616" stroke="#161616" stroke-width="0.34">opt.params[0][</text>
<text class="fm" x="396.7" y="2677.1" font-size="21.4" textLength="51.4" lengthAdjust="spacingAndGlyphs" fill="#4A9A50" stroke="#4A9A50" stroke-width="0.34">'lr'</text>
<text class="fm" x="448.1" y="2677.1" font-size="21.4" textLength="77.0" lengthAdjust="spacingAndGlyphs" fill="#161616" stroke="#161616" stroke-width="0.34">] = lr</text>
<text class="fm" x="217.0" y="2719.1" font-size="21.4" textLength="77.0" lengthAdjust="spacingAndGlyphs" fill="#4B8BD4" stroke="#4B8BD4" stroke-width="0.34">return</text>
<text class="fm" x="306.8" y="2719.1" font-size="21.4" textLength="25.7" lengthAdjust="spacingAndGlyphs" fill="#161616" stroke="#161616" stroke-width="0.34">lr</text>
<text class="fm" x="191.3" y="2761.2" font-size="21.4" textLength="77.0" lengthAdjust="spacingAndGlyphs" fill="#4B8BD4" stroke="#4B8BD4" stroke-width="0.34">return</text>
<text class="fm" x="281.2" y="2761.2" font-size="21.4" textLength="51.4" lengthAdjust="spacingAndGlyphs" fill="#161616" stroke="#161616" stroke-width="0.34">None</text>
<polygon points="648.5,2377.3 679.5,2377.3 679.5,2368.2 698.5,2386.5 679.5,2404.8 679.5,2395.6 648.5,2395.6" fill="#e1e1e1" stroke="#b2b2b2" stroke-width="1.6"/>
<rect x="728.6" y="2239.0" width="422.1" height="240.3" fill="#fff" stroke="#000" stroke-width="4" filter="url(#sh)"/>
<rect x="730.6" y="2241.0" width="418.1" height="36.5" fill="#D5D0E8"/>
<line x1="726.6" y1="2279.5" x2="1152.7" y2="2279.5" stroke="#000" stroke-width="4" />
<text class="fs" x="808.1" y="2269.6" font-size="27.8" textLength="243.9" lengthAdjust="spacingAndGlyphs" fill="#111">High-Level Program</text>
<circle cx="711.0" cy="2308.2" r="10.6" fill="#fff" stroke="#000" stroke-width="1.6" />
<text class="fs" x="711.0" y="2314.8" font-size="18.5" font-weight="bold" fill="#000" text-anchor="middle">1</text>
<circle cx="711.0" cy="2339.2" r="10.6" fill="#fff" stroke="#000" stroke-width="1.6" />
<text class="fs" x="711.0" y="2345.8" font-size="18.5" font-weight="bold" fill="#000" text-anchor="middle">2</text>
<circle cx="711.0" cy="2370.2" r="10.6" fill="#fff" stroke="#000" stroke-width="1.6" />
<text class="fs" x="711.0" y="2376.8" font-size="18.5" font-weight="bold" fill="#000" text-anchor="middle">3</text>
<circle cx="711.0" cy="2398.9" r="10.6" fill="#fff" stroke="#000" stroke-width="1.6" />
<text class="fs" x="711.0" y="2405.5" font-size="18.5" font-weight="bold" fill="#000" text-anchor="middle">4</text>
<circle cx="711.0" cy="2429.1" r="10.6" fill="#fff" stroke="#000" stroke-width="1.6" />
<text class="fs" x="711.0" y="2435.7" font-size="18.5" font-weight="bold" fill="#000" text-anchor="middle">5</text>
<circle cx="711.0" cy="2459.4" r="10.6" fill="#fff" stroke="#000" stroke-width="1.6" />
<text class="fs" x="711.0" y="2466.0" font-size="18.5" font-weight="bold" fill="#000" text-anchor="middle">6</text>
<text class="fm" x="744.9" y="2314.9" font-size="20.5" textLength="135.3" lengthAdjust="spacingAndGlyphs" fill="#B5424C" stroke="#B5424C" stroke-width="0.33">if_analysis</text>
<text class="fm" x="880.2" y="2314.9" font-size="20.5" textLength="159.9" lengthAdjust="spacingAndGlyphs" fill="#161616" stroke="#161616" stroke-width="0.33">(lr, 1,0, &gt;):</text>
<text class="fm" x="777.5" y="2345.6" font-size="20.5" textLength="49.2" lengthAdjust="spacingAndGlyphs" fill="#161616" stroke="#161616" stroke-width="0.33">T1 =</text>
<text class="fm" x="839.0" y="2345.6" font-size="20.5" textLength="184.5" lengthAdjust="spacingAndGlyphs" fill="#B8434E" stroke="#B8434E" stroke-width="0.33">return_analysis</text>
<text class="fm" x="1023.5" y="2345.6" font-size="20.5" textLength="110.7" lengthAdjust="spacingAndGlyphs" fill="#161616" stroke="#161616" stroke-width="0.33">("False")</text>
<text class="fm" x="744.9" y="2374.6" font-size="20.5" textLength="135.3" lengthAdjust="spacingAndGlyphs" fill="#B5424C" stroke="#B5424C" stroke-width="0.33">if_analysis</text>
<text class="fm" x="880.2" y="2374.6" font-size="20.5" textLength="172.2" lengthAdjust="spacingAndGlyphs" fill="#161616" stroke="#161616" stroke-width="0.33">(lr, 0.5, &lt;=):</text>
<text class="fm" x="769.5" y="2402.1" font-size="20.5" textLength="49.2" lengthAdjust="spacingAndGlyphs" fill="#161616" stroke="#161616" stroke-width="0.33">T2 =</text>
<text class="fm" x="831.0" y="2402.1" font-size="20.5" textLength="184.5" lengthAdjust="spacingAndGlyphs" fill="#B8434E" stroke="#B8434E" stroke-width="0.33">return_analysis</text>
<text class="fm" x="1015.5" y="2402.1" font-size="20.5" textLength="49.2" lengthAdjust="spacingAndGlyphs" fill="#161616" stroke="#161616" stroke-width="0.33">(lr)</text>
<text class="fm" x="744.9" y="2433.9" font-size="20.5" textLength="49.2" lengthAdjust="spacingAndGlyphs" fill="#161616" stroke="#161616" stroke-width="0.33">T3 =</text>
<text class="fm" x="806.4" y="2433.9" font-size="20.5" textLength="184.5" lengthAdjust="spacingAndGlyphs" fill="#B8434E" stroke="#B8434E" stroke-width="0.33">return_analysis</text>
<text class="fm" x="990.9" y="2433.9" font-size="20.5" textLength="73.8" lengthAdjust="spacingAndGlyphs" fill="#161616" stroke="#161616" stroke-width="0.33">(None)</text>
<text class="fm" x="744.9" y="2462.1" font-size="20.5" textLength="172.2" lengthAdjust="spacingAndGlyphs" fill="#161616" stroke="#161616" stroke-width="0.33">combine(T2,T3)</text>
<polygon points="932.0,2482.5 932.0,2526.1 923.5,2526.1 940.6,2542.1 957.7,2526.1 949.1,2526.1 949.1,2482.5" fill="#e1e1e1" stroke="#b2b2b2" stroke-width="1.6"/>
<path d="M822.4,2540.9 H1058 L1031.3,2625.7 H850.3 Z" fill="#FFF2CC" stroke="#C9A227" stroke-width="2" />
<text class="fs" x="890.9" y="2589.1" font-size="24.5" textLength="97.5" lengthAdjust="spacingAndGlyphs" fill="#111">Executor</text>
<polygon points="932.0,2627.7 932.0,2671.4 923.5,2671.4 940.6,2687.4 957.7,2671.4 949.1,2671.4 949.1,2627.7" fill="#e1e1e1" stroke="#b2b2b2" stroke-width="1.6"/>
<g fill="#fff" stroke="#111" stroke-width="3.6">
<path d="M908.6,2701 V2751 A28.4,10.5 0 0 0 965.5,2751 V2701" fill="none" />
<ellipse cx="937" cy="2701" rx="28.4" ry="10.5"/>
<path d="M908.6,2718 A28.4,10.5 0 0 0 965.5,2718" fill="none" />
<path d="M908.6,2735 A28.4,10.5 0 0 0 965.5,2735" fill="none" />
</g>
<circle cx="995.5" cy="2748.2" r="20.0" fill="#3FA535" />
<path d="M984.5,2749 L992.5,2757 L1007,2740" fill="none" stroke="#fff" stroke-width="4" />
<text class="fs" x="861.0" y="2805.9" font-size="27.5" textLength="168.3" lengthAdjust="spacingAndGlyphs" fill="#111">Optional[float]</text>
<circle cx="1239.8" cy="2345.9" r="11.4" fill="#000" />
<text class="fs" x="1239.8" y="2352.1" font-size="17" font-weight="bold" fill="#fff" text-anchor="middle">1</text>
<circle cx="1239.8" cy="2435.8" r="11.4" fill="#000" />
<text class="fs" x="1239.8" y="2442.0" font-size="17" font-weight="bold" fill="#fff" text-anchor="middle">3</text>
<circle cx="1239.8" cy="2565.9" r="11.4" fill="#000" />
<text class="fs" x="1239.8" y="2572.1" font-size="17" font-weight="bold" fill="#fff" text-anchor="middle">4</text>
<circle cx="1239.8" cy="2779.9" r="11.4" fill="#000" />
<text class="fs" x="1239.8" y="2786.1" font-size="17" font-weight="bold" fill="#fff" text-anchor="middle">5</text>
<rect x="1258.9" y="2270.8" width="157.9" height="205.6" fill="#DB9DB0" rx="28"/>
<text class="fs" x="1277.6" y="2352.3" font-size="29" textLength="125.3" lengthAdjust="spacingAndGlyphs" font-weight="bold" fill="#fff">Condition</text>
<text class="fs" x="1270.8" y="2388.1" font-size="29" textLength="138.0" lengthAdjust="spacingAndGlyphs" font-weight="bold" fill="#fff">Evaluation</text>
<text class="fs" x="1317.3" y="2423.9" font-size="29" textLength="45.0" lengthAdjust="spacingAndGlyphs" font-weight="bold" fill="#fff">API</text>
<rect x="1258.9" y="2501.5" width="153.1" height="307.1" fill="#89BCD6" rx="28"/>
<text class="fs" x="1300.2" y="2629.6" font-size="29" textLength="62.1" lengthAdjust="spacingAndGlyphs" font-weight="bold" fill="#fff">Type</text>
<text class="fs" x="1268.4" y="2666.2" font-size="29" textLength="125.7" lengthAdjust="spacingAndGlyphs" font-weight="bold" fill="#fff">Inference</text>
<text class="fs" x="1310.2" y="2701.2" font-size="29" textLength="44.1" lengthAdjust="spacingAndGlyphs" font-weight="bold" fill="#fff">API</text>
<rect x="1436.7" y="2239.7" width="459.4" height="39.0" fill="#DADADA" stroke="#000" stroke-width="4" filter="url(#sh)"/>
<text class="fs" x="1556.8" y="2270.8" font-size="27.8" textLength="191.3" lengthAdjust="spacingAndGlyphs" fill="#111">Dataflow Graph</text>
<rect x="1438.7" y="2283.5" width="458.2" height="90.7" fill="#fff" stroke="#000" stroke-width="4" filter="url(#sh)"/>
<rect x="1438.7" y="2384.9" width="458.2" height="91.5" fill="#fff" stroke="#000" stroke-width="4" filter="url(#sh)"/>
<rect x="1438.7" y="2499.1" width="458.2" height="233.9" fill="#fff" stroke="#000" stroke-width="4" filter="url(#sh)"/>
<rect x="1438.7" y="2754.9" width="458.2" height="48.9" fill="#fff" stroke="#000" stroke-width="4" filter="url(#sh)"/>
<text class="fm" x="1457.8" y="2313.7" font-size="20.4" textLength="49.0" lengthAdjust="spacingAndGlyphs" fill="#161616" stroke="#161616" stroke-width="0.33">lr =</text>
<text class="fm" x="1519.0" y="2313.7" font-size="20.4" textLength="36.7" lengthAdjust="spacingAndGlyphs" fill="#B8434E" stroke="#B8434E" stroke-width="0.33">min</text>
<text class="fm" x="1555.7" y="2313.7" font-size="20.4" textLength="171.4" lengthAdjust="spacingAndGlyphs" fill="#161616" stroke="#161616" stroke-width="0.33">(base_lr, 0.5)</text>
<text class="fm" x="1482.4" y="2353.5" font-size="20.4" textLength="24.5" lengthAdjust="spacingAndGlyphs" fill="#4B8BD4" stroke="#4B8BD4" stroke-width="0.33">if</text>
<text class="fm" x="1519.1" y="2353.5" font-size="20.4" textLength="122.4" lengthAdjust="spacingAndGlyphs" fill="#161616" stroke="#161616" stroke-width="0.33">lr  &gt; 1.0:</text>
<text class="fm" x="1457.8" y="2415.9" font-size="20.4" textLength="49.0" lengthAdjust="spacingAndGlyphs" fill="#161616" stroke="#161616" stroke-width="0.33">lr =</text>
<text class="fm" x="1519.0" y="2415.9" font-size="20.4" textLength="36.7" lengthAdjust="spacingAndGlyphs" fill="#B8434E" stroke="#B8434E" stroke-width="0.33">min</text>
<text class="fm" x="1555.7" y="2415.9" font-size="20.4" textLength="171.4" lengthAdjust="spacingAndGlyphs" fill="#161616" stroke="#161616" stroke-width="0.33">(base_lr, 0.5)</text>
<text class="fm" x="1483.2" y="2456.1" font-size="20.4" textLength="24.5" lengthAdjust="spacingAndGlyphs" fill="#4B8BD4" stroke="#4B8BD4" stroke-width="0.33">if</text>
<text class="fm" x="1519.9" y="2456.1" font-size="20.4" textLength="134.6" lengthAdjust="spacingAndGlyphs" fill="#161616" stroke="#161616" stroke-width="0.33">lr  &lt;= 0.5:</text>
<text class="fm" x="1453.4" y="2521.7" font-size="20.4" textLength="24.5" lengthAdjust="spacingAndGlyphs" fill="#4B8BD4" stroke="#4B8BD4" stroke-width="0.33">if</text>
<text class="fm" x="1490.1" y="2521.7" font-size="20.4" textLength="134.6" lengthAdjust="spacingAndGlyphs" fill="#161616" stroke="#161616" stroke-width="0.33">lr  &lt;= 0.5:</text>
<text class="fm" x="1503.1" y="2562.3" font-size="20.4" textLength="97.9" lengthAdjust="spacingAndGlyphs" fill="#161616" stroke="#161616" stroke-width="0.33">tgt_lr =</text>
<text class="fm" x="1613.3" y="2562.3" font-size="20.4" textLength="49.0" lengthAdjust="spacingAndGlyphs" fill="#4B8BD4" stroke="#4B8BD4" stroke-width="0.33">base</text>
<text class="fm" x="1662.2" y="2562.3" font-size="20.4" textLength="85.7" lengthAdjust="spacingAndGlyphs" fill="#161616" stroke="#161616" stroke-width="0.33">_lr * f</text>
<text class="fm" x="1503.1" y="2602.9" font-size="20.4" textLength="220.3" lengthAdjust="spacingAndGlyphs" fill="#161616" stroke="#161616" stroke-width="0.33">tgt = tgt_lar + 10</text>
<text class="fm" x="1503.1" y="2643.9" font-size="20.4" textLength="49.0" lengthAdjust="spacingAndGlyphs" fill="#161616" stroke="#161616" stroke-width="0.33">lr =</text>
<text class="fm" x="1564.3" y="2643.9" font-size="20.4" textLength="159.1" lengthAdjust="spacingAndGlyphs" fill="#B8434E" stroke="#B8434E" stroke-width="0.33">_normalize_lr</text>
<text class="fm" x="1723.4" y="2643.9" font-size="20.4" textLength="146.9" lengthAdjust="spacingAndGlyphs" fill="#161616" stroke="#161616" stroke-width="0.33">(tgt_lr, 20)</text>
<text class="fm" x="1503.1" y="2684.4" font-size="20.4" textLength="171.4" lengthAdjust="spacingAndGlyphs" fill="#161616" stroke="#161616" stroke-width="0.33">opt.params[0][</text>
<text class="fm" x="1674.5" y="2684.4" font-size="20.4" textLength="49.0" lengthAdjust="spacingAndGlyphs" fill="#4A9A50" stroke="#4A9A50" stroke-width="0.33">'lr'</text>
<text class="fm" x="1723.4" y="2684.4" font-size="20.4" textLength="36.7" lengthAdjust="spacingAndGlyphs" fill="#161616" stroke="#161616" stroke-width="0.33">] =</text>
<text class="fm" x="1776.8" y="2684.4" font-size="20.4" textLength="24.5" lengthAdjust="spacingAndGlyphs" fill="#161616" stroke="#161616" stroke-width="0.33">lr</text>
<text class="fm" x="1503.1" y="2724.6" font-size="20.4" textLength="73.4" lengthAdjust="spacingAndGlyphs" fill="#4B8BD4" stroke="#4B8BD4" stroke-width="0.33">return</text>
<text class="fm" x="1589.5" y="2724.6" font-size="20.4" textLength="24.5" lengthAdjust="spacingAndGlyphs" fill="#161616" stroke="#161616" stroke-width="0.33">lr</text>
<text class="fm" x="1467.3" y="2786.3" font-size="20.4" textLength="134.6" lengthAdjust="spacingAndGlyphs" fill="#161616" stroke="#161616" stroke-width="0.33">return None</text>
<ellipse cx="1469.7" cy="2308.1" rx="26.6" ry="15.8" fill="none" stroke="#C4A01E" stroke-width="1.8" />
<ellipse cx="1534.1" cy="2347.9" rx="26.6" ry="15.8" fill="none" stroke="#C4A01E" stroke-width="1.8" />
<ellipse cx="1469.7" cy="2410.8" rx="26.6" ry="15.8" fill="none" stroke="#C4A01E" stroke-width="1.8" />
<ellipse cx="1535.3" cy="2450.6" rx="26.6" ry="15.8" fill="none" stroke="#C4A01E" stroke-width="1.8" />
<ellipse cx="1504.3" cy="2517.4" rx="26.6" ry="15.8" fill="none" stroke="#C4A01E" stroke-width="1.8" />
<ellipse cx="1514.3" cy="2637.5" rx="26.6" ry="15.8" fill="none" stroke="#C4A01E" stroke-width="1.8" />
<ellipse cx="1789.5" cy="2679.3" rx="26.6" ry="15.8" fill="none" stroke="#C4A01E" stroke-width="1.8" />
<ellipse cx="1603.7" cy="2719.0" rx="26.6" ry="15.8" fill="none" stroke="#C4A01E" stroke-width="1.8" />
<path d="M1534,2332 Q1515,2327 1496,2326" fill="none" stroke="#C4A01E" stroke-width="1.8" />
<polygon points="1488.5,2319.5 1502.4,2323.1 1496.2,2324.9 1496.7,2331.3" fill="#C4A01E"/>
<path d="M1535,2434.5 Q1516,2430 1497,2428.5" fill="none" stroke="#C4A01E" stroke-width="1.8" />
<polygon points="1489.5,2422.0 1503.4,2425.6 1497.2,2427.4 1497.7,2433.8" fill="#C4A01E"/>
<path d="M1580,2714 C1530,2690 1510,2600 1505,2545" fill="none" stroke="#C4A01E" stroke-width="1.8" />
<polygon points="1504.3,2533.5 1509.8,2546.8 1504.6,2542.9 1499.8,2547.2" fill="#C4A01E"/>
<path d="M1583,2710 C1545,2700 1522,2680 1516,2664" fill="none" stroke="#C4A01E" stroke-width="1.8" />
<polygon points="1514.5,2653.5 1521.3,2666.2 1515.8,2662.9 1511.4,2667.6" fill="#C4A01E"/>
<path d="M1630,2718.5 C1700,2718 1760,2708 1782,2700" fill="none" stroke="#C4A01E" stroke-width="1.8" />
<polygon points="1788.0,2695.3 1778.4,2706.1 1779.7,2699.7 1773.7,2697.2" fill="#C4A01E"/>
<polygon points="1900.5,2333.9 1939.0,2333.9 1939.0,2325.4 1958.0,2342.4 1939.0,2359.4 1939.0,2350.9 1900.5,2350.9" fill="#e1e1e1" stroke="#b2b2b2" stroke-width="1.6"/>
<polygon points="1900.5,2419.4 1939.0,2419.4 1939.0,2410.9 1958.0,2427.9 1939.0,2444.9 1939.0,2436.4 1900.5,2436.4" fill="#e1e1e1" stroke="#b2b2b2" stroke-width="1.6"/>
<polygon points="1900.5,2538.8 1939.0,2538.8 1939.0,2530.3 1958.0,2547.3 1939.0,2564.3 1939.0,2555.8 1900.5,2555.8" fill="#e1e1e1" stroke="#b2b2b2" stroke-width="1.6"/>
<polygon points="1906.0,2774.3 1946.0,2774.3 1946.0,2765.8 1965.0,2782.8 1946.0,2799.8 1946.0,2791.3 1906.0,2791.3" fill="#e1e1e1" stroke="#b2b2b2" stroke-width="1.6"/>
<rect x="1978.2" y="2244.9" width="180.2" height="372.0" fill="#fff" stroke="#000" stroke-width="4"/>
<rect x="1978.2" y="2244.9" width="180.2" height="39.8" fill="#E0E0E0" stroke="#000" stroke-width="4" filter="url(#sh)"/>
<text class="fs" x="2039.0" y="2273.5" font-size="27.8" textLength="51.0" lengthAdjust="spacingAndGlyphs" fill="#111">LMs</text>
<g transform="translate(2019.9,2304.2) scale(0.8760,0.8747)">
<linearGradient id="mg" x1="0" x2="1" y1="0" y2="0"><stop offset="0" stop-color="#3B7BF0"/><stop offset="0.5" stop-color="#2C63E0"/><stop offset="1" stop-color="#3F86F5"/></linearGradient>
<path d="M6,50 C2,20 22,2 36,8 C52,15 62,62 82,68 C98,70 97,38 90,22 C84,8 70,2 60,12 C48,24 34,66 18,68 C10,69 7,60 6,50 Z" fill="none" stroke="url(#mg)" stroke-width="11" stroke-linejoin="round"/>
</g>
<text class="fs" x="2019.1" y="2406.0" font-size="24.5" textLength="94.3" lengthAdjust="spacingAndGlyphs" font-weight="bold" fill="#111">Llama3</text>
<g transform="translate(2021.1,2438.7) scale(0.7960,0.7855)" fill="none" stroke="#111" stroke-width="7.5" stroke-linecap="round" stroke-linejoin="round">
<path d="M30,66 H52 Q62,66 62,56 V12 Q64,2 72,4 L78,20 L96,28 Q98,34 92,36 L82,36 V58"/>
<path d="M22,70 Q12,70 12,80 V88 Q12,95 4,95 Q12,95 12,102 V110 Q12,120 22,120"/>
<path d="M74,70 Q84,70 84,80 V88 Q84,95 92,95 Q84,95 84,102 V110 Q84,120 74,120"/>
<path d="M36,120 V106 Q36,94 48,94 Q60,94 60,106 V120"/>
</g>
<text class="fs" x="1994.1" y="2578.7" font-size="24.5" textLength="146.4" lengthAdjust="spacingAndGlyphs" font-weight="bold" fill="#111">CodeLlama</text>
<rect x="1976.2" y="2634.8" width="180.2" height="171.1" fill="#fff" stroke="#000" stroke-width="4"/>
<rect x="1976.2" y="2634.8" width="180.2" height="68.4" fill="#E0E0E0" stroke="#000" stroke-width="4" filter="url(#sh)"/>
<text class="fs" x="2039.8" y="2658.7" font-size="27.8" textLength="60.1" lengthAdjust="spacingAndGlyphs" fill="#111">Type</text>
<text class="fs" x="2000.0" y="2692.1" font-size="27.8" textLength="138.5" lengthAdjust="spacingAndGlyphs" fill="#111">Recognizer</text>
<g transform="translate(2034.3,2714.4) scale(0.6920,0.6582)">
<path d="M62,5 H14 Q5,5 5,14 V108 Q5,117 14,117 H86 Q95,117 95,108" fill="none" stroke="#111" stroke-width="9" stroke-linecap="round" stroke-linejoin="round"/>
<path d="M62,5 L95,40 H70 Q62,40 62,32 Z" fill="#fff" stroke="#111" stroke-width="8" stroke-linejoin="round"/>
<text class="fs" x="20" y="92" font-size="62" font-weight="bold" fill="#111">F</text>
<text class="fs" x="58" y="90" font-size="36" font-weight="bold" fill="#111" textLength="48" lengthAdjust="spacingAndGlyphs">(x)</text>
</g>
<text class="fm" x="2169.5" y="2352.3" font-size="27" textLength="80.4" lengthAdjust="spacingAndGlyphs" fill="#8C9B42">lr&lt;=1</text>
<text class="fm" x="2169.5" y="2436.7" font-size="27" textLength="80.4" lengthAdjust="spacingAndGlyphs" fill="#8C9B42">lr&lt;=1</text>
<text class="fm" x="2170.0" y="2563.2" font-size="27" textLength="80.0" lengthAdjust="spacingAndGlyphs" fill="#8C9B42">float</text>
<text class="fm" x="2170.3" y="2784.0" font-size="27" textLength="64.5" lengthAdjust="spacingAndGlyphs" fill="#8C9B42">none</text>
</g>
<text class="fs" x="2055.3" y="1782.5" font-size="47" textLength="515.7" lengthAdjust="spacingAndGlyphs" font-weight="bold" fill="#002060">Effectiveness of Nester:</text>
<text class="fs" x="2055.3" y="1846.7" font-size="47" textLength="980.7" lengthAdjust="spacingAndGlyphs" fill="#002060">Effectiveness of Nester  through experiments.</text>
<text class="fs" x="3111.2" y="1649.8" font-size="47" textLength="565.8" lengthAdjust="spacingAndGlyphs" font-weight="bold" fill="#002060">Interpretability of Nester:</text>
<text class="fs" x="3111.2" y="1713.7" font-size="47" textLength="657.4" lengthAdjust="spacingAndGlyphs" fill="#002060">We develope a VSCode plugin,</text>
<text class="fs" x="3111.2" y="1777.5" font-size="47" textLength="531.3" lengthAdjust="spacingAndGlyphs" fill="#002060">which demonstrated the</text>
<text class="fs" x="3111.2" y="1841.3" font-size="47" textLength="540.8" lengthAdjust="spacingAndGlyphs" fill="#002060">interpretability of Nester.</text>
</svg>
</body>
</html>
